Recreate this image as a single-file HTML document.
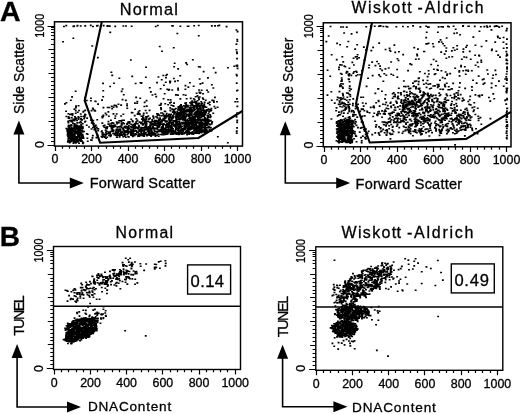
<!DOCTYPE html><html><head><meta charset="utf-8"><style>html,body{margin:0;padding:0;background:#fff;}svg{display:block;filter:grayscale(1);}text{font-family:"Liberation Sans", sans-serif;fill:#000;stroke:#000;stroke-width:0.3px;}</style></head><body>
<svg width="520" height="414" viewBox="0 0 520 414">
<rect width="520" height="414" fill="#fff"/>
<text x="-0.1" y="20.8" font-size="28.5" font-weight="bold">A</text>
<text x="-0.3" y="246.3" font-size="28" font-weight="bold">B</text>
<text x="119.8" y="15" font-size="16.3" textLength="58" lengthAdjust="spacing">Normal</text>
<g stroke="#000" fill="none">
<rect x="54.5" y="21.8" width="188" height="124.3" stroke-width="1.5"/>
<path d="M51 27.5h3M51 29.5h3M51 32.5h3M51 35.5h3M51 39.5h3M51 44.5h3M48.5 49.5h5.5M51 53.5h3M51 57.5h3M51 61.5h3M51 65.5h3M51 69.5h3M48.5 73.5h5.5M51 77.5h3M51 81.5h3M51 85.5h3M51 89.5h3M51 93.5h3M48.5 97.5h5.5M51 101.5h3M51 105.5h3M51 109.5h3M51 113.5h3M51 117.5h3M48.5 121.5h5.5M51 125.5h3M51 129.5h3M51 133.5h3M51 137.5h3M51 141.5h3M47.5 26.5h6.5M47.5 145.5h6.5" stroke-width="1.2"/>
<path d="M55.5 146v5M62.5 146v2.8M69.5 146v2.8M76.5 146v2.8M84.5 146v2.8M91.5 146v5M98.5 146v2.8M106.5 146v2.8M113.5 146v2.8M120.5 146v2.8M128.5 146v5M135.5 146v2.8M142.5 146v2.8M149.5 146v2.8M157.5 146v2.8M164.5 146v5M171.5 146v2.8M179.5 146v2.8M186.5 146v2.8M193.5 146v2.8M201.5 146v5M208.5 146v2.8M215.5 146v2.8M222.5 146v2.8M230.5 146v2.8M237.5 146v5" stroke-width="1.2"/>
</g>
<text x="55" y="163.3" font-size="12.4" text-anchor="middle">0</text>
<text x="91.5" y="163.3" font-size="12.4" text-anchor="middle">200</text>
<text x="128" y="163.3" font-size="12.4" text-anchor="middle">400</text>
<text x="164.5" y="163.3" font-size="12.4" text-anchor="middle">600</text>
<text x="201" y="163.3" font-size="12.4" text-anchor="middle">800</text>
<text x="237.5" y="163.3" font-size="12.4" text-anchor="middle">1000</text>
<text x="44" y="25.8" font-size="12.4" text-anchor="middle" textLength="24" lengthAdjust="spacingAndGlyphs" transform="rotate(-90 44 25.8)">1000</text>
<text x="44" y="144.6" font-size="12.4" text-anchor="middle" transform="rotate(-90 44 144.6)">0</text>
<text x="23.6" y="75.8" font-size="13.8" text-anchor="middle" textLength="76.5" lengthAdjust="spacing" transform="rotate(-90 23.6 75.8)">Side Scatter</text>
<text x="89.8" y="188" font-size="14.5" textLength="105.5" lengthAdjust="spacing">Forward Scatter</text>
<g stroke="#000" fill="#000">
<path d="M18.9 133.4V183H70.8" stroke-width="1.6" fill="none" stroke-linejoin="miter"/>
<polygon points="18.9,120.4 13.4,134.4 24.4,134.4" fill="#000" stroke="none"/>
<polygon points="83.8,183 69.8,177.5 69.8,188.5" fill="#000" stroke="none"/>
</g>
<polyline points="101.8,21.8 84.7,100.7 100.1,142.7 198.5,138 242.5,111" fill="none" stroke="#000" stroke-width="2.1" stroke-linejoin="miter"/>
<text x="351.6" y="13.2" font-size="15.7" textLength="54.5" lengthAdjust="spacing">Wiskot</text>
<text x="407.3" y="13.2" font-size="15.7">t</text>
<text x="417.6" y="13.2" font-size="15.7" textLength="66" lengthAdjust="spacing">-Aldrich</text>
<g stroke="#000" fill="none">
<rect x="323.3" y="22.8" width="187.7" height="124" stroke-width="1.5"/>
<path d="M320 28.5h3M320 30.5h3M320 32.5h3M320 36.5h3M320 40.5h3M320 45.5h3M317.5 50.5h5.5M320 54.5h3M320 58.5h3M320 62.5h3M320 66.5h3M320 70.5h3M317.5 74.5h5.5M320 78.5h3M320 82.5h3M320 86.5h3M320 90.5h3M320 94.5h3M317.5 98.5h5.5M320 102.5h3M320 106.5h3M320 110.5h3M320 114.5h3M320 118.5h3M317.5 122.5h5.5M320 126.5h3M320 130.5h3M320 134.5h3M320 138.5h3M320 142.5h3M316.5 26.5h6.5M316.5 146.5h6.5" stroke-width="1.2"/>
<path d="M324.5 147v5M331.5 147v2.8M338.5 147v2.8M345.5 147v2.8M353.5 147v2.8M360.5 147v5M367.5 147v2.8M375.5 147v2.8M382.5 147v2.8M389.5 147v2.8M397.5 147v5M404.5 147v2.8M411.5 147v2.8M418.5 147v2.8M426.5 147v2.8M433.5 147v5M440.5 147v2.8M448.5 147v2.8M455.5 147v2.8M462.5 147v2.8M470.5 147v5M477.5 147v2.8M484.5 147v2.8M491.5 147v2.8M499.5 147v2.8M506.5 147v5" stroke-width="1.2"/>
</g>
<text x="324" y="163.5" font-size="12.4" text-anchor="middle">0</text>
<text x="360.5" y="163.5" font-size="12.4" text-anchor="middle">200</text>
<text x="397" y="163.5" font-size="12.4" text-anchor="middle">400</text>
<text x="433.5" y="163.5" font-size="12.4" text-anchor="middle">600</text>
<text x="470" y="163.5" font-size="12.4" text-anchor="middle">800</text>
<text x="506.5" y="163.5" font-size="12.4" text-anchor="middle">1000</text>
<text x="313" y="26.3" font-size="12.4" text-anchor="middle" textLength="24" lengthAdjust="spacingAndGlyphs" transform="rotate(-90 313 26.3)">1000</text>
<text x="313" y="145" font-size="12.4" text-anchor="middle" transform="rotate(-90 313 145)">0</text>
<text x="293.3" y="75.8" font-size="13.8" text-anchor="middle" textLength="76.5" lengthAdjust="spacing" transform="rotate(-90 293.3 75.8)">Side Scatter</text>
<text x="355.6" y="188.6" font-size="14.5" textLength="106.5" lengthAdjust="spacing">Forward Scatter</text>
<g stroke="#000" fill="#000">
<path d="M285.3 134.3V183H337.2" stroke-width="1.6" fill="none" stroke-linejoin="miter"/>
<polygon points="285.3,121.3 279.8,135.3 290.8,135.3" fill="#000" stroke="none"/>
<polygon points="350.2,183 336.2,177.5 336.2,188.5" fill="#000" stroke="none"/>
</g>
<polyline points="372,22.8 356,103.8 369.7,142.5 466.2,138.9 511,111.8" fill="none" stroke="#000" stroke-width="2.1" stroke-linejoin="miter"/>
<text x="115.5" y="238.2" font-size="15.8" textLength="57.5" lengthAdjust="spacing">Normal</text>
<g stroke="#000" fill="none">
<rect x="53.5" y="246.5" width="187" height="123" stroke-width="1.4"/>
<path d="M50.3 252.5h3M50.3 254.5h3M50.3 256.5h3M50.3 260.5h3M50.3 263.5h3M50.3 268.5h3M47.8 274.5h5.5M50.3 278.5h3M50.3 281.5h3M50.3 285.5h3M50.3 289.5h3M50.3 293.5h3M47.8 297.5h5.5M50.3 301.5h3M50.3 305.5h3M50.3 309.5h3M50.3 313.5h3M50.3 317.5h3M47.8 321.5h5.5M50.3 325.5h3M50.3 329.5h3M50.3 333.5h3M50.3 337.5h3M50.3 340.5h3M47.8 344.5h5.5M50.3 348.5h3M50.3 352.5h3M50.3 356.5h3M50.3 360.5h3M50.3 364.5h3M46.8 250.5h6.5M46.8 368.5h6.5" stroke-width="1.2"/>
<path d="M54.5 369.5v5M61.5 369.5v2.8M68.5 369.5v2.8M76.5 369.5v2.8M83.5 369.5v2.8M90.5 369.5v5M97.5 369.5v2.8M104.5 369.5v2.8M112.5 369.5v2.8M119.5 369.5v2.8M126.5 369.5v5M133.5 369.5v2.8M141.5 369.5v2.8M148.5 369.5v2.8M155.5 369.5v2.8M162.5 369.5v5M170.5 369.5v2.8M177.5 369.5v2.8M184.5 369.5v2.8M191.5 369.5v2.8M199.5 369.5v5M206.5 369.5v2.8M213.5 369.5v2.8M220.5 369.5v2.8M227.5 369.5v2.8M235.5 369.5v5" stroke-width="1.2"/>
<path d="M53.5 306.2H240.5" stroke-width="1.4"/>
<rect x="187.6" y="264.9" width="43" height="29.2" stroke-width="1.4"/>
</g>
<text x="190.6" y="286.7" font-size="16.6" textLength="33.5" lengthAdjust="spacing">0.14</text>
<text x="54.3" y="387" font-size="12.4" text-anchor="middle">0</text>
<text x="90.48" y="387" font-size="12.4" text-anchor="middle">200</text>
<text x="126.66" y="387" font-size="12.4" text-anchor="middle">400</text>
<text x="162.84" y="387" font-size="12.4" text-anchor="middle">600</text>
<text x="199.02" y="387" font-size="12.4" text-anchor="middle">800</text>
<text x="235.2" y="387" font-size="12.4" text-anchor="middle">1000</text>
<text x="43" y="250.6" font-size="12.4" text-anchor="middle" textLength="24" lengthAdjust="spacingAndGlyphs" transform="rotate(-90 43 250.6)">1000</text>
<text x="43" y="368.5" font-size="12.4" text-anchor="middle" transform="rotate(-90 43 368.5)">0</text>
<text x="23.6" y="315.6" font-size="14.3" text-anchor="middle" textLength="40.5" lengthAdjust="spacing" transform="rotate(-90 23.6 315.6)">TUNEL</text>
<text x="87.9" y="411.2" font-size="13.6" textLength="83.3" lengthAdjust="spacing">DNAContent</text>
<g stroke="#000" fill="#000">
<path d="M17.1 357V407H68" stroke-width="1.6" fill="none" stroke-linejoin="miter"/>
<polygon points="17.1,344 11.6,358 22.6,358" fill="#000" stroke="none"/>
<polygon points="81,407 67,401.5 67,412.5" fill="#000" stroke="none"/>
</g>
<text x="341.6" y="238.2" font-size="16" textLength="54.5" lengthAdjust="spacing">Wiskot</text>
<text x="396.5" y="238.2" font-size="16">t</text>
<text x="407" y="238.2" font-size="16" textLength="66.5" lengthAdjust="spacing">-Aldrich</text>
<g stroke="#000" fill="none">
<rect x="315.8" y="246.8" width="187" height="123.5" stroke-width="1.4"/>
<path d="M312.6 252.5h3M312.6 254.5h3M312.6 256.5h3M312.6 260.5h3M312.6 263.5h3M312.6 268.5h3M310.1 274.5h5.5M312.6 278.5h3M312.6 282.5h3M312.6 286.5h3M312.6 290.5h3M312.6 293.5h3M310.1 297.5h5.5M312.6 301.5h3M312.6 305.5h3M312.6 309.5h3M312.6 313.5h3M312.6 317.5h3M310.1 321.5h5.5M312.6 325.5h3M312.6 329.5h3M312.6 333.5h3M312.6 337.5h3M312.6 341.5h3M310.1 345.5h5.5M312.6 349.5h3M312.6 353.5h3M312.6 357.5h3M312.6 361.5h3M312.6 365.5h3M309.1 250.5h6.5M309.1 369.5h6.5" stroke-width="1.2"/>
<path d="M316.5 370.3v5M323.5 370.3v2.8M330.5 370.3v2.8M338.5 370.3v2.8M345.5 370.3v2.8M352.5 370.3v5M359.5 370.3v2.8M367.5 370.3v2.8M374.5 370.3v2.8M381.5 370.3v2.8M388.5 370.3v5M395.5 370.3v2.8M403.5 370.3v2.8M410.5 370.3v2.8M417.5 370.3v2.8M424.5 370.3v5M432.5 370.3v2.8M439.5 370.3v2.8M446.5 370.3v2.8M453.5 370.3v2.8M461.5 370.3v5M468.5 370.3v2.8M475.5 370.3v2.8M482.5 370.3v2.8M490.5 370.3v2.8M497.5 370.3v5" stroke-width="1.2"/>
<path d="M315.8 307H502.8" stroke-width="1.4"/>
<rect x="451.3" y="263.9" width="43" height="29" stroke-width="1.4"/>
</g>
<text x="454.4" y="285.9" font-size="16.6" textLength="34.5" lengthAdjust="spacing">0.49</text>
<text x="316.3" y="387.5" font-size="12.4" text-anchor="middle">0</text>
<text x="352.52" y="387.5" font-size="12.4" text-anchor="middle">200</text>
<text x="388.74" y="387.5" font-size="12.4" text-anchor="middle">400</text>
<text x="424.96" y="387.5" font-size="12.4" text-anchor="middle">600</text>
<text x="461.18" y="387.5" font-size="12.4" text-anchor="middle">800</text>
<text x="497.4" y="387.5" font-size="12.4" text-anchor="middle">1000</text>
<text x="305.3" y="251" font-size="12.4" text-anchor="middle" textLength="24" lengthAdjust="spacingAndGlyphs" transform="rotate(-90 305.3 251)">1000</text>
<text x="305.3" y="368.4" font-size="12.4" text-anchor="middle" transform="rotate(-90 305.3 368.4)">0</text>
<text x="287.9" y="316.5" font-size="14.3" text-anchor="middle" textLength="41.5" lengthAdjust="spacing" transform="rotate(-90 287.9 316.5)">TUNEL</text>
<text x="352" y="411.7" font-size="13.6" textLength="83.8" lengthAdjust="spacing">DNAContent</text>
<g stroke="#000" fill="#000">
<path d="M282.6 357.8V406.8H334.4" stroke-width="1.6" fill="none" stroke-linejoin="miter"/>
<polygon points="282.6,344.8 277.1,358.8 288.1,358.8" fill="#000" stroke="none"/>
<polygon points="347.4,406.8 333.4,401.3 333.4,412.3" fill="#000" stroke="none"/>
</g>
<path fill="#000" d="M77.1 128.5h1.9v1.6h-1.9zM73.9 136.8h1.9v1.6h-1.9zM71.5 138.6h1.9v1.6h-1.9zM68.7 129.4h1.9v1.6h-1.9zM71.8 134.1h1.9v1.6h-1.9zM72.3 129.3h1.9v1.6h-1.9zM67.8 137.9h1.9v1.6h-1.9zM79.7 132.5h1.9v1.6h-1.9zM73.6 136.4h1.9v1.6h-1.9zM75.9 131.4h1.9v1.6h-1.9zM66.8 134.9h1.9v1.6h-1.9zM70.0 127.6h1.9v1.6h-1.9zM77.4 130.9h1.9v1.6h-1.9zM73.7 141.0h1.9v1.6h-1.9zM77.6 136.6h1.9v1.6h-1.9zM68.4 130.8h1.9v1.6h-1.9zM79.2 126.4h1.9v1.6h-1.9zM79.4 138.7h1.9v1.6h-1.9zM79.4 137.0h1.9v1.6h-1.9zM81.7 127.5h1.9v1.6h-1.9zM70.8 126.5h1.9v1.6h-1.9zM71.7 127.9h1.9v1.6h-1.9zM68.0 141.2h1.9v1.6h-1.9zM68.8 141.0h1.9v1.6h-1.9zM68.1 136.1h1.9v1.6h-1.9zM75.5 139.6h1.9v1.6h-1.9zM78.9 130.5h1.9v1.6h-1.9zM74.3 135.7h1.9v1.6h-1.9zM71.6 136.1h1.9v1.6h-1.9zM67.8 129.4h1.9v1.6h-1.9zM67.9 131.7h1.9v1.6h-1.9zM76.6 135.9h1.9v1.6h-1.9zM77.4 135.1h1.9v1.6h-1.9zM71.4 136.0h1.9v1.6h-1.9zM73.2 133.2h1.9v1.6h-1.9zM67.3 140.8h1.9v1.6h-1.9zM76.5 128.3h1.9v1.6h-1.9zM80.1 133.0h1.9v1.6h-1.9zM66.9 132.5h1.9v1.6h-1.9zM76.1 126.6h1.9v1.6h-1.9zM67.4 137.8h1.9v1.6h-1.9zM77.5 140.7h1.9v1.6h-1.9zM77.7 127.3h1.9v1.6h-1.9zM70.9 130.7h1.9v1.6h-1.9zM68.2 129.8h1.9v1.6h-1.9zM77.1 133.8h1.9v1.6h-1.9zM73.8 127.1h1.9v1.6h-1.9zM77.1 140.4h1.9v1.6h-1.9zM74.9 142.1h1.9v1.6h-1.9zM80.2 135.0h1.9v1.6h-1.9zM67.4 125.6h1.9v1.6h-1.9zM68.4 127.5h1.9v1.6h-1.9zM69.5 137.8h1.9v1.6h-1.9zM69.9 138.8h1.9v1.6h-1.9zM81.6 131.1h1.9v1.6h-1.9zM80.6 133.6h1.9v1.6h-1.9zM70.4 132.1h1.9v1.6h-1.9zM78.7 138.9h1.9v1.6h-1.9zM71.5 134.4h1.9v1.6h-1.9zM68.0 134.3h1.9v1.6h-1.9zM77.6 130.0h1.9v1.6h-1.9zM76.3 141.2h1.9v1.6h-1.9zM76.6 126.6h1.9v1.6h-1.9zM80.0 126.3h1.9v1.6h-1.9zM69.3 140.1h1.9v1.6h-1.9zM69.8 135.6h1.9v1.6h-1.9zM70.6 140.2h1.9v1.6h-1.9zM71.0 131.2h1.9v1.6h-1.9zM72.9 141.1h1.9v1.6h-1.9zM67.3 134.1h1.9v1.6h-1.9zM76.7 129.6h1.9v1.6h-1.9zM68.7 141.2h1.9v1.6h-1.9zM74.4 127.4h1.9v1.6h-1.9zM68.6 133.9h1.9v1.6h-1.9zM79.3 139.2h1.9v1.6h-1.9zM79.4 138.7h1.9v1.6h-1.9zM74.4 139.8h1.9v1.6h-1.9zM80.6 125.6h1.9v1.6h-1.9zM66.6 128.9h1.9v1.6h-1.9zM74.0 129.7h1.9v1.6h-1.9zM81.7 134.2h1.9v1.6h-1.9zM68.9 134.3h1.9v1.6h-1.9zM68.7 134.1h1.9v1.6h-1.9zM69.1 132.1h1.9v1.6h-1.9zM79.0 127.9h1.9v1.6h-1.9zM66.9 131.3h1.9v1.6h-1.9zM80.0 126.7h1.9v1.6h-1.9zM69.8 140.6h1.9v1.6h-1.9zM76.4 130.6h1.9v1.6h-1.9zM71.3 135.4h1.9v1.6h-1.9zM81.9 142.6h1.9v1.6h-1.9zM78.2 126.3h1.9v1.6h-1.9zM80.3 140.4h1.9v1.6h-1.9zM81.5 129.5h1.9v1.6h-1.9zM77.2 139.6h1.9v1.6h-1.9zM68.7 127.4h1.9v1.6h-1.9zM80.0 134.8h1.9v1.6h-1.9zM70.6 139.0h1.9v1.6h-1.9zM79.3 128.7h1.9v1.6h-1.9zM78.6 127.9h1.9v1.6h-1.9zM78.1 134.5h1.9v1.6h-1.9zM69.3 132.6h1.9v1.6h-1.9zM69.9 140.4h1.9v1.6h-1.9zM74.3 137.2h1.9v1.6h-1.9zM73.5 139.2h1.9v1.6h-1.9zM81.8 125.9h1.9v1.6h-1.9zM71.5 131.4h1.9v1.6h-1.9zM69.1 141.0h1.9v1.6h-1.9zM79.0 134.7h1.9v1.6h-1.9zM77.6 126.8h1.9v1.6h-1.9zM70.4 129.7h1.9v1.6h-1.9zM73.1 133.3h1.9v1.6h-1.9zM72.4 139.5h1.9v1.6h-1.9zM69.4 141.1h1.9v1.6h-1.9zM75.4 128.2h1.9v1.6h-1.9zM77.2 135.1h1.9v1.6h-1.9zM68.9 131.9h1.9v1.6h-1.9zM72.1 137.8h1.9v1.6h-1.9zM74.3 129.5h1.9v1.6h-1.9zM68.5 129.0h1.9v1.6h-1.9zM68.7 134.8h1.9v1.6h-1.9zM71.6 136.1h1.9v1.6h-1.9zM74.1 139.4h1.9v1.6h-1.9zM82.4 142.0h1.9v1.6h-1.9zM77.1 135.0h1.9v1.6h-1.9zM80.2 138.9h1.9v1.6h-1.9zM78.3 126.7h1.9v1.6h-1.9zM78.1 136.7h1.9v1.6h-1.9zM70.3 129.2h1.9v1.6h-1.9zM73.5 130.9h1.9v1.6h-1.9zM79.1 138.7h1.9v1.6h-1.9zM71.9 134.5h1.9v1.6h-1.9zM79.7 137.4h1.9v1.6h-1.9zM74.2 128.1h1.9v1.6h-1.9zM82.6 137.5h1.9v1.6h-1.9zM78.4 135.4h1.9v1.6h-1.9zM72.4 134.1h1.9v1.6h-1.9zM75.1 136.0h1.9v1.6h-1.9zM69.2 137.9h1.9v1.6h-1.9zM78.4 129.8h1.9v1.6h-1.9zM79.6 139.1h1.9v1.6h-1.9zM79.1 139.4h1.9v1.6h-1.9zM79.9 140.3h1.9v1.6h-1.9zM72.6 139.7h1.9v1.6h-1.9zM78.8 125.7h1.9v1.6h-1.9zM68.1 133.9h1.9v1.6h-1.9zM79.0 131.5h1.9v1.6h-1.9zM73.9 135.2h1.9v1.6h-1.9zM67.8 136.2h1.9v1.6h-1.9zM77.0 134.0h1.9v1.6h-1.9zM77.8 128.7h1.9v1.6h-1.9zM74.4 127.6h1.9v1.6h-1.9zM70.4 132.7h1.9v1.6h-1.9zM77.6 140.5h1.9v1.6h-1.9zM69.3 131.6h1.9v1.6h-1.9zM77.5 133.6h1.9v1.6h-1.9zM79.0 129.5h1.9v1.6h-1.9zM81.9 136.6h1.9v1.6h-1.9zM78.0 129.5h1.9v1.6h-1.9zM66.2 129.4h1.9v1.6h-1.9zM79.4 135.0h1.9v1.6h-1.9zM67.5 127.8h1.9v1.6h-1.9zM75.4 138.0h1.9v1.6h-1.9zM70.0 128.2h1.9v1.6h-1.9zM66.6 133.8h1.9v1.6h-1.9zM68.7 141.9h1.9v1.6h-1.9zM73.6 134.0h1.9v1.6h-1.9zM72.6 142.5h1.9v1.6h-1.9zM78.4 129.5h1.9v1.6h-1.9zM74.9 139.0h1.9v1.6h-1.9zM72.5 142.4h1.9v1.6h-1.9zM75.6 136.8h1.9v1.6h-1.9zM81.1 135.5h1.9v1.6h-1.9zM80.2 134.1h1.9v1.6h-1.9zM75.2 130.5h1.9v1.6h-1.9zM71.5 134.2h1.9v1.6h-1.9zM66.5 130.8h1.9v1.6h-1.9zM78.1 142.5h1.9v1.6h-1.9zM69.3 131.1h1.9v1.6h-1.9zM73.1 127.3h1.9v1.6h-1.9zM77.0 128.6h1.9v1.6h-1.9zM74.1 132.8h1.9v1.6h-1.9zM78.2 134.8h1.9v1.6h-1.9zM81.2 127.7h1.9v1.6h-1.9zM74.0 131.0h1.9v1.6h-1.9zM77.5 125.3h1.9v1.6h-1.9zM71.0 134.6h1.9v1.6h-1.9zM79.7 125.7h1.9v1.6h-1.9zM75.5 138.8h1.9v1.6h-1.9zM74.6 136.1h1.9v1.6h-1.9zM67.0 128.8h1.9v1.6h-1.9zM66.9 141.2h1.9v1.6h-1.9zM79.1 138.5h1.9v1.6h-1.9zM66.6 129.3h1.9v1.6h-1.9zM67.9 134.1h1.9v1.6h-1.9zM70.2 137.8h1.9v1.6h-1.9zM70.3 130.1h1.9v1.6h-1.9zM75.4 140.9h1.9v1.6h-1.9zM67.3 135.8h1.9v1.6h-1.9zM71.8 138.0h1.9v1.6h-1.9zM81.9 141.5h1.9v1.6h-1.9zM76.3 132.4h1.9v1.6h-1.9zM81.4 133.4h1.9v1.6h-1.9zM76.7 132.5h1.9v1.6h-1.9zM74.7 132.0h1.9v1.6h-1.9zM77.2 128.7h1.9v1.6h-1.9zM67.0 131.6h1.9v1.6h-1.9zM69.2 135.6h1.9v1.6h-1.9zM79.4 132.4h1.9v1.6h-1.9zM68.8 133.5h1.9v1.6h-1.9zM70.2 131.5h1.9v1.6h-1.9zM76.4 132.2h1.9v1.6h-1.9zM77.4 132.5h1.9v1.6h-1.9zM69.2 136.2h1.9v1.6h-1.9zM67.7 135.9h1.9v1.6h-1.9zM79.2 138.2h1.9v1.6h-1.9zM79.0 126.1h1.9v1.6h-1.9zM79.0 138.4h1.9v1.6h-1.9zM81.9 127.3h1.9v1.6h-1.9zM67.4 139.1h1.9v1.6h-1.9zM68.0 133.4h1.9v1.6h-1.9zM70.1 128.6h1.9v1.6h-1.9zM74.2 124.8h1.9v1.6h-1.9zM75.7 140.3h1.9v1.6h-1.9zM73.0 130.0h1.9v1.6h-1.9zM67.8 134.8h1.9v1.6h-1.9zM72.9 131.2h1.9v1.6h-1.9zM68.6 137.7h1.9v1.6h-1.9zM75.2 137.6h1.9v1.6h-1.9zM75.1 139.1h1.9v1.6h-1.9zM72.6 141.0h1.9v1.6h-1.9zM71.1 135.5h1.9v1.6h-1.9zM78.6 126.7h1.9v1.6h-1.9zM70.2 131.7h1.9v1.6h-1.9zM71.1 139.7h1.9v1.6h-1.9zM70.9 133.8h1.9v1.6h-1.9zM77.8 135.4h1.9v1.6h-1.9zM70.9 130.1h1.9v1.6h-1.9zM74.8 141.3h1.9v1.6h-1.9zM67.7 132.5h1.9v1.6h-1.9zM71.4 132.9h1.9v1.6h-1.9zM68.6 134.3h1.9v1.6h-1.9zM70.8 138.8h1.9v1.6h-1.9zM79.7 136.8h1.9v1.6h-1.9zM81.0 137.5h1.9v1.6h-1.9zM70.9 138.5h1.9v1.6h-1.9zM71.9 135.8h1.9v1.6h-1.9zM78.1 126.9h1.9v1.6h-1.9zM79.7 131.3h1.9v1.6h-1.9zM68.8 131.5h1.9v1.6h-1.9zM76.5 133.5h1.9v1.6h-1.9zM74.3 127.2h1.9v1.6h-1.9zM65.4 127.7h1.9v1.6h-1.9zM73.2 138.0h1.9v1.6h-1.9zM74.3 137.8h1.9v1.6h-1.9zM79.2 137.3h1.9v1.6h-1.9zM78.3 134.0h1.9v1.6h-1.9zM73.7 125.2h1.9v1.6h-1.9zM72.8 133.7h1.9v1.6h-1.9zM69.1 132.8h1.9v1.6h-1.9zM76.4 137.5h1.9v1.6h-1.9zM80.5 127.5h1.9v1.6h-1.9zM73.2 126.1h1.9v1.6h-1.9zM77.9 139.0h1.9v1.6h-1.9zM73.3 133.4h1.9v1.6h-1.9zM80.0 134.3h1.9v1.6h-1.9zM81.0 137.2h1.9v1.6h-1.9zM76.2 138.2h1.9v1.6h-1.9zM71.2 135.0h1.9v1.6h-1.9zM70.9 127.5h1.9v1.6h-1.9zM70.3 132.7h1.9v1.6h-1.9zM71.7 133.0h1.9v1.6h-1.9zM67.8 133.8h1.9v1.6h-1.9zM74.6 141.1h1.9v1.6h-1.9zM78.0 136.8h1.9v1.6h-1.9zM80.2 137.8h1.9v1.6h-1.9zM70.5 137.2h1.9v1.6h-1.9zM67.0 140.5h1.9v1.6h-1.9zM73.4 130.1h1.9v1.6h-1.9zM68.1 140.0h1.9v1.6h-1.9zM77.7 133.8h1.9v1.6h-1.9zM73.1 140.2h1.9v1.6h-1.9zM75.3 130.6h1.9v1.6h-1.9zM79.8 129.5h1.9v1.6h-1.9zM70.5 137.8h1.9v1.6h-1.9zM77.8 125.8h1.9v1.6h-1.9zM68.6 137.5h1.9v1.6h-1.9zM71.4 131.9h1.9v1.6h-1.9zM75.7 132.1h1.9v1.6h-1.9zM71.5 133.6h1.9v1.6h-1.9zM79.1 127.8h1.9v1.6h-1.9zM71.0 132.3h1.9v1.6h-1.9zM72.6 140.1h1.9v1.6h-1.9zM81.9 134.8h1.9v1.6h-1.9zM83.1 130.7h1.9v1.6h-1.9zM80.9 140.1h1.9v1.6h-1.9zM70.1 130.2h1.9v1.6h-1.9zM67.4 131.5h1.9v1.6h-1.9zM72.6 140.9h1.9v1.6h-1.9zM78.3 135.1h1.9v1.6h-1.9zM70.2 128.8h1.9v1.6h-1.9zM69.8 139.2h1.9v1.6h-1.9zM72.5 136.5h1.9v1.6h-1.9zM69.6 134.4h1.9v1.6h-1.9zM78.6 139.0h1.9v1.6h-1.9zM74.8 127.9h1.9v1.6h-1.9zM79.4 133.8h1.9v1.6h-1.9zM68.5 133.5h1.9v1.6h-1.9zM70.8 131.9h1.9v1.6h-1.9zM78.5 127.5h1.9v1.6h-1.9zM82.3 136.4h1.9v1.6h-1.9zM80.0 138.1h1.9v1.6h-1.9zM81.1 119.1h1.9v1.6h-1.9zM76.1 119.7h1.9v1.6h-1.9zM74.0 124.2h1.9v1.6h-1.9zM70.4 120.9h1.9v1.6h-1.9zM74.4 117.3h1.9v1.6h-1.9zM73.3 125.6h1.9v1.6h-1.9zM80.2 118.3h1.9v1.6h-1.9zM83.2 117.9h1.9v1.6h-1.9zM67.7 116.0h1.9v1.6h-1.9zM71.0 120.8h1.9v1.6h-1.9zM79.7 121.3h1.9v1.6h-1.9zM85.8 124.4h1.9v1.6h-1.9zM76.3 122.1h1.9v1.6h-1.9zM69.0 113.7h1.9v1.6h-1.9zM80.1 115.7h1.9v1.6h-1.9zM68.6 119.8h1.9v1.6h-1.9zM67.5 117.4h1.9v1.6h-1.9zM73.8 122.9h1.9v1.6h-1.9zM74.6 125.6h1.9v1.6h-1.9zM72.1 119.7h1.9v1.6h-1.9zM74.9 118.4h1.9v1.6h-1.9zM83.6 116.5h1.9v1.6h-1.9zM80.0 118.0h1.9v1.6h-1.9zM77.9 116.7h1.9v1.6h-1.9zM72.1 122.4h1.9v1.6h-1.9zM78.7 126.4h1.9v1.6h-1.9zM74.0 116.0h1.9v1.6h-1.9zM84.6 113.9h1.9v1.6h-1.9zM70.7 124.3h1.9v1.6h-1.9zM70.8 116.9h1.9v1.6h-1.9zM80.3 124.3h1.9v1.6h-1.9zM70.5 119.4h1.9v1.6h-1.9zM75.5 117.5h1.9v1.6h-1.9zM72.5 118.5h1.9v1.6h-1.9zM67.4 113.0h1.9v1.6h-1.9zM67.5 121.8h1.9v1.6h-1.9zM68.7 125.6h1.9v1.6h-1.9zM82.6 115.7h1.9v1.6h-1.9zM75.4 124.7h1.9v1.6h-1.9zM71.7 112.9h1.9v1.6h-1.9zM75.6 124.2h1.9v1.6h-1.9zM80.3 122.0h1.9v1.6h-1.9zM79.6 120.6h1.9v1.6h-1.9zM84.1 114.8h1.9v1.6h-1.9zM78.1 125.3h1.9v1.6h-1.9zM70.4 113.3h1.9v1.6h-1.9zM76.1 125.0h1.9v1.6h-1.9zM74.8 112.4h1.9v1.6h-1.9zM67.8 124.4h1.9v1.6h-1.9zM83.9 121.2h1.9v1.6h-1.9zM73.7 119.9h1.9v1.6h-1.9zM83.6 115.0h1.9v1.6h-1.9zM77.6 118.3h1.9v1.6h-1.9zM73.5 118.9h1.9v1.6h-1.9zM68.1 126.3h1.9v1.6h-1.9zM69.5 125.0h1.9v1.6h-1.9zM80.2 123.9h1.9v1.6h-1.9zM78.5 122.0h1.9v1.6h-1.9zM73.4 123.9h1.9v1.6h-1.9zM79.8 113.2h1.9v1.6h-1.9zM67.2 120.6h1.9v1.6h-1.9zM70.2 124.0h1.9v1.6h-1.9zM86.2 117.3h1.9v1.6h-1.9zM77.4 115.9h1.9v1.6h-1.9zM82.4 115.7h1.9v1.6h-1.9zM71.5 114.6h1.9v1.6h-1.9zM68.4 117.3h1.9v1.6h-1.9zM84.4 114.0h1.9v1.6h-1.9zM69.0 119.8h1.9v1.6h-1.9zM65.4 115.7h1.9v1.6h-1.9zM84.0 113.6h1.9v1.6h-1.9zM84.5 120.4h1.9v1.6h-1.9zM73.4 119.9h1.9v1.6h-1.9zM71.8 119.4h1.9v1.6h-1.9zM85.8 99.7h1.9v1.6h-1.9zM75.0 107.0h1.9v1.6h-1.9zM90.0 97.4h1.9v1.6h-1.9zM76.8 111.4h1.9v1.6h-1.9zM77.6 105.0h1.9v1.6h-1.9zM92.3 108.5h1.9v1.6h-1.9zM65.5 101.9h1.9v1.6h-1.9zM69.9 99.4h1.9v1.6h-1.9zM90.6 109.8h1.9v1.6h-1.9zM94.3 110.2h1.9v1.6h-1.9zM74.8 109.8h1.9v1.6h-1.9zM84.2 96.8h1.9v1.6h-1.9zM82.6 110.4h1.9v1.6h-1.9zM84.3 109.6h1.9v1.6h-1.9zM97.1 103.3h1.9v1.6h-1.9zM93.6 109.5h1.9v1.6h-1.9zM91.9 107.4h1.9v1.6h-1.9zM93.5 109.8h1.9v1.6h-1.9zM89.9 100.0h1.9v1.6h-1.9zM73.5 108.3h1.9v1.6h-1.9zM94.8 100.7h1.9v1.6h-1.9zM64.0 103.1h1.9v1.6h-1.9zM94.3 100.5h1.9v1.6h-1.9zM71.1 96.1h1.9v1.6h-1.9zM65.1 110.4h1.9v1.6h-1.9zM78.2 109.7h1.9v1.6h-1.9zM82.3 111.1h1.9v1.6h-1.9zM82.2 136.3h1.9v1.6h-1.9zM93.4 128.9h1.9v1.6h-1.9zM81.8 122.9h1.9v1.6h-1.9zM91.5 137.1h1.9v1.6h-1.9zM91.9 134.8h1.9v1.6h-1.9zM94.2 125.3h1.9v1.6h-1.9zM90.8 139.3h1.9v1.6h-1.9zM88.1 126.2h1.9v1.6h-1.9zM96.3 128.0h1.9v1.6h-1.9zM81.6 137.1h1.9v1.6h-1.9zM97.2 130.0h1.9v1.6h-1.9zM90.5 118.9h1.9v1.6h-1.9zM85.8 132.9h1.9v1.6h-1.9zM90.0 139.2h1.9v1.6h-1.9zM92.3 119.7h1.9v1.6h-1.9zM90.6 128.2h1.9v1.6h-1.9zM92.0 126.7h1.9v1.6h-1.9zM96.3 119.0h1.9v1.6h-1.9zM95.8 126.4h1.9v1.6h-1.9zM86.8 140.4h1.9v1.6h-1.9zM95.5 136.8h1.9v1.6h-1.9zM86.7 133.4h1.9v1.6h-1.9zM96.7 134.6h1.9v1.6h-1.9zM97.4 128.1h1.9v1.6h-1.9zM90.0 119.4h1.9v1.6h-1.9zM92.9 122.7h1.9v1.6h-1.9zM94.9 124.5h1.9v1.6h-1.9zM90.8 122.1h1.9v1.6h-1.9zM86.4 137.4h1.9v1.6h-1.9zM201.7 124.1h1.9v1.6h-1.9zM174.9 116.5h1.9v1.6h-1.9zM123.2 129.4h1.9v1.6h-1.9zM193.3 129.7h1.9v1.6h-1.9zM197.6 130.8h1.9v1.6h-1.9zM139.7 133.5h1.9v1.6h-1.9zM141.0 130.3h1.9v1.6h-1.9zM184.1 118.3h1.9v1.6h-1.9zM133.0 125.3h1.9v1.6h-1.9zM180.9 114.4h1.9v1.6h-1.9zM172.5 109.8h1.9v1.6h-1.9zM106.7 106.7h1.9v1.6h-1.9zM202.1 123.1h1.9v1.6h-1.9zM169.4 109.4h1.9v1.6h-1.9zM147.7 129.1h1.9v1.6h-1.9zM173.3 125.0h1.9v1.6h-1.9zM115.8 121.3h1.9v1.6h-1.9zM177.2 127.8h1.9v1.6h-1.9zM177.9 116.1h1.9v1.6h-1.9zM159.5 130.5h1.9v1.6h-1.9zM161.0 121.1h1.9v1.6h-1.9zM192.6 117.3h1.9v1.6h-1.9zM189.9 107.1h1.9v1.6h-1.9zM135.3 117.9h1.9v1.6h-1.9zM199.8 123.6h1.9v1.6h-1.9zM104.7 129.5h1.9v1.6h-1.9zM178.1 113.9h1.9v1.6h-1.9zM104.6 112.4h1.9v1.6h-1.9zM201.8 118.6h1.9v1.6h-1.9zM140.7 132.9h1.9v1.6h-1.9zM183.0 116.6h1.9v1.6h-1.9zM130.9 130.2h1.9v1.6h-1.9zM109.3 125.4h1.9v1.6h-1.9zM126.1 123.1h1.9v1.6h-1.9zM126.2 123.7h1.9v1.6h-1.9zM175.1 126.9h1.9v1.6h-1.9zM194.4 123.9h1.9v1.6h-1.9zM192.4 115.8h1.9v1.6h-1.9zM198.2 130.6h1.9v1.6h-1.9zM112.6 106.5h1.9v1.6h-1.9zM172.6 108.8h1.9v1.6h-1.9zM136.4 100.7h1.9v1.6h-1.9zM173.8 132.3h1.9v1.6h-1.9zM196.7 125.2h1.9v1.6h-1.9zM122.2 127.9h1.9v1.6h-1.9zM179.4 124.3h1.9v1.6h-1.9zM198.1 98.6h1.9v1.6h-1.9zM205.4 129.2h1.9v1.6h-1.9zM204.1 105.9h1.9v1.6h-1.9zM197.7 121.6h1.9v1.6h-1.9zM162.7 118.3h1.9v1.6h-1.9zM203.9 113.9h1.9v1.6h-1.9zM170.9 118.0h1.9v1.6h-1.9zM175.9 127.7h1.9v1.6h-1.9zM130.3 134.5h1.9v1.6h-1.9zM153.7 130.8h1.9v1.6h-1.9zM115.8 106.1h1.9v1.6h-1.9zM132.7 134.7h1.9v1.6h-1.9zM174.1 125.1h1.9v1.6h-1.9zM142.6 127.2h1.9v1.6h-1.9zM187.7 124.4h1.9v1.6h-1.9zM214.0 96.6h1.9v1.6h-1.9zM145.4 118.9h1.9v1.6h-1.9zM139.5 82.0h1.9v1.6h-1.9zM179.5 132.1h1.9v1.6h-1.9zM148.3 134.0h1.9v1.6h-1.9zM199.5 130.2h1.9v1.6h-1.9zM202.3 118.4h1.9v1.6h-1.9zM140.5 115.4h1.9v1.6h-1.9zM163.7 116.5h1.9v1.6h-1.9zM178.4 122.0h1.9v1.6h-1.9zM138.2 134.2h1.9v1.6h-1.9zM188.1 131.8h1.9v1.6h-1.9zM151.4 120.0h1.9v1.6h-1.9zM172.7 120.0h1.9v1.6h-1.9zM205.5 106.5h1.9v1.6h-1.9zM160.7 126.9h1.9v1.6h-1.9zM160.7 123.3h1.9v1.6h-1.9zM189.5 116.5h1.9v1.6h-1.9zM139.8 129.1h1.9v1.6h-1.9zM127.9 131.8h1.9v1.6h-1.9zM201.6 113.7h1.9v1.6h-1.9zM146.9 130.9h1.9v1.6h-1.9zM147.6 134.2h1.9v1.6h-1.9zM200.6 121.5h1.9v1.6h-1.9zM180.8 133.3h1.9v1.6h-1.9zM173.2 66.0h1.9v1.6h-1.9zM159.1 117.2h1.9v1.6h-1.9zM182.0 122.0h1.9v1.6h-1.9zM187.9 131.9h1.9v1.6h-1.9zM150.7 124.0h1.9v1.6h-1.9zM181.0 112.0h1.9v1.6h-1.9zM142.6 124.0h1.9v1.6h-1.9zM165.6 132.6h1.9v1.6h-1.9zM207.1 122.2h1.9v1.6h-1.9zM188.3 124.3h1.9v1.6h-1.9zM143.2 135.3h1.9v1.6h-1.9zM105.2 127.7h1.9v1.6h-1.9zM123.5 130.4h1.9v1.6h-1.9zM185.1 132.2h1.9v1.6h-1.9zM164.7 121.2h1.9v1.6h-1.9zM197.4 111.6h1.9v1.6h-1.9zM193.4 124.7h1.9v1.6h-1.9zM159.7 88.0h1.9v1.6h-1.9zM109.6 130.7h1.9v1.6h-1.9zM167.3 124.8h1.9v1.6h-1.9zM199.4 130.6h1.9v1.6h-1.9zM107.9 115.4h1.9v1.6h-1.9zM195.4 104.2h1.9v1.6h-1.9zM140.6 121.5h1.9v1.6h-1.9zM131.5 120.1h1.9v1.6h-1.9zM205.1 131.6h1.9v1.6h-1.9zM202.5 106.9h1.9v1.6h-1.9zM157.8 135.4h1.9v1.6h-1.9zM168.2 130.0h1.9v1.6h-1.9zM205.2 129.0h1.9v1.6h-1.9zM199.7 112.9h1.9v1.6h-1.9zM187.6 127.1h1.9v1.6h-1.9zM161.8 132.0h1.9v1.6h-1.9zM110.4 126.8h1.9v1.6h-1.9zM189.0 107.1h1.9v1.6h-1.9zM193.7 108.2h1.9v1.6h-1.9zM162.7 119.7h1.9v1.6h-1.9zM177.5 123.4h1.9v1.6h-1.9zM203.2 120.2h1.9v1.6h-1.9zM149.8 134.3h1.9v1.6h-1.9zM147.5 120.6h1.9v1.6h-1.9zM202.0 113.5h1.9v1.6h-1.9zM177.5 120.6h1.9v1.6h-1.9zM156.3 131.7h1.9v1.6h-1.9zM124.4 131.1h1.9v1.6h-1.9zM172.3 123.0h1.9v1.6h-1.9zM185.2 62.1h1.9v1.6h-1.9zM144.9 76.5h1.9v1.6h-1.9zM119.5 125.6h1.9v1.6h-1.9zM216.0 100.9h1.9v1.6h-1.9zM203.2 115.6h1.9v1.6h-1.9zM135.0 133.3h1.9v1.6h-1.9zM108.1 134.7h1.9v1.6h-1.9zM107.5 131.3h1.9v1.6h-1.9zM160.2 108.6h1.9v1.6h-1.9zM199.6 109.0h1.9v1.6h-1.9zM150.2 130.9h1.9v1.6h-1.9zM199.1 114.2h1.9v1.6h-1.9zM187.0 104.8h1.9v1.6h-1.9zM202.4 109.2h1.9v1.6h-1.9zM197.4 103.0h1.9v1.6h-1.9zM183.4 119.2h1.9v1.6h-1.9zM120.6 134.4h1.9v1.6h-1.9zM191.7 115.6h1.9v1.6h-1.9zM189.8 114.3h1.9v1.6h-1.9zM101.5 117.0h1.9v1.6h-1.9zM183.8 108.6h1.9v1.6h-1.9zM206.3 123.1h1.9v1.6h-1.9zM185.6 120.9h1.9v1.6h-1.9zM116.5 126.3h1.9v1.6h-1.9zM173.3 131.1h1.9v1.6h-1.9zM184.7 120.9h1.9v1.6h-1.9zM187.0 123.6h1.9v1.6h-1.9zM137.5 127.2h1.9v1.6h-1.9zM157.6 119.7h1.9v1.6h-1.9zM165.0 76.9h1.9v1.6h-1.9zM200.2 124.9h1.9v1.6h-1.9zM117.6 130.3h1.9v1.6h-1.9zM153.6 127.9h1.9v1.6h-1.9zM191.7 117.4h1.9v1.6h-1.9zM199.2 66.2h1.9v1.6h-1.9zM145.8 112.2h1.9v1.6h-1.9zM166.5 124.1h1.9v1.6h-1.9zM158.9 114.8h1.9v1.6h-1.9zM197.2 118.3h1.9v1.6h-1.9zM201.5 114.4h1.9v1.6h-1.9zM137.0 127.9h1.9v1.6h-1.9zM165.4 128.9h1.9v1.6h-1.9zM138.1 130.6h1.9v1.6h-1.9zM151.0 133.6h1.9v1.6h-1.9zM128.7 130.7h1.9v1.6h-1.9zM115.0 132.1h1.9v1.6h-1.9zM163.8 119.9h1.9v1.6h-1.9zM192.4 127.9h1.9v1.6h-1.9zM190.6 121.8h1.9v1.6h-1.9zM198.8 127.7h1.9v1.6h-1.9zM185.4 131.6h1.9v1.6h-1.9zM154.5 135.4h1.9v1.6h-1.9zM166.5 126.4h1.9v1.6h-1.9zM184.5 127.2h1.9v1.6h-1.9zM175.2 132.7h1.9v1.6h-1.9zM187.0 120.1h1.9v1.6h-1.9zM151.4 134.2h1.9v1.6h-1.9zM192.2 127.0h1.9v1.6h-1.9zM123.0 130.0h1.9v1.6h-1.9zM185.0 131.8h1.9v1.6h-1.9zM198.8 118.8h1.9v1.6h-1.9zM163.6 132.3h1.9v1.6h-1.9zM191.7 131.1h1.9v1.6h-1.9zM184.5 84.8h1.9v1.6h-1.9zM137.4 135.0h1.9v1.6h-1.9zM145.0 129.0h1.9v1.6h-1.9zM199.3 112.2h1.9v1.6h-1.9zM202.2 107.3h1.9v1.6h-1.9zM150.2 135.4h1.9v1.6h-1.9zM162.9 122.9h1.9v1.6h-1.9zM181.0 125.4h1.9v1.6h-1.9zM196.5 95.1h1.9v1.6h-1.9zM200.5 132.0h1.9v1.6h-1.9zM127.2 121.3h1.9v1.6h-1.9zM189.6 116.6h1.9v1.6h-1.9zM159.3 122.2h1.9v1.6h-1.9zM164.6 117.3h1.9v1.6h-1.9zM192.8 97.9h1.9v1.6h-1.9zM201.4 125.3h1.9v1.6h-1.9zM195.8 129.6h1.9v1.6h-1.9zM178.0 118.3h1.9v1.6h-1.9zM190.9 133.2h1.9v1.6h-1.9zM205.0 130.9h1.9v1.6h-1.9zM150.3 128.4h1.9v1.6h-1.9zM156.6 117.1h1.9v1.6h-1.9zM184.7 102.6h1.9v1.6h-1.9zM183.8 110.2h1.9v1.6h-1.9zM120.5 133.8h1.9v1.6h-1.9zM168.8 124.6h1.9v1.6h-1.9zM169.5 121.8h1.9v1.6h-1.9zM143.0 133.7h1.9v1.6h-1.9zM188.2 125.8h1.9v1.6h-1.9zM175.0 122.1h1.9v1.6h-1.9zM165.8 112.8h1.9v1.6h-1.9zM111.4 127.8h1.9v1.6h-1.9zM132.4 129.3h1.9v1.6h-1.9zM207.0 126.9h1.9v1.6h-1.9zM207.6 102.7h1.9v1.6h-1.9zM195.8 110.7h1.9v1.6h-1.9zM161.8 133.3h1.9v1.6h-1.9zM134.2 108.5h1.9v1.6h-1.9zM140.7 122.9h1.9v1.6h-1.9zM210.9 84.0h1.9v1.6h-1.9zM200.5 129.3h1.9v1.6h-1.9zM189.8 132.0h1.9v1.6h-1.9zM162.0 123.8h1.9v1.6h-1.9zM172.2 122.9h1.9v1.6h-1.9zM166.1 131.0h1.9v1.6h-1.9zM198.4 112.3h1.9v1.6h-1.9zM132.7 127.8h1.9v1.6h-1.9zM176.7 129.3h1.9v1.6h-1.9zM203.8 119.0h1.9v1.6h-1.9zM198.4 125.1h1.9v1.6h-1.9zM171.9 111.5h1.9v1.6h-1.9zM184.5 115.2h1.9v1.6h-1.9zM110.8 105.6h1.9v1.6h-1.9zM180.1 112.8h1.9v1.6h-1.9zM172.7 131.4h1.9v1.6h-1.9zM175.5 127.1h1.9v1.6h-1.9zM128.5 122.6h1.9v1.6h-1.9zM180.3 117.1h1.9v1.6h-1.9zM188.0 109.8h1.9v1.6h-1.9zM114.0 124.3h1.9v1.6h-1.9zM207.0 116.9h1.9v1.6h-1.9zM102.3 89.9h1.9v1.6h-1.9zM172.2 114.6h1.9v1.6h-1.9zM134.7 127.6h1.9v1.6h-1.9zM150.4 127.6h1.9v1.6h-1.9zM208.5 109.1h1.9v1.6h-1.9zM126.7 126.8h1.9v1.6h-1.9zM194.8 127.9h1.9v1.6h-1.9zM191.4 109.6h1.9v1.6h-1.9zM191.7 120.6h1.9v1.6h-1.9zM195.9 125.5h1.9v1.6h-1.9zM166.1 128.9h1.9v1.6h-1.9zM187.4 129.0h1.9v1.6h-1.9zM147.3 127.3h1.9v1.6h-1.9zM203.8 123.9h1.9v1.6h-1.9zM170.4 104.5h1.9v1.6h-1.9zM116.9 134.4h1.9v1.6h-1.9zM161.5 131.0h1.9v1.6h-1.9zM169.0 126.0h1.9v1.6h-1.9zM198.2 112.3h1.9v1.6h-1.9zM163.1 115.2h1.9v1.6h-1.9zM204.4 120.4h1.9v1.6h-1.9zM153.3 129.2h1.9v1.6h-1.9zM169.3 129.5h1.9v1.6h-1.9zM198.2 122.7h1.9v1.6h-1.9zM199.6 120.2h1.9v1.6h-1.9zM199.0 130.5h1.9v1.6h-1.9zM157.6 129.4h1.9v1.6h-1.9zM106.1 127.6h1.9v1.6h-1.9zM178.9 112.3h1.9v1.6h-1.9zM105.8 130.4h1.9v1.6h-1.9zM176.5 116.7h1.9v1.6h-1.9zM196.2 126.5h1.9v1.6h-1.9zM185.5 105.1h1.9v1.6h-1.9zM143.1 130.9h1.9v1.6h-1.9zM102.0 134.5h1.9v1.6h-1.9zM202.6 122.5h1.9v1.6h-1.9zM183.3 116.0h1.9v1.6h-1.9zM131.0 126.6h1.9v1.6h-1.9zM135.2 96.6h1.9v1.6h-1.9zM111.1 130.2h1.9v1.6h-1.9zM198.7 131.0h1.9v1.6h-1.9zM157.5 76.2h1.9v1.6h-1.9zM143.6 132.3h1.9v1.6h-1.9zM182.3 117.8h1.9v1.6h-1.9zM140.1 133.9h1.9v1.6h-1.9zM168.0 123.6h1.9v1.6h-1.9zM140.3 131.6h1.9v1.6h-1.9zM199.8 116.9h1.9v1.6h-1.9zM172.8 125.2h1.9v1.6h-1.9zM203.8 126.1h1.9v1.6h-1.9zM175.0 122.1h1.9v1.6h-1.9zM166.0 132.7h1.9v1.6h-1.9zM189.4 119.9h1.9v1.6h-1.9zM153.5 120.9h1.9v1.6h-1.9zM195.1 118.9h1.9v1.6h-1.9zM148.9 134.3h1.9v1.6h-1.9zM119.8 125.2h1.9v1.6h-1.9zM193.2 109.6h1.9v1.6h-1.9zM109.3 133.8h1.9v1.6h-1.9zM184.4 107.1h1.9v1.6h-1.9zM198.3 111.3h1.9v1.6h-1.9zM168.1 129.1h1.9v1.6h-1.9zM118.7 134.0h1.9v1.6h-1.9zM164.6 131.3h1.9v1.6h-1.9zM195.8 130.8h1.9v1.6h-1.9zM179.6 124.1h1.9v1.6h-1.9zM114.8 131.2h1.9v1.6h-1.9zM197.6 105.4h1.9v1.6h-1.9zM170.2 119.4h1.9v1.6h-1.9zM120.5 121.1h1.9v1.6h-1.9zM145.0 131.7h1.9v1.6h-1.9zM173.3 124.7h1.9v1.6h-1.9zM195.0 130.9h1.9v1.6h-1.9zM170.8 126.8h1.9v1.6h-1.9zM178.4 120.6h1.9v1.6h-1.9zM115.4 128.8h1.9v1.6h-1.9zM116.3 128.2h1.9v1.6h-1.9zM167.3 125.2h1.9v1.6h-1.9zM162.1 126.0h1.9v1.6h-1.9zM136.0 131.3h1.9v1.6h-1.9zM142.6 117.0h1.9v1.6h-1.9zM201.5 131.2h1.9v1.6h-1.9zM173.8 108.5h1.9v1.6h-1.9zM118.0 128.6h1.9v1.6h-1.9zM180.7 110.8h1.9v1.6h-1.9zM180.3 129.0h1.9v1.6h-1.9zM134.0 127.8h1.9v1.6h-1.9zM133.4 134.2h1.9v1.6h-1.9zM191.9 58.9h1.9v1.6h-1.9zM171.7 121.5h1.9v1.6h-1.9zM166.7 130.5h1.9v1.6h-1.9zM131.7 124.7h1.9v1.6h-1.9zM167.6 126.9h1.9v1.6h-1.9zM176.6 123.1h1.9v1.6h-1.9zM191.6 104.3h1.9v1.6h-1.9zM194.1 101.0h1.9v1.6h-1.9zM175.5 121.6h1.9v1.6h-1.9zM168.9 80.4h1.9v1.6h-1.9zM182.5 114.2h1.9v1.6h-1.9zM154.1 121.3h1.9v1.6h-1.9zM164.7 123.9h1.9v1.6h-1.9zM127.6 128.0h1.9v1.6h-1.9zM202.1 129.3h1.9v1.6h-1.9zM164.2 131.0h1.9v1.6h-1.9zM157.5 124.3h1.9v1.6h-1.9zM198.5 127.8h1.9v1.6h-1.9zM188.6 112.6h1.9v1.6h-1.9zM137.4 111.6h1.9v1.6h-1.9zM180.7 131.6h1.9v1.6h-1.9zM192.8 107.3h1.9v1.6h-1.9zM184.0 110.9h1.9v1.6h-1.9zM168.0 113.6h1.9v1.6h-1.9zM108.9 124.9h1.9v1.6h-1.9zM186.0 109.2h1.9v1.6h-1.9zM171.3 132.9h1.9v1.6h-1.9zM187.4 86.3h1.9v1.6h-1.9zM123.1 119.4h1.9v1.6h-1.9zM210.6 130.0h1.9v1.6h-1.9zM163.1 132.6h1.9v1.6h-1.9zM103.1 133.6h1.9v1.6h-1.9zM110.9 122.2h1.9v1.6h-1.9zM178.1 109.1h1.9v1.6h-1.9zM155.8 122.8h1.9v1.6h-1.9zM142.8 112.6h1.9v1.6h-1.9zM208.5 120.3h1.9v1.6h-1.9zM204.3 121.1h1.9v1.6h-1.9zM187.1 125.2h1.9v1.6h-1.9zM193.8 112.8h1.9v1.6h-1.9zM129.9 125.9h1.9v1.6h-1.9zM110.4 123.1h1.9v1.6h-1.9zM177.6 128.3h1.9v1.6h-1.9zM160.0 130.7h1.9v1.6h-1.9zM174.9 94.1h1.9v1.6h-1.9zM178.3 127.5h1.9v1.6h-1.9zM175.3 114.7h1.9v1.6h-1.9zM189.4 105.1h1.9v1.6h-1.9zM153.9 130.6h1.9v1.6h-1.9zM137.9 124.9h1.9v1.6h-1.9zM155.6 119.7h1.9v1.6h-1.9zM153.2 133.8h1.9v1.6h-1.9zM179.9 110.3h1.9v1.6h-1.9zM164.3 128.8h1.9v1.6h-1.9zM201.3 119.3h1.9v1.6h-1.9zM190.6 108.3h1.9v1.6h-1.9zM182.6 121.6h1.9v1.6h-1.9zM170.5 124.6h1.9v1.6h-1.9zM163.4 128.3h1.9v1.6h-1.9zM159.5 120.3h1.9v1.6h-1.9zM172.7 105.5h1.9v1.6h-1.9zM188.7 116.7h1.9v1.6h-1.9zM143.9 126.3h1.9v1.6h-1.9zM185.5 119.8h1.9v1.6h-1.9zM186.7 129.4h1.9v1.6h-1.9zM200.7 89.5h1.9v1.6h-1.9zM199.7 113.4h1.9v1.6h-1.9zM184.9 110.1h1.9v1.6h-1.9zM105.0 134.0h1.9v1.6h-1.9zM213.4 105.7h1.9v1.6h-1.9zM123.2 132.8h1.9v1.6h-1.9zM110.0 119.4h1.9v1.6h-1.9zM196.1 127.2h1.9v1.6h-1.9zM101.4 122.3h1.9v1.6h-1.9zM201.7 109.6h1.9v1.6h-1.9zM183.2 109.1h1.9v1.6h-1.9zM161.4 130.8h1.9v1.6h-1.9zM134.8 126.1h1.9v1.6h-1.9zM200.0 131.7h1.9v1.6h-1.9zM154.2 123.6h1.9v1.6h-1.9zM203.4 105.0h1.9v1.6h-1.9zM160.8 79.0h1.9v1.6h-1.9zM198.8 113.9h1.9v1.6h-1.9zM161.1 131.8h1.9v1.6h-1.9zM145.7 123.1h1.9v1.6h-1.9zM163.0 84.4h1.9v1.6h-1.9zM189.5 111.6h1.9v1.6h-1.9zM175.8 124.0h1.9v1.6h-1.9zM175.0 128.3h1.9v1.6h-1.9zM142.4 116.9h1.9v1.6h-1.9zM125.1 131.6h1.9v1.6h-1.9zM151.3 132.4h1.9v1.6h-1.9zM179.4 98.1h1.9v1.6h-1.9zM184.1 119.3h1.9v1.6h-1.9zM185.2 102.1h1.9v1.6h-1.9zM185.1 124.1h1.9v1.6h-1.9zM166.7 126.4h1.9v1.6h-1.9zM188.7 116.8h1.9v1.6h-1.9zM180.7 105.8h1.9v1.6h-1.9zM193.1 124.4h1.9v1.6h-1.9zM140.6 128.5h1.9v1.6h-1.9zM195.3 115.9h1.9v1.6h-1.9zM197.6 130.6h1.9v1.6h-1.9zM140.7 133.3h1.9v1.6h-1.9zM199.5 112.1h1.9v1.6h-1.9zM170.5 116.6h1.9v1.6h-1.9zM178.5 122.8h1.9v1.6h-1.9zM178.5 133.5h1.9v1.6h-1.9zM182.2 116.9h1.9v1.6h-1.9zM194.2 120.1h1.9v1.6h-1.9zM203.4 106.1h1.9v1.6h-1.9zM158.6 104.5h1.9v1.6h-1.9zM163.6 114.8h1.9v1.6h-1.9zM171.3 127.8h1.9v1.6h-1.9zM206.4 114.8h1.9v1.6h-1.9zM166.6 125.3h1.9v1.6h-1.9zM154.2 122.6h1.9v1.6h-1.9zM195.3 101.1h1.9v1.6h-1.9zM207.6 108.2h1.9v1.6h-1.9zM180.1 104.1h1.9v1.6h-1.9zM119.4 129.1h1.9v1.6h-1.9zM186.1 134.0h1.9v1.6h-1.9zM157.1 113.4h1.9v1.6h-1.9zM156.8 125.9h1.9v1.6h-1.9zM102.8 135.9h1.9v1.6h-1.9zM181.0 117.7h1.9v1.6h-1.9zM194.3 113.0h1.9v1.6h-1.9zM118.5 132.7h1.9v1.6h-1.9zM109.2 133.0h1.9v1.6h-1.9zM200.7 115.6h1.9v1.6h-1.9zM189.3 108.5h1.9v1.6h-1.9zM112.6 122.4h1.9v1.6h-1.9zM208.7 130.5h1.9v1.6h-1.9zM181.4 133.3h1.9v1.6h-1.9zM182.6 93.9h1.9v1.6h-1.9zM203.8 127.3h1.9v1.6h-1.9zM159.8 120.7h1.9v1.6h-1.9zM136.1 127.0h1.9v1.6h-1.9zM166.3 123.2h1.9v1.6h-1.9zM185.3 131.8h1.9v1.6h-1.9zM197.3 126.6h1.9v1.6h-1.9zM124.9 99.6h1.9v1.6h-1.9zM109.6 135.4h1.9v1.6h-1.9zM203.9 113.5h1.9v1.6h-1.9zM194.7 129.6h1.9v1.6h-1.9zM108.4 106.7h1.9v1.6h-1.9zM134.1 124.6h1.9v1.6h-1.9zM175.2 114.2h1.9v1.6h-1.9zM161.2 126.4h1.9v1.6h-1.9zM163.7 131.9h1.9v1.6h-1.9zM123.6 133.1h1.9v1.6h-1.9zM165.0 130.1h1.9v1.6h-1.9zM157.9 114.2h1.9v1.6h-1.9zM173.7 62.5h1.9v1.6h-1.9zM188.0 125.2h1.9v1.6h-1.9zM190.2 121.0h1.9v1.6h-1.9zM203.0 110.4h1.9v1.6h-1.9zM163.5 128.4h1.9v1.6h-1.9zM170.8 122.7h1.9v1.6h-1.9zM183.0 122.5h1.9v1.6h-1.9zM206.0 122.8h1.9v1.6h-1.9zM173.1 123.7h1.9v1.6h-1.9zM142.8 133.7h1.9v1.6h-1.9zM173.9 132.5h1.9v1.6h-1.9zM112.5 126.5h1.9v1.6h-1.9zM152.0 125.9h1.9v1.6h-1.9zM151.9 123.4h1.9v1.6h-1.9zM116.1 122.8h1.9v1.6h-1.9zM175.4 122.6h1.9v1.6h-1.9zM190.9 127.2h1.9v1.6h-1.9zM196.5 121.8h1.9v1.6h-1.9zM158.4 126.2h1.9v1.6h-1.9zM172.2 131.1h1.9v1.6h-1.9zM148.9 133.4h1.9v1.6h-1.9zM174.4 119.9h1.9v1.6h-1.9zM170.1 101.5h1.9v1.6h-1.9zM205.6 109.0h1.9v1.6h-1.9zM190.7 125.4h1.9v1.6h-1.9zM175.1 120.5h1.9v1.6h-1.9zM145.6 99.8h1.9v1.6h-1.9zM160.9 126.5h1.9v1.6h-1.9zM180.4 107.9h1.9v1.6h-1.9zM150.7 127.4h1.9v1.6h-1.9zM168.3 116.6h1.9v1.6h-1.9zM122.5 129.6h1.9v1.6h-1.9zM166.9 124.2h1.9v1.6h-1.9zM204.1 113.3h1.9v1.6h-1.9zM145.4 124.9h1.9v1.6h-1.9zM158.6 121.6h1.9v1.6h-1.9zM198.7 105.8h1.9v1.6h-1.9zM187.3 108.8h1.9v1.6h-1.9zM198.4 128.1h1.9v1.6h-1.9zM186.3 119.7h1.9v1.6h-1.9zM184.7 125.4h1.9v1.6h-1.9zM167.8 122.1h1.9v1.6h-1.9zM163.0 130.3h1.9v1.6h-1.9zM192.9 121.1h1.9v1.6h-1.9zM162.4 117.7h1.9v1.6h-1.9zM101.0 130.2h1.9v1.6h-1.9zM204.1 124.5h1.9v1.6h-1.9zM177.9 112.0h1.9v1.6h-1.9zM128.0 136.2h1.9v1.6h-1.9zM202.3 108.5h1.9v1.6h-1.9zM180.1 118.2h1.9v1.6h-1.9zM170.7 129.6h1.9v1.6h-1.9zM188.3 122.5h1.9v1.6h-1.9zM159.1 118.3h1.9v1.6h-1.9zM197.4 116.5h1.9v1.6h-1.9zM140.1 127.7h1.9v1.6h-1.9zM111.6 128.9h1.9v1.6h-1.9zM177.5 131.9h1.9v1.6h-1.9zM201.2 102.5h1.9v1.6h-1.9zM177.4 106.3h1.9v1.6h-1.9zM185.3 131.2h1.9v1.6h-1.9zM160.8 126.2h1.9v1.6h-1.9zM170.8 129.5h1.9v1.6h-1.9zM198.9 129.9h1.9v1.6h-1.9zM207.4 125.5h1.9v1.6h-1.9zM126.5 133.9h1.9v1.6h-1.9zM146.9 128.3h1.9v1.6h-1.9zM116.9 121.8h1.9v1.6h-1.9zM112.2 132.7h1.9v1.6h-1.9zM200.8 125.9h1.9v1.6h-1.9zM151.2 119.0h1.9v1.6h-1.9zM183.4 114.6h1.9v1.6h-1.9zM101.4 133.3h1.9v1.6h-1.9zM199.2 92.3h1.9v1.6h-1.9zM111.8 130.5h1.9v1.6h-1.9zM191.5 123.5h1.9v1.6h-1.9zM102.2 95.9h1.9v1.6h-1.9zM183.4 128.7h1.9v1.6h-1.9zM191.2 124.2h1.9v1.6h-1.9zM150.4 132.0h1.9v1.6h-1.9zM125.5 130.6h1.9v1.6h-1.9zM183.1 112.1h1.9v1.6h-1.9zM130.8 129.8h1.9v1.6h-1.9zM194.5 115.1h1.9v1.6h-1.9zM124.7 125.4h1.9v1.6h-1.9zM154.6 133.0h1.9v1.6h-1.9zM195.0 124.6h1.9v1.6h-1.9zM202.2 114.4h1.9v1.6h-1.9zM202.4 123.8h1.9v1.6h-1.9zM168.7 119.4h1.9v1.6h-1.9zM162.4 129.5h1.9v1.6h-1.9zM183.4 126.0h1.9v1.6h-1.9zM143.0 127.0h1.9v1.6h-1.9zM205.7 127.1h1.9v1.6h-1.9zM190.9 113.5h1.9v1.6h-1.9zM153.9 123.5h1.9v1.6h-1.9zM167.8 127.2h1.9v1.6h-1.9zM172.3 115.5h1.9v1.6h-1.9zM146.4 129.1h1.9v1.6h-1.9zM205.9 129.2h1.9v1.6h-1.9zM170.0 130.8h1.9v1.6h-1.9zM201.3 125.2h1.9v1.6h-1.9zM141.6 127.1h1.9v1.6h-1.9zM185.7 98.0h1.9v1.6h-1.9zM206.8 118.7h1.9v1.6h-1.9zM200.3 104.9h1.9v1.6h-1.9zM154.6 124.4h1.9v1.6h-1.9zM173.1 102.3h1.9v1.6h-1.9zM173.4 124.3h1.9v1.6h-1.9zM135.3 123.0h1.9v1.6h-1.9zM208.9 104.0h1.9v1.6h-1.9zM164.3 102.9h1.9v1.6h-1.9zM195.0 102.6h1.9v1.6h-1.9zM171.1 127.2h1.9v1.6h-1.9zM119.6 130.4h1.9v1.6h-1.9zM148.2 131.0h1.9v1.6h-1.9zM161.1 133.9h1.9v1.6h-1.9zM111.9 125.0h1.9v1.6h-1.9zM179.9 126.7h1.9v1.6h-1.9zM187.9 115.0h1.9v1.6h-1.9zM172.3 104.9h1.9v1.6h-1.9zM125.4 129.9h1.9v1.6h-1.9zM136.8 122.9h1.9v1.6h-1.9zM144.7 129.0h1.9v1.6h-1.9zM147.3 115.2h1.9v1.6h-1.9zM205.1 120.4h1.9v1.6h-1.9zM194.5 105.2h1.9v1.6h-1.9zM117.1 128.7h1.9v1.6h-1.9zM161.3 126.1h1.9v1.6h-1.9zM194.6 116.1h1.9v1.6h-1.9zM192.7 125.9h1.9v1.6h-1.9zM130.7 126.7h1.9v1.6h-1.9zM162.6 97.9h1.9v1.6h-1.9zM118.1 128.6h1.9v1.6h-1.9zM127.2 136.0h1.9v1.6h-1.9zM164.4 110.7h1.9v1.6h-1.9zM191.3 117.6h1.9v1.6h-1.9zM169.5 122.2h1.9v1.6h-1.9zM138.0 124.8h1.9v1.6h-1.9zM193.6 101.6h1.9v1.6h-1.9zM177.7 127.1h1.9v1.6h-1.9zM190.5 116.6h1.9v1.6h-1.9zM167.6 122.5h1.9v1.6h-1.9zM167.7 124.0h1.9v1.6h-1.9zM209.9 126.8h1.9v1.6h-1.9zM138.3 126.1h1.9v1.6h-1.9zM167.4 115.1h1.9v1.6h-1.9zM175.3 132.8h1.9v1.6h-1.9zM163.8 131.7h1.9v1.6h-1.9zM174.1 111.7h1.9v1.6h-1.9zM169.2 131.0h1.9v1.6h-1.9zM174.6 125.3h1.9v1.6h-1.9zM164.5 116.0h1.9v1.6h-1.9zM117.0 131.3h1.9v1.6h-1.9zM170.6 126.8h1.9v1.6h-1.9zM148.0 132.5h1.9v1.6h-1.9zM183.5 108.8h1.9v1.6h-1.9zM184.0 126.4h1.9v1.6h-1.9zM158.1 130.6h1.9v1.6h-1.9zM132.5 126.8h1.9v1.6h-1.9zM177.0 112.6h1.9v1.6h-1.9zM154.5 130.8h1.9v1.6h-1.9zM189.1 101.9h1.9v1.6h-1.9zM155.3 95.8h1.9v1.6h-1.9zM193.3 125.3h1.9v1.6h-1.9zM205.5 118.2h1.9v1.6h-1.9zM169.3 107.0h1.9v1.6h-1.9zM140.5 123.0h1.9v1.6h-1.9zM191.5 132.8h1.9v1.6h-1.9zM168.7 119.3h1.9v1.6h-1.9zM156.0 130.9h1.9v1.6h-1.9zM102.5 114.6h1.9v1.6h-1.9zM148.1 134.0h1.9v1.6h-1.9zM206.5 118.8h1.9v1.6h-1.9zM144.1 118.7h1.9v1.6h-1.9zM202.4 104.7h1.9v1.6h-1.9zM178.9 106.3h1.9v1.6h-1.9zM174.3 133.0h1.9v1.6h-1.9zM165.4 114.4h1.9v1.6h-1.9zM185.4 115.2h1.9v1.6h-1.9zM126.6 127.8h1.9v1.6h-1.9zM175.4 128.4h1.9v1.6h-1.9zM137.1 131.8h1.9v1.6h-1.9zM170.0 127.8h1.9v1.6h-1.9zM181.4 121.9h1.9v1.6h-1.9zM204.5 125.9h1.9v1.6h-1.9zM125.7 131.3h1.9v1.6h-1.9zM197.8 109.7h1.9v1.6h-1.9zM103.7 124.4h1.9v1.6h-1.9zM150.8 132.3h1.9v1.6h-1.9zM101.8 131.9h1.9v1.6h-1.9zM196.2 115.0h1.9v1.6h-1.9zM204.0 111.5h1.9v1.6h-1.9zM101.2 136.4h1.9v1.6h-1.9zM178.0 117.9h1.9v1.6h-1.9zM207.4 122.3h1.9v1.6h-1.9zM182.5 128.0h1.9v1.6h-1.9zM185.7 124.0h1.9v1.6h-1.9zM188.2 127.4h1.9v1.6h-1.9zM150.4 123.5h1.9v1.6h-1.9zM196.5 115.5h1.9v1.6h-1.9zM163.8 115.8h1.9v1.6h-1.9zM179.4 132.1h1.9v1.6h-1.9zM124.3 134.1h1.9v1.6h-1.9zM127.4 131.3h1.9v1.6h-1.9zM165.2 127.1h1.9v1.6h-1.9zM191.6 127.7h1.9v1.6h-1.9zM177.6 106.0h1.9v1.6h-1.9zM162.7 118.2h1.9v1.6h-1.9zM182.2 112.5h1.9v1.6h-1.9zM107.4 111.1h1.9v1.6h-1.9zM183.4 111.4h1.9v1.6h-1.9zM168.6 121.3h1.9v1.6h-1.9zM141.0 118.3h1.9v1.6h-1.9zM169.9 126.3h1.9v1.6h-1.9zM189.1 126.8h1.9v1.6h-1.9zM188.5 121.8h1.9v1.6h-1.9zM186.0 114.0h1.9v1.6h-1.9zM194.3 112.1h1.9v1.6h-1.9zM183.8 115.5h1.9v1.6h-1.9zM209.8 130.1h1.9v1.6h-1.9zM133.8 130.5h1.9v1.6h-1.9zM179.0 132.0h1.9v1.6h-1.9zM190.8 114.5h1.9v1.6h-1.9zM166.1 124.7h1.9v1.6h-1.9zM175.4 112.8h1.9v1.6h-1.9zM116.7 128.4h1.9v1.6h-1.9zM167.2 98.9h1.9v1.6h-1.9zM177.4 125.8h1.9v1.6h-1.9zM149.1 125.1h1.9v1.6h-1.9zM204.5 112.9h1.9v1.6h-1.9zM184.9 130.7h1.9v1.6h-1.9zM155.2 115.9h1.9v1.6h-1.9zM152.7 132.1h1.9v1.6h-1.9zM140.2 121.7h1.9v1.6h-1.9zM186.8 108.5h1.9v1.6h-1.9zM141.7 115.4h1.9v1.6h-1.9zM139.3 97.4h1.9v1.6h-1.9zM176.6 113.1h1.9v1.6h-1.9zM203.7 130.6h1.9v1.6h-1.9zM163.5 127.9h1.9v1.6h-1.9zM133.7 123.0h1.9v1.6h-1.9zM165.9 123.7h1.9v1.6h-1.9zM202.3 127.0h1.9v1.6h-1.9zM192.8 125.9h1.9v1.6h-1.9zM196.4 114.6h1.9v1.6h-1.9zM202.2 106.9h1.9v1.6h-1.9zM142.8 131.9h1.9v1.6h-1.9zM208.3 126.3h1.9v1.6h-1.9zM121.1 131.2h1.9v1.6h-1.9zM118.3 119.9h1.9v1.6h-1.9zM161.8 127.8h1.9v1.6h-1.9zM132.3 132.4h1.9v1.6h-1.9zM202.2 131.1h1.9v1.6h-1.9zM202.1 115.4h1.9v1.6h-1.9zM184.9 126.4h1.9v1.6h-1.9zM153.7 122.1h1.9v1.6h-1.9zM202.9 111.3h1.9v1.6h-1.9zM179.0 127.1h1.9v1.6h-1.9zM198.4 91.6h1.9v1.6h-1.9zM172.1 129.7h1.9v1.6h-1.9zM174.4 130.7h1.9v1.6h-1.9zM170.7 126.3h1.9v1.6h-1.9zM167.8 118.2h1.9v1.6h-1.9zM198.0 105.4h1.9v1.6h-1.9zM202.9 109.2h1.9v1.6h-1.9zM172.9 77.7h1.9v1.6h-1.9zM126.0 131.0h1.9v1.6h-1.9zM211.3 121.0h1.9v1.6h-1.9zM198.6 115.2h1.9v1.6h-1.9zM172.0 123.0h1.9v1.6h-1.9zM144.0 121.2h1.9v1.6h-1.9zM128.2 127.3h1.9v1.6h-1.9zM138.4 129.8h1.9v1.6h-1.9zM157.7 123.3h1.9v1.6h-1.9zM132.6 125.3h1.9v1.6h-1.9zM183.3 125.1h1.9v1.6h-1.9zM172.5 131.8h1.9v1.6h-1.9zM195.1 111.9h1.9v1.6h-1.9zM170.4 131.0h1.9v1.6h-1.9zM197.4 112.9h1.9v1.6h-1.9zM158.2 119.4h1.9v1.6h-1.9zM206.9 120.0h1.9v1.6h-1.9zM168.7 115.8h1.9v1.6h-1.9zM192.4 133.3h1.9v1.6h-1.9zM195.7 92.5h1.9v1.6h-1.9zM140.4 126.7h1.9v1.6h-1.9zM200.6 111.5h1.9v1.6h-1.9zM126.7 129.6h1.9v1.6h-1.9zM193.2 115.7h1.9v1.6h-1.9zM119.5 126.0h1.9v1.6h-1.9zM189.6 117.4h1.9v1.6h-1.9zM102.5 106.8h1.9v1.6h-1.9zM112.3 130.7h1.9v1.6h-1.9zM204.8 99.5h1.9v1.6h-1.9zM207.1 131.0h1.9v1.6h-1.9zM182.4 113.1h1.9v1.6h-1.9zM121.3 119.4h1.9v1.6h-1.9zM200.6 116.1h1.9v1.6h-1.9zM194.9 122.8h1.9v1.6h-1.9zM185.8 131.8h1.9v1.6h-1.9zM197.5 112.9h1.9v1.6h-1.9zM132.5 126.1h1.9v1.6h-1.9zM117.7 128.5h1.9v1.6h-1.9zM126.1 105.0h1.9v1.6h-1.9zM192.8 125.3h1.9v1.6h-1.9zM186.0 109.8h1.9v1.6h-1.9zM194.2 105.9h1.9v1.6h-1.9zM187.2 129.8h1.9v1.6h-1.9zM148.0 125.9h1.9v1.6h-1.9zM196.9 109.2h1.9v1.6h-1.9zM127.3 126.1h1.9v1.6h-1.9zM133.0 124.5h1.9v1.6h-1.9zM133.7 134.5h1.9v1.6h-1.9zM193.0 129.9h1.9v1.6h-1.9zM145.9 133.6h1.9v1.6h-1.9zM106.0 127.3h1.9v1.6h-1.9zM120.7 90.6h1.9v1.6h-1.9zM165.1 126.5h1.9v1.6h-1.9zM128.2 121.1h1.9v1.6h-1.9zM204.1 117.7h1.9v1.6h-1.9zM194.7 96.0h1.9v1.6h-1.9zM172.2 116.8h1.9v1.6h-1.9zM175.9 132.7h1.9v1.6h-1.9zM147.4 129.5h1.9v1.6h-1.9zM112.7 124.4h1.9v1.6h-1.9zM200.8 127.8h1.9v1.6h-1.9zM159.1 118.5h1.9v1.6h-1.9zM141.6 135.0h1.9v1.6h-1.9zM161.0 114.9h1.9v1.6h-1.9zM198.7 106.8h1.9v1.6h-1.9zM200.3 101.0h1.9v1.6h-1.9zM192.9 121.9h1.9v1.6h-1.9zM155.6 120.8h1.9v1.6h-1.9zM131.6 111.9h1.9v1.6h-1.9zM186.1 121.2h1.9v1.6h-1.9zM119.7 132.0h1.9v1.6h-1.9zM196.7 112.2h1.9v1.6h-1.9zM185.0 120.3h1.9v1.6h-1.9zM157.0 125.4h1.9v1.6h-1.9zM110.3 125.0h1.9v1.6h-1.9zM138.4 113.1h1.9v1.6h-1.9zM195.7 113.7h1.9v1.6h-1.9zM138.2 133.0h1.9v1.6h-1.9zM155.4 120.1h1.9v1.6h-1.9zM197.6 96.8h1.9v1.6h-1.9zM145.3 127.4h1.9v1.6h-1.9zM204.5 117.0h1.9v1.6h-1.9zM145.3 122.4h1.9v1.6h-1.9zM193.4 123.7h1.9v1.6h-1.9zM169.7 114.2h1.9v1.6h-1.9zM206.7 122.7h1.9v1.6h-1.9zM197.8 122.1h1.9v1.6h-1.9zM144.4 122.2h1.9v1.6h-1.9zM193.1 113.6h1.9v1.6h-1.9zM123.2 126.7h1.9v1.6h-1.9zM199.4 129.0h1.9v1.6h-1.9zM113.0 125.7h1.9v1.6h-1.9zM102.6 125.1h1.9v1.6h-1.9zM143.4 105.7h1.9v1.6h-1.9zM180.7 106.8h1.9v1.6h-1.9zM166.3 88.5h1.9v1.6h-1.9zM145.4 127.8h1.9v1.6h-1.9zM182.8 104.9h1.9v1.6h-1.9zM204.5 130.2h1.9v1.6h-1.9zM154.7 127.8h1.9v1.6h-1.9zM186.0 122.7h1.9v1.6h-1.9zM181.5 106.4h1.9v1.6h-1.9zM118.7 136.1h1.9v1.6h-1.9zM148.7 127.4h1.9v1.6h-1.9zM191.6 111.0h1.9v1.6h-1.9zM181.1 129.2h1.9v1.6h-1.9zM197.7 131.2h1.9v1.6h-1.9zM204.9 129.5h1.9v1.6h-1.9zM153.9 119.8h1.9v1.6h-1.9zM146.6 116.0h1.9v1.6h-1.9zM118.5 132.9h1.9v1.6h-1.9zM199.1 112.6h1.9v1.6h-1.9zM166.7 133.1h1.9v1.6h-1.9zM113.4 104.6h1.9v1.6h-1.9zM205.1 111.7h1.9v1.6h-1.9zM135.5 130.0h1.9v1.6h-1.9zM167.6 132.0h1.9v1.6h-1.9zM126.2 125.9h1.9v1.6h-1.9zM155.0 121.0h1.9v1.6h-1.9zM187.3 132.6h1.9v1.6h-1.9zM203.9 129.4h1.9v1.6h-1.9zM186.8 113.6h1.9v1.6h-1.9zM186.2 63.7h1.9v1.6h-1.9zM185.7 129.8h1.9v1.6h-1.9zM118.7 134.8h1.9v1.6h-1.9zM190.1 111.4h1.9v1.6h-1.9zM165.7 131.3h1.9v1.6h-1.9zM149.6 126.3h1.9v1.6h-1.9zM126.3 107.4h1.9v1.6h-1.9zM173.8 111.1h1.9v1.6h-1.9zM148.7 133.1h1.9v1.6h-1.9zM200.4 120.4h1.9v1.6h-1.9zM190.0 101.6h1.9v1.6h-1.9zM201.5 129.2h1.9v1.6h-1.9zM137.6 111.2h1.9v1.6h-1.9zM205.2 106.5h1.9v1.6h-1.9zM151.5 124.2h1.9v1.6h-1.9zM173.3 112.5h1.9v1.6h-1.9zM204.2 112.4h1.9v1.6h-1.9zM104.7 126.9h1.9v1.6h-1.9zM193.9 128.7h1.9v1.6h-1.9zM189.7 128.3h1.9v1.6h-1.9zM120.2 115.2h1.9v1.6h-1.9zM174.0 132.1h1.9v1.6h-1.9zM207.1 116.3h1.9v1.6h-1.9zM159.9 130.0h1.9v1.6h-1.9zM186.3 106.2h1.9v1.6h-1.9zM177.4 108.2h1.9v1.6h-1.9zM170.7 119.1h1.9v1.6h-1.9zM182.4 107.9h1.9v1.6h-1.9zM143.4 128.6h1.9v1.6h-1.9zM134.7 122.8h1.9v1.6h-1.9zM130.3 118.5h1.9v1.6h-1.9zM209.5 108.9h1.9v1.6h-1.9zM177.9 125.7h1.9v1.6h-1.9zM192.7 85.5h1.9v1.6h-1.9zM133.8 114.8h1.9v1.6h-1.9zM198.4 107.4h1.9v1.6h-1.9zM177.2 129.4h1.9v1.6h-1.9zM180.3 115.2h1.9v1.6h-1.9zM197.7 118.0h1.9v1.6h-1.9zM156.6 114.4h1.9v1.6h-1.9zM190.1 122.9h1.9v1.6h-1.9zM194.5 126.8h1.9v1.6h-1.9zM190.5 113.2h1.9v1.6h-1.9zM168.3 88.7h1.9v1.6h-1.9zM200.0 114.4h1.9v1.6h-1.9zM152.6 116.3h1.9v1.6h-1.9zM189.9 117.8h1.9v1.6h-1.9zM169.6 115.1h1.9v1.6h-1.9zM201.9 119.1h1.9v1.6h-1.9zM116.3 128.9h1.9v1.6h-1.9zM170.3 128.1h1.9v1.6h-1.9zM190.5 127.9h1.9v1.6h-1.9zM195.7 102.7h1.9v1.6h-1.9zM138.2 130.2h1.9v1.6h-1.9zM115.6 132.4h1.9v1.6h-1.9zM129.3 130.8h1.9v1.6h-1.9zM111.7 122.1h1.9v1.6h-1.9zM175.5 122.7h1.9v1.6h-1.9zM175.2 115.5h1.9v1.6h-1.9zM177.9 116.2h1.9v1.6h-1.9zM123.2 123.0h1.9v1.6h-1.9zM155.7 116.2h1.9v1.6h-1.9zM194.3 126.5h1.9v1.6h-1.9zM163.7 93.0h1.9v1.6h-1.9zM165.8 133.3h1.9v1.6h-1.9zM144.9 115.9h1.9v1.6h-1.9zM101.7 135.3h1.9v1.6h-1.9zM162.5 113.3h1.9v1.6h-1.9zM173.7 111.4h1.9v1.6h-1.9zM109.0 132.1h1.9v1.6h-1.9zM157.2 121.1h1.9v1.6h-1.9zM192.4 104.7h1.9v1.6h-1.9zM122.7 129.8h1.9v1.6h-1.9zM171.5 117.8h1.9v1.6h-1.9zM132.5 124.0h1.9v1.6h-1.9zM162.3 123.3h1.9v1.6h-1.9zM114.0 132.8h1.9v1.6h-1.9zM183.2 132.8h1.9v1.6h-1.9zM207.0 77.1h1.9v1.6h-1.9zM103.4 126.5h1.9v1.6h-1.9zM201.6 129.5h1.9v1.6h-1.9zM206.8 121.1h1.9v1.6h-1.9zM197.2 110.8h1.9v1.6h-1.9zM149.9 121.3h1.9v1.6h-1.9zM165.2 124.6h1.9v1.6h-1.9zM198.8 125.1h1.9v1.6h-1.9zM150.4 130.2h1.9v1.6h-1.9zM151.9 126.0h1.9v1.6h-1.9zM168.5 120.2h1.9v1.6h-1.9zM195.7 122.8h1.9v1.6h-1.9zM197.0 109.9h1.9v1.6h-1.9zM119.4 119.9h1.9v1.6h-1.9zM190.9 122.2h1.9v1.6h-1.9zM132.9 130.4h1.9v1.6h-1.9zM201.2 121.4h1.9v1.6h-1.9zM198.7 78.2h1.9v1.6h-1.9zM207.2 115.1h1.9v1.6h-1.9zM156.6 128.5h1.9v1.6h-1.9zM196.6 132.3h1.9v1.6h-1.9zM212.4 87.2h1.9v1.6h-1.9zM198.3 126.4h1.9v1.6h-1.9zM194.3 115.8h1.9v1.6h-1.9zM184.4 124.3h1.9v1.6h-1.9zM194.8 122.9h1.9v1.6h-1.9zM214.5 107.5h1.9v1.6h-1.9zM187.3 127.0h1.9v1.6h-1.9zM151.9 123.0h1.9v1.6h-1.9zM106.2 136.5h1.9v1.6h-1.9zM148.7 121.5h1.9v1.6h-1.9zM152.7 127.5h1.9v1.6h-1.9zM190.2 125.8h1.9v1.6h-1.9zM199.6 91.8h1.9v1.6h-1.9zM118.6 126.2h1.9v1.6h-1.9zM170.1 113.5h1.9v1.6h-1.9zM153.7 127.3h1.9v1.6h-1.9zM162.1 127.6h1.9v1.6h-1.9zM180.7 132.1h1.9v1.6h-1.9zM145.3 124.9h1.9v1.6h-1.9zM130.9 129.3h1.9v1.6h-1.9zM188.5 128.3h1.9v1.6h-1.9zM189.6 123.0h1.9v1.6h-1.9zM186.3 125.1h1.9v1.6h-1.9zM136.2 102.5h1.9v1.6h-1.9zM183.3 131.8h1.9v1.6h-1.9zM143.1 135.4h1.9v1.6h-1.9zM175.2 117.4h1.9v1.6h-1.9zM190.7 112.1h1.9v1.6h-1.9zM144.9 126.2h1.9v1.6h-1.9zM175.6 131.8h1.9v1.6h-1.9zM174.1 80.6h1.9v1.6h-1.9zM113.5 134.0h1.9v1.6h-1.9zM176.5 112.6h1.9v1.6h-1.9zM165.7 131.6h1.9v1.6h-1.9zM190.7 112.8h1.9v1.6h-1.9zM201.8 109.5h1.9v1.6h-1.9zM120.9 124.1h1.9v1.6h-1.9zM150.3 131.8h1.9v1.6h-1.9zM206.9 102.4h1.9v1.6h-1.9zM196.7 130.4h1.9v1.6h-1.9zM101.1 99.3h1.9v1.6h-1.9zM160.1 112.2h1.9v1.6h-1.9zM172.5 115.5h1.9v1.6h-1.9zM109.5 135.7h1.9v1.6h-1.9zM179.3 115.5h1.9v1.6h-1.9zM127.2 125.9h1.9v1.6h-1.9zM185.8 111.1h1.9v1.6h-1.9zM109.8 135.0h1.9v1.6h-1.9zM148.6 109.6h1.9v1.6h-1.9zM206.0 123.2h1.9v1.6h-1.9zM180.6 121.7h1.9v1.6h-1.9zM203.0 122.5h1.9v1.6h-1.9zM172.1 127.9h1.9v1.6h-1.9zM175.0 119.8h1.9v1.6h-1.9zM178.3 107.6h1.9v1.6h-1.9zM198.4 131.3h1.9v1.6h-1.9zM156.1 127.2h1.9v1.6h-1.9zM115.0 134.4h1.9v1.6h-1.9zM190.1 119.2h1.9v1.6h-1.9zM197.7 128.2h1.9v1.6h-1.9zM112.5 113.1h1.9v1.6h-1.9zM178.7 105.8h1.9v1.6h-1.9zM115.8 129.1h1.9v1.6h-1.9zM133.5 134.9h1.9v1.6h-1.9zM171.3 108.3h1.9v1.6h-1.9zM132.4 131.1h1.9v1.6h-1.9zM194.4 128.6h1.9v1.6h-1.9zM176.2 131.6h1.9v1.6h-1.9zM191.9 118.7h1.9v1.6h-1.9zM214.7 71.8h1.9v1.6h-1.9zM126.7 130.9h1.9v1.6h-1.9zM169.6 99.1h1.9v1.6h-1.9zM188.2 123.6h1.9v1.6h-1.9zM161.4 112.2h1.9v1.6h-1.9zM206.2 124.5h1.9v1.6h-1.9zM202.5 98.5h1.9v1.6h-1.9zM153.8 120.4h1.9v1.6h-1.9zM201.8 97.3h1.9v1.6h-1.9zM165.3 132.4h1.9v1.6h-1.9zM110.4 71.5h1.9v1.6h-1.9zM205.9 110.1h1.9v1.6h-1.9zM177.1 133.2h1.9v1.6h-1.9zM193.7 99.1h1.9v1.6h-1.9zM182.1 130.5h1.9v1.6h-1.9zM171.9 122.5h1.9v1.6h-1.9zM198.9 115.2h1.9v1.6h-1.9zM187.7 131.1h1.9v1.6h-1.9zM198.3 124.7h1.9v1.6h-1.9zM194.6 111.4h1.9v1.6h-1.9zM166.3 114.9h1.9v1.6h-1.9zM105.1 137.5h1.9v1.6h-1.9zM185.3 104.1h1.9v1.6h-1.9zM195.9 105.8h1.9v1.6h-1.9zM167.2 104.0h1.9v1.6h-1.9zM159.4 122.5h1.9v1.6h-1.9zM142.4 118.6h1.9v1.6h-1.9zM201.1 130.2h1.9v1.6h-1.9zM196.6 119.7h1.9v1.6h-1.9zM193.1 105.6h1.9v1.6h-1.9zM175.0 107.7h1.9v1.6h-1.9zM170.0 121.7h1.9v1.6h-1.9zM130.4 132.7h1.9v1.6h-1.9zM162.0 123.5h1.9v1.6h-1.9zM134.0 102.3h1.9v1.6h-1.9zM169.9 130.7h1.9v1.6h-1.9zM100.6 131.0h1.9v1.6h-1.9zM183.1 118.0h1.9v1.6h-1.9zM100.5 135.7h1.9v1.6h-1.9zM187.5 131.0h1.9v1.6h-1.9zM189.6 109.9h1.9v1.6h-1.9zM169.6 126.4h1.9v1.6h-1.9zM179.4 113.8h1.9v1.6h-1.9zM138.1 134.6h1.9v1.6h-1.9zM171.3 89.2h1.9v1.6h-1.9zM191.4 120.1h1.9v1.6h-1.9zM190.5 132.0h1.9v1.6h-1.9zM160.5 129.0h1.9v1.6h-1.9zM168.2 119.1h1.9v1.6h-1.9zM163.7 132.7h1.9v1.6h-1.9zM143.2 130.2h1.9v1.6h-1.9zM145.6 120.8h1.9v1.6h-1.9zM189.3 128.9h1.9v1.6h-1.9zM180.1 106.9h1.9v1.6h-1.9zM167.4 123.9h1.9v1.6h-1.9zM191.0 102.8h1.9v1.6h-1.9zM203.7 101.6h1.9v1.6h-1.9zM123.8 135.5h1.9v1.6h-1.9zM198.9 122.0h1.9v1.6h-1.9zM185.1 122.0h1.9v1.6h-1.9zM179.8 108.1h1.9v1.6h-1.9zM161.0 120.8h1.9v1.6h-1.9zM152.3 122.9h1.9v1.6h-1.9zM203.6 110.5h1.9v1.6h-1.9zM199.9 123.1h1.9v1.6h-1.9zM198.1 132.6h1.9v1.6h-1.9zM155.7 116.0h1.9v1.6h-1.9zM207.8 119.1h1.9v1.6h-1.9zM178.7 129.4h1.9v1.6h-1.9zM193.5 105.1h1.9v1.6h-1.9zM137.7 126.4h1.9v1.6h-1.9zM146.8 128.5h1.9v1.6h-1.9zM172.1 115.0h1.9v1.6h-1.9zM204.6 123.3h1.9v1.6h-1.9zM126.1 103.2h1.9v1.6h-1.9zM200.6 128.4h1.9v1.6h-1.9zM187.6 118.0h1.9v1.6h-1.9zM203.1 126.7h1.9v1.6h-1.9zM174.1 126.0h1.9v1.6h-1.9zM199.7 118.9h1.9v1.6h-1.9zM198.8 96.2h1.9v1.6h-1.9zM161.1 129.0h1.9v1.6h-1.9zM135.2 121.2h1.9v1.6h-1.9zM163.3 115.0h1.9v1.6h-1.9zM212.8 99.8h1.9v1.6h-1.9zM192.5 125.8h1.9v1.6h-1.9zM207.5 113.0h1.9v1.6h-1.9zM192.2 123.4h1.9v1.6h-1.9zM173.3 110.2h1.9v1.6h-1.9zM185.8 131.9h1.9v1.6h-1.9zM154.6 134.5h1.9v1.6h-1.9zM180.8 128.7h1.9v1.6h-1.9zM188.2 108.5h1.9v1.6h-1.9zM202.4 130.6h1.9v1.6h-1.9zM200.5 113.1h1.9v1.6h-1.9zM151.5 94.2h1.9v1.6h-1.9zM205.4 132.0h1.9v1.6h-1.9zM201.4 114.9h1.9v1.6h-1.9zM196.2 120.8h1.9v1.6h-1.9zM198.4 119.5h1.9v1.6h-1.9zM122.4 113.4h1.9v1.6h-1.9zM168.8 131.0h1.9v1.6h-1.9zM126.5 134.0h1.9v1.6h-1.9zM132.8 126.3h1.9v1.6h-1.9zM196.2 103.9h1.9v1.6h-1.9zM180.6 106.1h1.9v1.6h-1.9zM163.7 117.0h1.9v1.6h-1.9zM154.9 122.7h1.9v1.6h-1.9zM158.4 122.6h1.9v1.6h-1.9zM183.5 125.9h1.9v1.6h-1.9zM128.0 124.9h1.9v1.6h-1.9zM183.0 122.6h1.9v1.6h-1.9zM189.0 82.0h1.9v1.6h-1.9zM201.0 114.0h1.9v1.6h-1.9zM187.0 106.2h1.9v1.6h-1.9zM189.8 97.6h1.9v1.6h-1.9zM186.5 113.6h1.9v1.6h-1.9zM169.6 121.7h1.9v1.6h-1.9zM196.3 118.7h1.9v1.6h-1.9zM183.0 112.9h1.9v1.6h-1.9zM183.5 125.7h1.9v1.6h-1.9zM144.7 125.3h1.9v1.6h-1.9zM195.6 128.2h1.9v1.6h-1.9zM189.1 119.1h1.9v1.6h-1.9zM189.3 126.3h1.9v1.6h-1.9zM121.6 127.8h1.9v1.6h-1.9zM177.9 131.5h1.9v1.6h-1.9zM138.4 135.4h1.9v1.6h-1.9zM203.9 126.6h1.9v1.6h-1.9zM198.1 102.6h1.9v1.6h-1.9zM176.3 111.4h1.9v1.6h-1.9zM196.2 114.0h1.9v1.6h-1.9zM127.3 128.8h1.9v1.6h-1.9zM186.3 118.9h1.9v1.6h-1.9zM209.3 116.7h1.9v1.6h-1.9zM159.7 104.4h1.9v1.6h-1.9zM160.0 106.9h1.9v1.6h-1.9zM188.6 127.5h1.9v1.6h-1.9zM187.5 127.6h1.9v1.6h-1.9zM153.2 124.5h1.9v1.6h-1.9zM193.4 116.2h1.9v1.6h-1.9zM177.7 133.1h1.9v1.6h-1.9zM176.4 114.7h1.9v1.6h-1.9zM198.1 125.2h1.9v1.6h-1.9zM196.5 119.6h1.9v1.6h-1.9zM184.5 88.5h1.9v1.6h-1.9zM188.0 125.2h1.9v1.6h-1.9zM177.1 108.8h1.9v1.6h-1.9zM129.8 128.6h1.9v1.6h-1.9zM169.1 130.3h1.9v1.6h-1.9zM188.1 115.6h1.9v1.6h-1.9zM189.3 117.3h1.9v1.6h-1.9zM121.1 134.5h1.9v1.6h-1.9zM185.3 111.1h1.9v1.6h-1.9zM162.5 131.2h1.9v1.6h-1.9zM145.0 123.8h1.9v1.6h-1.9zM127.1 128.3h1.9v1.6h-1.9zM152.2 115.3h1.9v1.6h-1.9zM145.1 66.5h1.9v1.6h-1.9zM195.3 106.1h1.9v1.6h-1.9zM191.0 117.8h1.9v1.6h-1.9zM199.6 105.1h1.9v1.6h-1.9zM181.8 111.6h1.9v1.6h-1.9zM188.5 115.7h1.9v1.6h-1.9zM159.3 128.8h1.9v1.6h-1.9zM181.2 107.6h1.9v1.6h-1.9zM192.7 132.3h1.9v1.6h-1.9zM149.9 91.1h1.9v1.6h-1.9zM153.4 124.1h1.9v1.6h-1.9zM171.5 121.4h1.9v1.6h-1.9zM122.2 136.0h1.9v1.6h-1.9zM150.5 121.6h1.9v1.6h-1.9zM211.3 99.6h1.9v1.6h-1.9zM158.0 118.7h1.9v1.6h-1.9zM159.0 130.7h1.9v1.6h-1.9zM203.3 103.4h1.9v1.6h-1.9zM157.3 133.4h1.9v1.6h-1.9zM175.7 120.7h1.9v1.6h-1.9zM188.1 119.9h1.9v1.6h-1.9zM192.1 116.4h1.9v1.6h-1.9zM169.0 128.9h1.9v1.6h-1.9zM120.3 132.8h1.9v1.6h-1.9zM208.0 126.4h1.9v1.6h-1.9zM190.6 124.3h1.9v1.6h-1.9zM117.5 103.4h1.9v1.6h-1.9zM178.4 124.1h1.9v1.6h-1.9zM196.3 111.0h1.9v1.6h-1.9zM123.4 130.9h1.9v1.6h-1.9zM142.6 122.8h1.9v1.6h-1.9zM192.9 116.7h1.9v1.6h-1.9zM181.8 119.2h1.9v1.6h-1.9zM181.6 108.1h1.9v1.6h-1.9zM149.1 117.6h1.9v1.6h-1.9zM201.9 112.5h1.9v1.6h-1.9zM180.1 130.5h1.9v1.6h-1.9zM197.0 108.2h1.9v1.6h-1.9zM203.4 114.4h1.9v1.6h-1.9zM171.9 133.3h1.9v1.6h-1.9zM198.9 126.2h1.9v1.6h-1.9zM144.7 109.7h1.9v1.6h-1.9zM211.0 121.9h1.9v1.6h-1.9zM176.6 116.5h1.9v1.6h-1.9zM205.0 121.9h1.9v1.6h-1.9zM120.2 104.3h1.9v1.6h-1.9zM178.0 117.8h1.9v1.6h-1.9zM196.5 113.3h1.9v1.6h-1.9zM200.6 109.5h1.9v1.6h-1.9zM130.4 131.3h1.9v1.6h-1.9zM200.1 123.6h1.9v1.6h-1.9zM200.0 108.8h1.9v1.6h-1.9zM102.2 115.6h1.9v1.6h-1.9zM178.8 117.4h1.9v1.6h-1.9zM200.9 124.2h1.9v1.6h-1.9zM184.7 106.2h1.9v1.6h-1.9zM188.3 130.7h1.9v1.6h-1.9zM179.0 108.4h1.9v1.6h-1.9zM201.6 82.3h1.9v1.6h-1.9zM184.7 113.1h1.9v1.6h-1.9zM185.3 122.6h1.9v1.6h-1.9zM181.4 110.6h1.9v1.6h-1.9zM149.4 123.5h1.9v1.6h-1.9zM188.9 117.6h1.9v1.6h-1.9zM184.3 126.2h1.9v1.6h-1.9zM196.6 100.0h1.9v1.6h-1.9zM197.0 129.8h1.9v1.6h-1.9zM205.3 124.2h1.9v1.6h-1.9zM190.5 121.8h1.9v1.6h-1.9zM132.4 127.2h1.9v1.6h-1.9zM175.2 94.0h1.9v1.6h-1.9zM167.3 125.4h1.9v1.6h-1.9zM200.3 102.9h1.9v1.6h-1.9zM199.2 131.1h1.9v1.6h-1.9zM193.9 105.1h1.9v1.6h-1.9zM123.7 125.8h1.9v1.6h-1.9zM168.8 117.5h1.9v1.6h-1.9zM110.7 128.1h1.9v1.6h-1.9zM182.7 115.1h1.9v1.6h-1.9zM144.1 133.1h1.9v1.6h-1.9zM193.0 107.7h1.9v1.6h-1.9zM204.3 127.7h1.9v1.6h-1.9zM162.6 134.0h1.9v1.6h-1.9zM155.8 124.8h1.9v1.6h-1.9zM162.9 129.5h1.9v1.6h-1.9zM152.2 134.2h1.9v1.6h-1.9zM179.2 118.7h1.9v1.6h-1.9zM173.7 133.0h1.9v1.6h-1.9zM169.9 133.3h1.9v1.6h-1.9zM199.7 107.4h1.9v1.6h-1.9zM182.8 128.8h1.9v1.6h-1.9zM186.3 108.7h1.9v1.6h-1.9zM192.7 127.4h1.9v1.6h-1.9zM203.9 128.3h1.9v1.6h-1.9zM193.8 117.6h1.9v1.6h-1.9zM162.4 133.4h1.9v1.6h-1.9zM135.5 133.7h1.9v1.6h-1.9zM182.3 129.3h1.9v1.6h-1.9zM190.0 122.7h1.9v1.6h-1.9zM122.7 132.5h1.9v1.6h-1.9zM199.4 83.1h1.9v1.6h-1.9zM174.4 133.0h1.9v1.6h-1.9zM177.0 94.3h1.9v1.6h-1.9zM207.1 109.2h1.9v1.6h-1.9zM104.9 131.5h1.9v1.6h-1.9zM112.7 129.5h1.9v1.6h-1.9zM143.6 118.4h1.9v1.6h-1.9zM184.1 102.5h1.9v1.6h-1.9zM192.4 121.7h1.9v1.6h-1.9zM165.5 125.3h1.9v1.6h-1.9zM145.3 128.1h1.9v1.6h-1.9zM174.4 120.7h1.9v1.6h-1.9zM143.3 132.0h1.9v1.6h-1.9zM106.0 126.2h1.9v1.6h-1.9zM105.3 133.1h1.9v1.6h-1.9zM171.0 129.9h1.9v1.6h-1.9zM183.3 119.1h1.9v1.6h-1.9zM145.4 117.2h1.9v1.6h-1.9zM130.1 133.1h1.9v1.6h-1.9zM191.2 100.3h1.9v1.6h-1.9zM203.1 106.2h1.9v1.6h-1.9zM160.9 119.2h1.9v1.6h-1.9zM191.1 106.5h1.9v1.6h-1.9zM148.5 134.1h1.9v1.6h-1.9zM195.4 122.3h1.9v1.6h-1.9zM145.5 117.3h1.9v1.6h-1.9zM179.5 122.8h1.9v1.6h-1.9zM178.6 125.1h1.9v1.6h-1.9zM188.3 123.8h1.9v1.6h-1.9zM175.6 116.2h1.9v1.6h-1.9zM122.4 133.9h1.9v1.6h-1.9zM117.1 129.0h1.9v1.6h-1.9zM169.7 133.2h1.9v1.6h-1.9zM139.5 134.7h1.9v1.6h-1.9zM178.9 110.0h1.9v1.6h-1.9zM167.1 123.9h1.9v1.6h-1.9zM157.3 122.1h1.9v1.6h-1.9zM169.5 110.0h1.9v1.6h-1.9zM189.6 114.1h1.9v1.6h-1.9zM127.1 131.7h1.9v1.6h-1.9zM172.3 121.9h1.9v1.6h-1.9zM197.8 66.0h1.9v1.6h-1.9zM106.6 126.0h1.9v1.6h-1.9zM196.0 107.5h1.9v1.6h-1.9zM194.4 108.5h1.9v1.6h-1.9zM198.7 115.2h1.9v1.6h-1.9zM171.0 126.7h1.9v1.6h-1.9zM203.9 116.9h1.9v1.6h-1.9zM127.2 132.5h1.9v1.6h-1.9zM111.2 125.9h1.9v1.6h-1.9zM178.7 117.8h1.9v1.6h-1.9zM151.0 130.7h1.9v1.6h-1.9zM142.0 120.1h1.9v1.6h-1.9zM184.3 110.6h1.9v1.6h-1.9zM190.2 103.0h1.9v1.6h-1.9zM212.3 112.4h1.9v1.6h-1.9zM178.0 113.6h1.9v1.6h-1.9zM196.9 102.6h1.9v1.6h-1.9zM197.5 110.1h1.9v1.6h-1.9zM178.1 130.0h1.9v1.6h-1.9zM165.6 116.2h1.9v1.6h-1.9zM148.4 129.3h1.9v1.6h-1.9zM109.7 134.3h1.9v1.6h-1.9zM174.4 129.4h1.9v1.6h-1.9zM171.1 123.9h1.9v1.6h-1.9zM142.0 129.2h1.9v1.6h-1.9zM213.0 101.5h1.9v1.6h-1.9zM201.8 105.5h1.9v1.6h-1.9zM114.5 125.6h1.9v1.6h-1.9zM197.5 125.6h1.9v1.6h-1.9zM169.4 114.7h1.9v1.6h-1.9zM188.2 133.3h1.9v1.6h-1.9zM117.4 129.0h1.9v1.6h-1.9zM173.4 130.5h1.9v1.6h-1.9zM204.0 131.5h1.9v1.6h-1.9zM167.7 89.4h1.9v1.6h-1.9zM129.8 130.6h1.9v1.6h-1.9zM126.4 122.8h1.9v1.6h-1.9zM205.1 124.2h1.9v1.6h-1.9zM199.9 110.7h1.9v1.6h-1.9zM133.7 130.0h1.9v1.6h-1.9zM198.2 125.3h1.9v1.6h-1.9zM190.2 121.6h1.9v1.6h-1.9zM178.8 125.4h1.9v1.6h-1.9zM194.0 118.0h1.9v1.6h-1.9zM101.3 115.7h1.9v1.6h-1.9zM194.3 121.6h1.9v1.6h-1.9zM156.1 112.9h1.9v1.6h-1.9zM198.1 126.0h1.9v1.6h-1.9zM160.8 127.7h1.9v1.6h-1.9zM196.2 106.6h1.9v1.6h-1.9zM201.9 106.6h1.9v1.6h-1.9zM166.2 120.5h1.9v1.6h-1.9zM201.7 125.4h1.9v1.6h-1.9zM197.6 125.7h1.9v1.6h-1.9zM157.0 126.6h1.9v1.6h-1.9zM199.3 130.2h1.9v1.6h-1.9zM200.2 128.5h1.9v1.6h-1.9zM175.4 126.1h1.9v1.6h-1.9zM186.4 122.6h1.9v1.6h-1.9zM209.2 114.1h1.9v1.6h-1.9zM184.1 128.4h1.9v1.6h-1.9zM169.6 121.0h1.9v1.6h-1.9zM150.8 132.1h1.9v1.6h-1.9zM210.4 109.5h1.9v1.6h-1.9zM159.2 124.1h1.9v1.6h-1.9zM155.3 130.7h1.9v1.6h-1.9zM159.6 129.0h1.9v1.6h-1.9zM190.5 102.6h1.9v1.6h-1.9zM123.3 132.3h1.9v1.6h-1.9zM199.1 129.7h1.9v1.6h-1.9zM184.1 105.9h1.9v1.6h-1.9zM209.3 124.0h1.9v1.6h-1.9zM191.3 131.5h1.9v1.6h-1.9zM142.8 133.2h1.9v1.6h-1.9zM146.0 126.2h1.9v1.6h-1.9zM210.4 107.7h1.9v1.6h-1.9zM206.2 118.2h1.9v1.6h-1.9zM125.6 131.0h1.9v1.6h-1.9zM166.1 122.6h1.9v1.6h-1.9zM149.6 125.1h1.9v1.6h-1.9zM129.9 133.9h1.9v1.6h-1.9zM195.8 114.9h1.9v1.6h-1.9zM159.4 133.7h1.9v1.6h-1.9zM137.1 135.4h1.9v1.6h-1.9zM140.6 81.9h1.9v1.6h-1.9zM115.3 129.9h1.9v1.6h-1.9zM176.3 110.8h1.9v1.6h-1.9zM114.2 117.4h1.9v1.6h-1.9zM137.3 134.6h1.9v1.6h-1.9zM200.7 104.1h1.9v1.6h-1.9zM181.7 123.1h1.9v1.6h-1.9zM130.3 123.6h1.9v1.6h-1.9zM187.7 123.9h1.9v1.6h-1.9zM186.5 128.1h1.9v1.6h-1.9zM138.6 110.0h1.9v1.6h-1.9zM143.7 122.6h1.9v1.6h-1.9zM131.7 134.1h1.9v1.6h-1.9zM184.2 123.3h1.9v1.6h-1.9zM138.9 113.6h1.9v1.6h-1.9zM181.2 128.0h1.9v1.6h-1.9zM167.8 128.1h1.9v1.6h-1.9zM162.4 128.0h1.9v1.6h-1.9zM185.8 123.0h1.9v1.6h-1.9zM200.0 104.7h1.9v1.6h-1.9zM193.8 128.4h1.9v1.6h-1.9zM168.0 122.5h1.9v1.6h-1.9zM178.0 133.7h1.9v1.6h-1.9zM110.1 134.5h1.9v1.6h-1.9zM199.8 129.5h1.9v1.6h-1.9zM207.3 91.2h1.9v1.6h-1.9zM190.1 110.4h1.9v1.6h-1.9zM116.2 133.9h1.9v1.6h-1.9zM192.2 119.8h1.9v1.6h-1.9zM187.6 114.7h1.9v1.6h-1.9zM193.8 132.5h1.9v1.6h-1.9zM196.8 131.5h1.9v1.6h-1.9zM199.8 107.1h1.9v1.6h-1.9zM184.5 117.3h1.9v1.6h-1.9zM180.5 107.0h1.9v1.6h-1.9zM191.4 122.2h1.9v1.6h-1.9zM135.7 120.7h1.9v1.6h-1.9zM192.1 133.2h1.9v1.6h-1.9zM152.6 117.7h1.9v1.6h-1.9zM174.7 124.0h1.9v1.6h-1.9zM164.4 133.7h1.9v1.6h-1.9zM136.5 127.0h1.9v1.6h-1.9zM115.8 136.3h1.9v1.6h-1.9zM179.0 106.5h1.9v1.6h-1.9zM204.5 119.8h1.9v1.6h-1.9zM119.2 128.2h1.9v1.6h-1.9zM179.3 104.9h1.9v1.6h-1.9zM197.8 109.2h1.9v1.6h-1.9zM157.3 113.2h1.9v1.6h-1.9zM131.9 120.8h1.9v1.6h-1.9zM112.1 130.4h1.9v1.6h-1.9zM156.3 134.7h1.9v1.6h-1.9zM156.8 130.4h1.9v1.6h-1.9zM103.9 136.4h1.9v1.6h-1.9zM209.9 115.7h1.9v1.6h-1.9zM173.2 113.1h1.9v1.6h-1.9zM205.8 121.6h1.9v1.6h-1.9zM130.0 131.9h1.9v1.6h-1.9zM204.7 119.3h1.9v1.6h-1.9zM183.4 118.9h1.9v1.6h-1.9zM194.5 131.1h1.9v1.6h-1.9zM195.5 124.7h1.9v1.6h-1.9zM191.3 124.0h1.9v1.6h-1.9zM172.7 111.3h1.9v1.6h-1.9zM111.2 108.0h1.9v1.6h-1.9zM190.6 114.0h1.9v1.6h-1.9zM140.0 122.3h1.9v1.6h-1.9zM136.5 119.6h1.9v1.6h-1.9zM138.5 121.3h1.9v1.6h-1.9zM188.0 123.0h1.9v1.6h-1.9zM192.0 117.2h1.9v1.6h-1.9zM175.1 125.7h1.9v1.6h-1.9zM124.9 136.5h1.9v1.6h-1.9zM120.5 123.0h1.9v1.6h-1.9zM185.8 125.7h1.9v1.6h-1.9zM169.1 81.8h1.9v1.6h-1.9zM136.6 113.3h1.9v1.6h-1.9zM166.2 130.4h1.9v1.6h-1.9zM168.3 130.4h1.9v1.6h-1.9zM183.8 119.1h1.9v1.6h-1.9zM178.8 107.0h1.9v1.6h-1.9zM194.8 113.6h1.9v1.6h-1.9zM180.8 114.3h1.9v1.6h-1.9zM198.1 119.7h1.9v1.6h-1.9zM177.2 68.1h1.9v1.6h-1.9zM167.5 115.7h1.9v1.6h-1.9zM193.3 117.8h1.9v1.6h-1.9zM158.2 123.6h1.9v1.6h-1.9zM164.8 81.5h1.9v1.6h-1.9zM194.4 126.6h1.9v1.6h-1.9zM190.8 128.1h1.9v1.6h-1.9zM207.6 123.0h1.9v1.6h-1.9zM179.4 114.6h1.9v1.6h-1.9zM152.4 124.1h1.9v1.6h-1.9zM150.6 129.1h1.9v1.6h-1.9zM164.5 123.9h1.9v1.6h-1.9zM187.7 110.5h1.9v1.6h-1.9zM145.0 120.9h1.9v1.6h-1.9zM150.2 129.0h1.9v1.6h-1.9zM157.4 114.2h1.9v1.6h-1.9zM149.8 121.9h1.9v1.6h-1.9zM180.1 118.1h1.9v1.6h-1.9zM201.9 112.1h1.9v1.6h-1.9zM191.7 104.4h1.9v1.6h-1.9zM104.4 134.9h1.9v1.6h-1.9zM168.5 129.1h1.9v1.6h-1.9zM195.5 121.2h1.9v1.6h-1.9zM154.4 93.5h1.9v1.6h-1.9zM173.4 124.9h1.9v1.6h-1.9zM163.2 127.6h1.9v1.6h-1.9zM195.4 110.6h1.9v1.6h-1.9zM158.3 125.4h1.9v1.6h-1.9zM148.9 132.8h1.9v1.6h-1.9zM116.3 136.4h1.9v1.6h-1.9zM203.8 113.3h1.9v1.6h-1.9zM186.5 126.1h1.9v1.6h-1.9zM161.0 130.1h1.9v1.6h-1.9zM177.9 114.6h1.9v1.6h-1.9zM188.3 123.6h1.9v1.6h-1.9zM149.3 123.8h1.9v1.6h-1.9zM130.7 111.8h1.9v1.6h-1.9zM197.8 111.7h1.9v1.6h-1.9zM166.8 129.0h1.9v1.6h-1.9zM156.3 131.5h1.9v1.6h-1.9zM131.8 135.7h1.9v1.6h-1.9zM203.3 129.8h1.9v1.6h-1.9zM142.5 114.4h1.9v1.6h-1.9zM120.9 131.4h1.9v1.6h-1.9zM176.1 118.6h1.9v1.6h-1.9zM148.1 130.8h1.9v1.6h-1.9zM195.7 128.1h1.9v1.6h-1.9zM193.5 105.9h1.9v1.6h-1.9zM160.6 127.5h1.9v1.6h-1.9zM184.7 115.7h1.9v1.6h-1.9zM177.2 89.1h1.9v1.6h-1.9zM125.0 130.5h1.9v1.6h-1.9zM179.8 105.5h1.9v1.6h-1.9zM116.5 132.3h1.9v1.6h-1.9zM163.7 110.5h1.9v1.6h-1.9zM117.7 126.0h1.9v1.6h-1.9zM185.0 115.8h1.9v1.6h-1.9zM142.4 117.8h1.9v1.6h-1.9zM134.5 130.0h1.9v1.6h-1.9zM195.9 129.9h1.9v1.6h-1.9zM153.4 123.7h1.9v1.6h-1.9zM193.6 119.6h1.9v1.6h-1.9zM134.3 133.0h1.9v1.6h-1.9zM186.8 131.6h1.9v1.6h-1.9zM209.7 110.1h1.9v1.6h-1.9zM172.7 116.0h1.9v1.6h-1.9zM184.6 120.8h1.9v1.6h-1.9zM115.2 104.8h1.9v1.6h-1.9zM188.5 113.3h1.9v1.6h-1.9zM195.7 132.5h1.9v1.6h-1.9zM147.6 133.5h1.9v1.6h-1.9zM151.5 127.6h1.9v1.6h-1.9zM172.5 120.7h1.9v1.6h-1.9zM187.5 115.6h1.9v1.6h-1.9zM163.7 116.5h1.9v1.6h-1.9zM200.6 122.5h1.9v1.6h-1.9zM176.2 121.4h1.9v1.6h-1.9zM189.4 122.3h1.9v1.6h-1.9zM186.9 121.8h1.9v1.6h-1.9zM175.6 133.3h1.9v1.6h-1.9zM108.4 123.2h1.9v1.6h-1.9zM209.9 119.8h1.9v1.6h-1.9zM109.2 85.7h1.9v1.6h-1.9zM143.7 101.6h1.9v1.6h-1.9zM165.8 126.8h1.9v1.6h-1.9zM196.6 109.2h1.9v1.6h-1.9zM198.0 116.4h1.9v1.6h-1.9zM140.2 133.5h1.9v1.6h-1.9zM163.0 123.7h1.9v1.6h-1.9zM190.3 123.3h1.9v1.6h-1.9zM141.8 124.1h1.9v1.6h-1.9zM116.0 136.2h1.9v1.6h-1.9zM150.1 134.6h1.9v1.6h-1.9zM169.3 107.2h1.9v1.6h-1.9zM192.6 119.9h1.9v1.6h-1.9zM165.2 124.9h1.9v1.6h-1.9zM179.9 104.6h1.9v1.6h-1.9zM216.7 106.5h1.9v1.6h-1.9zM163.0 118.7h1.9v1.6h-1.9zM137.0 131.9h1.9v1.6h-1.9zM199.0 131.0h1.9v1.6h-1.9zM188.5 111.5h1.9v1.6h-1.9zM200.0 115.1h1.9v1.6h-1.9zM117.9 121.8h1.9v1.6h-1.9zM185.8 109.9h1.9v1.6h-1.9zM191.9 110.6h1.9v1.6h-1.9zM112.2 126.4h1.9v1.6h-1.9zM122.2 122.1h1.9v1.6h-1.9zM201.7 125.7h1.9v1.6h-1.9zM110.4 126.3h1.9v1.6h-1.9zM107.4 123.3h1.9v1.6h-1.9zM197.8 103.9h1.9v1.6h-1.9zM190.5 103.9h1.9v1.6h-1.9zM192.6 121.8h1.9v1.6h-1.9zM114.5 125.6h1.9v1.6h-1.9zM198.6 117.1h1.9v1.6h-1.9zM166.2 133.0h1.9v1.6h-1.9zM144.1 119.6h1.9v1.6h-1.9zM143.5 129.5h1.9v1.6h-1.9zM154.3 127.7h1.9v1.6h-1.9zM175.4 119.1h1.9v1.6h-1.9zM171.4 122.1h1.9v1.6h-1.9zM155.8 124.8h1.9v1.6h-1.9zM181.8 115.6h1.9v1.6h-1.9zM107.5 120.8h1.9v1.6h-1.9zM184.6 125.7h1.9v1.6h-1.9zM189.4 132.7h1.9v1.6h-1.9zM189.1 127.3h1.9v1.6h-1.9zM186.2 126.0h1.9v1.6h-1.9zM146.0 134.8h1.9v1.6h-1.9zM132.2 127.2h1.9v1.6h-1.9zM184.9 121.4h1.9v1.6h-1.9zM179.9 125.7h1.9v1.6h-1.9zM197.1 114.3h1.9v1.6h-1.9zM120.4 133.6h1.9v1.6h-1.9zM139.2 130.7h1.9v1.6h-1.9zM184.8 104.8h1.9v1.6h-1.9zM144.8 120.9h1.9v1.6h-1.9zM104.1 126.4h1.9v1.6h-1.9zM192.1 101.6h1.9v1.6h-1.9zM182.6 127.9h1.9v1.6h-1.9zM120.8 126.5h1.9v1.6h-1.9zM142.2 133.0h1.9v1.6h-1.9zM178.0 107.7h1.9v1.6h-1.9zM191.2 109.1h1.9v1.6h-1.9zM182.5 109.9h1.9v1.6h-1.9zM187.2 122.5h1.9v1.6h-1.9zM180.3 108.6h1.9v1.6h-1.9zM162.2 131.1h1.9v1.6h-1.9zM171.8 111.2h1.9v1.6h-1.9zM206.7 130.4h1.9v1.6h-1.9zM177.1 87.4h1.9v1.6h-1.9zM195.6 105.0h1.9v1.6h-1.9zM147.9 118.3h1.9v1.6h-1.9zM196.3 120.8h1.9v1.6h-1.9zM166.4 125.6h1.9v1.6h-1.9zM184.8 94.5h1.9v1.6h-1.9zM196.9 116.9h1.9v1.6h-1.9zM191.9 118.3h1.9v1.6h-1.9zM164.3 117.9h1.9v1.6h-1.9zM128.8 121.1h1.9v1.6h-1.9zM115.7 113.2h1.9v1.6h-1.9zM190.0 125.8h1.9v1.6h-1.9zM116.4 122.1h1.9v1.6h-1.9zM198.5 123.4h1.9v1.6h-1.9zM145.8 105.3h1.9v1.6h-1.9zM136.1 126.8h1.9v1.6h-1.9zM171.0 117.8h1.9v1.6h-1.9zM169.0 102.1h1.9v1.6h-1.9zM208.2 116.2h1.9v1.6h-1.9zM192.9 106.8h1.9v1.6h-1.9zM138.5 128.6h1.9v1.6h-1.9zM110.0 130.7h1.9v1.6h-1.9zM203.9 110.0h1.9v1.6h-1.9zM183.0 110.3h1.9v1.6h-1.9zM194.5 115.0h1.9v1.6h-1.9zM208.7 101.3h1.9v1.6h-1.9zM176.4 111.0h1.9v1.6h-1.9zM105.5 114.0h1.9v1.6h-1.9zM201.0 126.8h1.9v1.6h-1.9zM210.7 123.1h1.9v1.6h-1.9zM200.9 115.6h1.9v1.6h-1.9zM208.6 128.4h1.9v1.6h-1.9zM152.0 120.9h1.9v1.6h-1.9zM182.9 115.7h1.9v1.6h-1.9zM204.5 125.9h1.9v1.6h-1.9zM205.4 129.7h1.9v1.6h-1.9zM183.1 127.5h1.9v1.6h-1.9zM189.2 126.9h1.9v1.6h-1.9zM204.6 123.9h1.9v1.6h-1.9zM186.6 132.6h1.9v1.6h-1.9zM178.8 126.8h1.9v1.6h-1.9zM208.7 123.4h1.9v1.6h-1.9zM176.4 116.3h1.9v1.6h-1.9zM170.5 132.6h1.9v1.6h-1.9zM144.8 125.4h1.9v1.6h-1.9zM177.0 124.5h1.9v1.6h-1.9zM188.0 124.0h1.9v1.6h-1.9zM180.5 126.2h1.9v1.6h-1.9zM143.7 132.6h1.9v1.6h-1.9zM165.6 120.2h1.9v1.6h-1.9zM162.1 124.3h1.9v1.6h-1.9zM160.2 102.8h1.9v1.6h-1.9zM144.3 133.7h1.9v1.6h-1.9zM199.2 129.4h1.9v1.6h-1.9zM166.8 125.7h1.9v1.6h-1.9zM106.8 133.0h1.9v1.6h-1.9zM182.1 108.3h1.9v1.6h-1.9zM181.2 131.6h1.9v1.6h-1.9zM175.0 116.3h1.9v1.6h-1.9zM180.1 129.3h1.9v1.6h-1.9zM134.2 127.0h1.9v1.6h-1.9zM205.5 131.7h1.9v1.6h-1.9zM194.0 130.1h1.9v1.6h-1.9zM180.8 112.2h1.9v1.6h-1.9zM74.7 90.4h1.9v1.6h-1.9zM156.1 81.8h1.9v1.6h-1.9zM179.3 74.9h1.9v1.6h-1.9zM197.8 35.0h1.9v1.6h-1.9zM75.1 105.3h1.9v1.6h-1.9zM172.8 47.0h1.9v1.6h-1.9zM152.7 132.7h1.9v1.6h-1.9zM148.8 87.0h1.9v1.6h-1.9zM212.7 67.2h1.9v1.6h-1.9zM124.6 127.1h1.9v1.6h-1.9zM140.3 82.5h1.9v1.6h-1.9zM108.0 132.5h1.9v1.6h-1.9zM96.9 56.8h1.9v1.6h-1.9zM129.9 59.2h1.9v1.6h-1.9zM102.1 82.6h1.9v1.6h-1.9zM142.0 116.8h1.9v1.6h-1.9zM176.9 79.9h1.9v1.6h-1.9zM62.1 41.0h1.9v1.6h-1.9zM202.1 92.9h1.9v1.6h-1.9zM198.1 89.2h1.9v1.6h-1.9zM134.7 82.7h1.9v1.6h-1.9zM165.2 74.7h1.9v1.6h-1.9zM208.1 111.1h1.9v1.6h-1.9zM131.3 75.6h1.9v1.6h-1.9zM180.0 111.2h1.9v1.6h-1.9zM234.3 101.0h1.9v1.6h-1.9zM176.4 32.7h1.9v1.6h-1.9zM158.8 45.7h1.9v1.6h-1.9zM118.4 77.4h1.9v1.6h-1.9zM91.3 45.2h1.9v1.6h-1.9zM169.4 80.6h1.9v1.6h-1.9zM113.0 82.5h1.9v1.6h-1.9zM206.1 89.4h1.9v1.6h-1.9zM111.3 74.6h1.9v1.6h-1.9zM233.3 65.5h1.9v1.6h-1.9zM182.9 122.8h1.9v1.6h-1.9zM109.3 31.6h1.9v1.6h-1.9zM166.1 73.7h1.9v1.6h-1.9zM72.4 37.5h1.9v1.6h-1.9zM121.6 98.8h1.9v1.6h-1.9zM226.9 141.9h1.9v1.6h-1.9zM227.0 66.9h1.9v1.6h-1.9zM157.8 126.0h1.9v1.6h-1.9zM161.0 50.4h1.9v1.6h-1.9zM122.8 93.9h1.9v1.6h-1.9zM114.5 115.2h1.9v1.6h-1.9zM162.4 74.7h1.9v1.6h-1.9zM121.6 88.2h1.9v1.6h-1.9zM202.7 70.8h1.9v1.6h-1.9zM216.9 136.0h1.9v1.6h-1.9zM197.8 24.7h1.9v1.6h-1.9zM84.3 25.1h1.9v1.6h-1.9zM106.4 25.1h1.9v1.6h-1.9zM154.8 25.7h1.9v1.6h-1.9zM76.4 25.1h1.9v1.6h-1.9zM186.7 25.4h1.9v1.6h-1.9zM214.1 25.1h1.9v1.6h-1.9zM102.7 24.8h1.9v1.6h-1.9zM99.7 25.5h1.9v1.6h-1.9zM106.5 25.3h1.9v1.6h-1.9zM193.2 24.9h1.9v1.6h-1.9zM218.4 24.6h1.9v1.6h-1.9zM122.4 25.2h1.9v1.6h-1.9zM114.3 25.6h1.9v1.6h-1.9zM63.0 25.7h1.9v1.6h-1.9zM171.9 25.1h1.9v1.6h-1.9zM72.4 25.6h1.9v1.6h-1.9zM89.8 24.6h1.9v1.6h-1.9zM76.6 24.7h1.9v1.6h-1.9zM171.1 24.9h1.9v1.6h-1.9zM225.6 25.8h1.9v1.6h-1.9zM79.8 25.2h1.9v1.6h-1.9zM65.3 24.8h1.9v1.6h-1.9zM96.0 25.1h1.9v1.6h-1.9zM179.4 25.5h1.9v1.6h-1.9zM96.7 24.8h1.9v1.6h-1.9zM210.9 25.1h1.9v1.6h-1.9zM108.8 25.3h1.9v1.6h-1.9zM217.0 24.9h1.9v1.6h-1.9zM107.9 25.2h1.9v1.6h-1.9zM130.7 25.5h1.9v1.6h-1.9zM92.0 25.7h1.9v1.6h-1.9zM156.9 24.7h1.9v1.6h-1.9zM125.0 25.2h1.9v1.6h-1.9zM187.6 25.4h1.9v1.6h-1.9zM73.2 25.3h1.9v1.6h-1.9zM236.3 38.7h1.9v1.6h-1.9zM236.2 112.2h1.9v1.6h-1.9zM235.5 64.8h1.9v1.6h-1.9zM235.9 51.2h1.9v1.6h-1.9zM236.2 121.6h1.9v1.6h-1.9zM236.0 75.0h1.9v1.6h-1.9zM236.4 40.4h1.9v1.6h-1.9zM235.5 29.2h1.9v1.6h-1.9zM235.5 49.0h1.9v1.6h-1.9zM236.6 101.0h1.9v1.6h-1.9zM236.1 127.1h1.9v1.6h-1.9zM236.4 65.4h1.9v1.6h-1.9zM235.8 82.3h1.9v1.6h-1.9zM236.4 105.6h1.9v1.6h-1.9zM236.1 57.8h1.9v1.6h-1.9zM236.6 89.5h1.9v1.6h-1.9zM236.0 98.1h1.9v1.6h-1.9zM235.8 132.3h1.9v1.6h-1.9zM236.6 67.6h1.9v1.6h-1.9zM235.6 116.1h1.9v1.6h-1.9zM236.4 64.4h1.9v1.6h-1.9zM236.3 119.6h1.9v1.6h-1.9zM236.0 90.0h1.9v1.6h-1.9zM235.6 73.8h1.9v1.6h-1.9zM236.6 30.8h1.9v1.6h-1.9zM235.8 130.3h1.9v1.6h-1.9zM236.1 52.7h1.9v1.6h-1.9zM235.5 43.3h1.9v1.6h-1.9zM347.5 134.0h1.9v1.6h-1.9zM345.3 141.6h1.9v1.6h-1.9zM336.9 131.9h1.9v1.6h-1.9zM344.1 138.3h1.9v1.6h-1.9zM340.0 122.3h1.9v1.6h-1.9zM347.0 120.6h1.9v1.6h-1.9zM343.3 138.8h1.9v1.6h-1.9zM350.0 138.6h1.9v1.6h-1.9zM340.4 123.0h1.9v1.6h-1.9zM338.1 123.7h1.9v1.6h-1.9zM345.8 124.9h1.9v1.6h-1.9zM341.7 121.1h1.9v1.6h-1.9zM343.9 132.4h1.9v1.6h-1.9zM343.6 128.6h1.9v1.6h-1.9zM349.4 142.3h1.9v1.6h-1.9zM338.4 141.1h1.9v1.6h-1.9zM346.2 141.7h1.9v1.6h-1.9zM351.0 122.9h1.9v1.6h-1.9zM338.8 120.5h1.9v1.6h-1.9zM346.0 129.6h1.9v1.6h-1.9zM337.7 132.0h1.9v1.6h-1.9zM337.8 133.7h1.9v1.6h-1.9zM335.6 122.5h1.9v1.6h-1.9zM340.1 129.9h1.9v1.6h-1.9zM347.9 129.9h1.9v1.6h-1.9zM346.2 129.6h1.9v1.6h-1.9zM343.2 134.0h1.9v1.6h-1.9zM337.3 128.2h1.9v1.6h-1.9zM343.6 138.0h1.9v1.6h-1.9zM341.1 138.5h1.9v1.6h-1.9zM342.2 123.5h1.9v1.6h-1.9zM343.7 136.8h1.9v1.6h-1.9zM345.6 124.6h1.9v1.6h-1.9zM341.6 128.8h1.9v1.6h-1.9zM347.1 138.3h1.9v1.6h-1.9zM343.4 130.0h1.9v1.6h-1.9zM343.6 138.5h1.9v1.6h-1.9zM347.7 133.8h1.9v1.6h-1.9zM346.8 133.9h1.9v1.6h-1.9zM338.1 140.2h1.9v1.6h-1.9zM346.7 137.9h1.9v1.6h-1.9zM351.7 122.4h1.9v1.6h-1.9zM336.5 125.3h1.9v1.6h-1.9zM339.1 121.2h1.9v1.6h-1.9zM342.1 134.9h1.9v1.6h-1.9zM344.4 126.0h1.9v1.6h-1.9zM346.8 134.7h1.9v1.6h-1.9zM341.4 139.3h1.9v1.6h-1.9zM350.0 132.5h1.9v1.6h-1.9zM349.6 132.4h1.9v1.6h-1.9zM350.2 130.1h1.9v1.6h-1.9zM340.9 123.4h1.9v1.6h-1.9zM342.4 137.2h1.9v1.6h-1.9zM350.6 132.4h1.9v1.6h-1.9zM347.3 125.8h1.9v1.6h-1.9zM349.9 123.7h1.9v1.6h-1.9zM338.8 121.1h1.9v1.6h-1.9zM351.2 120.0h1.9v1.6h-1.9zM348.2 136.8h1.9v1.6h-1.9zM344.1 123.9h1.9v1.6h-1.9zM341.7 139.2h1.9v1.6h-1.9zM340.5 128.9h1.9v1.6h-1.9zM348.4 122.8h1.9v1.6h-1.9zM337.0 123.3h1.9v1.6h-1.9zM349.8 138.3h1.9v1.6h-1.9zM345.4 134.9h1.9v1.6h-1.9zM337.0 128.0h1.9v1.6h-1.9zM339.5 130.3h1.9v1.6h-1.9zM342.0 132.2h1.9v1.6h-1.9zM343.7 133.0h1.9v1.6h-1.9zM348.8 121.4h1.9v1.6h-1.9zM348.4 138.6h1.9v1.6h-1.9zM342.9 120.4h1.9v1.6h-1.9zM340.7 136.4h1.9v1.6h-1.9zM341.6 131.0h1.9v1.6h-1.9zM339.8 127.2h1.9v1.6h-1.9zM342.0 123.5h1.9v1.6h-1.9zM344.7 141.0h1.9v1.6h-1.9zM347.3 122.5h1.9v1.6h-1.9zM339.0 125.7h1.9v1.6h-1.9zM340.3 132.5h1.9v1.6h-1.9zM347.3 122.6h1.9v1.6h-1.9zM344.8 133.0h1.9v1.6h-1.9zM345.3 123.9h1.9v1.6h-1.9zM349.7 127.2h1.9v1.6h-1.9zM350.7 135.6h1.9v1.6h-1.9zM346.0 119.4h1.9v1.6h-1.9zM338.0 130.6h1.9v1.6h-1.9zM344.9 121.9h1.9v1.6h-1.9zM350.1 141.0h1.9v1.6h-1.9zM344.5 125.9h1.9v1.6h-1.9zM339.6 136.7h1.9v1.6h-1.9zM346.8 123.0h1.9v1.6h-1.9zM344.4 121.0h1.9v1.6h-1.9zM337.0 137.3h1.9v1.6h-1.9zM341.0 128.1h1.9v1.6h-1.9zM347.0 122.1h1.9v1.6h-1.9zM343.7 131.7h1.9v1.6h-1.9zM341.9 138.6h1.9v1.6h-1.9zM340.6 136.3h1.9v1.6h-1.9zM346.9 141.0h1.9v1.6h-1.9zM346.2 129.5h1.9v1.6h-1.9zM342.5 135.4h1.9v1.6h-1.9zM349.1 132.6h1.9v1.6h-1.9zM337.6 130.2h1.9v1.6h-1.9zM348.4 135.1h1.9v1.6h-1.9zM342.9 140.4h1.9v1.6h-1.9zM345.2 133.4h1.9v1.6h-1.9zM337.8 125.1h1.9v1.6h-1.9zM343.0 133.9h1.9v1.6h-1.9zM341.4 141.4h1.9v1.6h-1.9zM348.7 141.6h1.9v1.6h-1.9zM350.1 127.8h1.9v1.6h-1.9zM339.7 133.0h1.9v1.6h-1.9zM346.3 125.2h1.9v1.6h-1.9zM341.6 135.6h1.9v1.6h-1.9zM344.9 134.8h1.9v1.6h-1.9zM343.8 126.7h1.9v1.6h-1.9zM349.1 139.6h1.9v1.6h-1.9zM344.8 133.7h1.9v1.6h-1.9zM341.2 119.3h1.9v1.6h-1.9zM351.1 133.3h1.9v1.6h-1.9zM339.7 127.2h1.9v1.6h-1.9zM348.8 131.8h1.9v1.6h-1.9zM346.0 132.7h1.9v1.6h-1.9zM339.2 135.8h1.9v1.6h-1.9zM347.5 120.9h1.9v1.6h-1.9zM349.1 135.3h1.9v1.6h-1.9zM351.3 138.7h1.9v1.6h-1.9zM338.2 123.0h1.9v1.6h-1.9zM348.2 124.5h1.9v1.6h-1.9zM350.6 138.4h1.9v1.6h-1.9zM348.3 128.2h1.9v1.6h-1.9zM345.4 131.2h1.9v1.6h-1.9zM338.0 127.2h1.9v1.6h-1.9zM341.6 132.6h1.9v1.6h-1.9zM336.4 136.4h1.9v1.6h-1.9zM348.8 140.4h1.9v1.6h-1.9zM336.0 124.7h1.9v1.6h-1.9zM343.1 124.8h1.9v1.6h-1.9zM341.9 120.5h1.9v1.6h-1.9zM349.4 125.9h1.9v1.6h-1.9zM343.2 139.5h1.9v1.6h-1.9zM349.8 127.6h1.9v1.6h-1.9zM340.7 122.4h1.9v1.6h-1.9zM346.3 122.3h1.9v1.6h-1.9zM340.5 129.2h1.9v1.6h-1.9zM339.3 123.0h1.9v1.6h-1.9zM345.2 131.8h1.9v1.6h-1.9zM337.1 123.0h1.9v1.6h-1.9zM339.6 125.2h1.9v1.6h-1.9zM351.0 127.5h1.9v1.6h-1.9zM351.1 120.7h1.9v1.6h-1.9zM349.7 126.3h1.9v1.6h-1.9zM345.2 139.8h1.9v1.6h-1.9zM338.2 123.5h1.9v1.6h-1.9zM341.4 121.7h1.9v1.6h-1.9zM339.9 141.1h1.9v1.6h-1.9zM346.2 126.7h1.9v1.6h-1.9zM341.5 134.8h1.9v1.6h-1.9zM347.2 126.4h1.9v1.6h-1.9zM340.9 132.0h1.9v1.6h-1.9zM341.0 128.4h1.9v1.6h-1.9zM338.6 135.4h1.9v1.6h-1.9zM350.0 128.4h1.9v1.6h-1.9zM338.8 133.4h1.9v1.6h-1.9zM343.8 129.0h1.9v1.6h-1.9zM339.8 135.4h1.9v1.6h-1.9zM344.9 125.7h1.9v1.6h-1.9zM336.3 130.2h1.9v1.6h-1.9zM350.5 120.7h1.9v1.6h-1.9zM347.8 130.6h1.9v1.6h-1.9zM349.3 140.0h1.9v1.6h-1.9zM343.5 130.6h1.9v1.6h-1.9zM339.7 128.6h1.9v1.6h-1.9zM346.3 119.0h1.9v1.6h-1.9zM347.3 139.6h1.9v1.6h-1.9zM349.2 141.4h1.9v1.6h-1.9zM342.3 138.8h1.9v1.6h-1.9zM351.9 132.3h1.9v1.6h-1.9zM347.3 135.7h1.9v1.6h-1.9zM338.8 128.1h1.9v1.6h-1.9zM339.7 134.3h1.9v1.6h-1.9zM344.1 119.9h1.9v1.6h-1.9zM347.9 139.1h1.9v1.6h-1.9zM347.9 139.6h1.9v1.6h-1.9zM342.1 121.5h1.9v1.6h-1.9zM337.4 127.5h1.9v1.6h-1.9zM343.6 125.9h1.9v1.6h-1.9zM342.2 123.5h1.9v1.6h-1.9zM351.3 140.5h1.9v1.6h-1.9zM347.0 125.5h1.9v1.6h-1.9zM338.0 137.6h1.9v1.6h-1.9zM340.8 128.8h1.9v1.6h-1.9zM339.1 120.4h1.9v1.6h-1.9zM339.9 138.3h1.9v1.6h-1.9zM338.5 125.6h1.9v1.6h-1.9zM345.3 126.0h1.9v1.6h-1.9zM342.5 125.9h1.9v1.6h-1.9zM337.3 125.5h1.9v1.6h-1.9zM340.4 130.5h1.9v1.6h-1.9zM343.5 124.6h1.9v1.6h-1.9zM339.7 120.1h1.9v1.6h-1.9zM350.5 134.2h1.9v1.6h-1.9zM335.8 128.3h1.9v1.6h-1.9zM341.1 137.8h1.9v1.6h-1.9zM348.3 123.9h1.9v1.6h-1.9zM335.9 132.5h1.9v1.6h-1.9zM342.9 120.8h1.9v1.6h-1.9zM339.2 127.2h1.9v1.6h-1.9zM342.5 138.8h1.9v1.6h-1.9zM343.7 133.0h1.9v1.6h-1.9zM342.9 135.9h1.9v1.6h-1.9zM340.7 140.9h1.9v1.6h-1.9zM341.4 123.9h1.9v1.6h-1.9zM344.4 119.5h1.9v1.6h-1.9zM337.7 120.5h1.9v1.6h-1.9zM342.2 125.2h1.9v1.6h-1.9zM352.0 130.0h1.9v1.6h-1.9zM349.8 140.5h1.9v1.6h-1.9zM336.2 136.0h1.9v1.6h-1.9zM336.6 122.7h1.9v1.6h-1.9zM348.9 132.6h1.9v1.6h-1.9zM336.2 130.7h1.9v1.6h-1.9zM347.2 140.6h1.9v1.6h-1.9zM349.3 135.7h1.9v1.6h-1.9zM347.7 125.0h1.9v1.6h-1.9zM341.3 132.0h1.9v1.6h-1.9zM351.9 131.1h1.9v1.6h-1.9zM339.4 123.9h1.9v1.6h-1.9zM351.1 131.4h1.9v1.6h-1.9zM350.1 123.6h1.9v1.6h-1.9zM347.3 121.3h1.9v1.6h-1.9zM343.3 133.4h1.9v1.6h-1.9zM338.4 133.8h1.9v1.6h-1.9zM338.1 137.4h1.9v1.6h-1.9zM348.0 133.1h1.9v1.6h-1.9zM340.2 126.0h1.9v1.6h-1.9zM344.9 121.3h1.9v1.6h-1.9zM342.6 128.4h1.9v1.6h-1.9zM346.2 131.2h1.9v1.6h-1.9zM350.7 141.3h1.9v1.6h-1.9zM347.2 123.3h1.9v1.6h-1.9zM336.5 135.8h1.9v1.6h-1.9zM341.6 133.1h1.9v1.6h-1.9zM346.2 129.6h1.9v1.6h-1.9zM349.5 137.2h1.9v1.6h-1.9zM341.4 136.0h1.9v1.6h-1.9zM344.3 128.1h1.9v1.6h-1.9zM338.3 138.4h1.9v1.6h-1.9zM338.9 130.8h1.9v1.6h-1.9zM342.7 134.0h1.9v1.6h-1.9zM337.3 123.7h1.9v1.6h-1.9zM340.2 125.4h1.9v1.6h-1.9zM343.8 133.6h1.9v1.6h-1.9zM339.6 136.1h1.9v1.6h-1.9zM337.1 135.7h1.9v1.6h-1.9zM337.9 128.7h1.9v1.6h-1.9zM340.5 138.3h1.9v1.6h-1.9zM346.2 119.7h1.9v1.6h-1.9zM340.0 130.9h1.9v1.6h-1.9zM347.2 140.7h1.9v1.6h-1.9zM345.5 123.6h1.9v1.6h-1.9zM348.2 138.3h1.9v1.6h-1.9zM348.3 124.8h1.9v1.6h-1.9zM349.9 132.9h1.9v1.6h-1.9zM349.4 119.7h1.9v1.6h-1.9zM345.7 122.7h1.9v1.6h-1.9zM343.2 140.6h1.9v1.6h-1.9zM341.9 126.3h1.9v1.6h-1.9zM338.4 141.0h1.9v1.6h-1.9zM340.6 122.6h1.9v1.6h-1.9zM341.1 140.0h1.9v1.6h-1.9zM339.7 119.0h1.9v1.6h-1.9zM350.6 119.4h1.9v1.6h-1.9zM340.7 130.6h1.9v1.6h-1.9zM351.9 124.9h1.9v1.6h-1.9zM349.1 135.3h1.9v1.6h-1.9zM343.2 127.6h1.9v1.6h-1.9zM347.3 127.8h1.9v1.6h-1.9zM342.5 128.2h1.9v1.6h-1.9zM344.9 125.7h1.9v1.6h-1.9zM339.0 139.0h1.9v1.6h-1.9zM347.7 141.3h1.9v1.6h-1.9zM346.0 132.6h1.9v1.6h-1.9zM344.7 134.7h1.9v1.6h-1.9zM348.7 119.8h1.9v1.6h-1.9zM349.2 131.2h1.9v1.6h-1.9zM338.6 137.8h1.9v1.6h-1.9zM343.5 135.7h1.9v1.6h-1.9zM339.2 126.9h1.9v1.6h-1.9zM346.1 127.4h1.9v1.6h-1.9zM350.9 125.0h1.9v1.6h-1.9zM340.0 132.3h1.9v1.6h-1.9zM340.5 124.1h1.9v1.6h-1.9zM340.6 137.5h1.9v1.6h-1.9zM345.4 130.3h1.9v1.6h-1.9zM343.7 125.7h1.9v1.6h-1.9zM339.8 127.9h1.9v1.6h-1.9zM347.4 134.6h1.9v1.6h-1.9zM349.9 135.7h1.9v1.6h-1.9zM349.4 139.4h1.9v1.6h-1.9zM335.8 121.1h1.9v1.6h-1.9zM336.8 131.0h1.9v1.6h-1.9zM347.3 127.2h1.9v1.6h-1.9zM340.6 124.5h1.9v1.6h-1.9zM339.0 121.8h1.9v1.6h-1.9zM343.3 121.1h1.9v1.6h-1.9zM337.1 131.3h1.9v1.6h-1.9zM348.5 135.4h1.9v1.6h-1.9zM347.9 120.5h1.9v1.6h-1.9zM342.5 139.3h1.9v1.6h-1.9zM347.0 132.6h1.9v1.6h-1.9zM342.4 123.7h1.9v1.6h-1.9zM341.6 138.3h1.9v1.6h-1.9zM341.4 121.8h1.9v1.6h-1.9zM348.5 120.0h1.9v1.6h-1.9zM350.2 126.2h1.9v1.6h-1.9zM346.3 127.7h1.9v1.6h-1.9zM340.5 133.7h1.9v1.6h-1.9zM343.7 120.8h1.9v1.6h-1.9zM339.9 125.5h1.9v1.6h-1.9zM351.3 135.2h1.9v1.6h-1.9zM340.6 128.7h1.9v1.6h-1.9zM339.9 127.3h1.9v1.6h-1.9zM349.2 126.3h1.9v1.6h-1.9zM340.6 130.1h1.9v1.6h-1.9zM344.1 129.7h1.9v1.6h-1.9zM340.4 128.1h1.9v1.6h-1.9zM337.3 134.3h1.9v1.6h-1.9zM346.9 125.2h1.9v1.6h-1.9zM350.6 121.4h1.9v1.6h-1.9zM347.0 122.8h1.9v1.6h-1.9zM340.1 129.5h1.9v1.6h-1.9zM346.5 125.7h1.9v1.6h-1.9zM337.4 140.8h1.9v1.6h-1.9zM347.2 138.0h1.9v1.6h-1.9zM343.5 123.3h1.9v1.6h-1.9zM346.5 137.3h1.9v1.6h-1.9zM349.0 136.5h1.9v1.6h-1.9zM347.1 138.0h1.9v1.6h-1.9zM348.4 138.8h1.9v1.6h-1.9zM338.5 137.6h1.9v1.6h-1.9zM348.9 126.1h1.9v1.6h-1.9zM345.9 130.6h1.9v1.6h-1.9zM350.3 136.7h1.9v1.6h-1.9zM338.5 128.3h1.9v1.6h-1.9zM341.6 135.4h1.9v1.6h-1.9zM350.7 126.6h1.9v1.6h-1.9zM339.1 131.4h1.9v1.6h-1.9zM337.9 122.3h1.9v1.6h-1.9zM338.2 138.3h1.9v1.6h-1.9zM341.6 123.0h1.9v1.6h-1.9zM339.2 123.8h1.9v1.6h-1.9zM339.0 133.0h1.9v1.6h-1.9zM346.7 125.6h1.9v1.6h-1.9zM341.6 138.6h1.9v1.6h-1.9zM350.2 130.0h1.9v1.6h-1.9zM347.6 139.7h1.9v1.6h-1.9zM338.3 135.8h1.9v1.6h-1.9zM335.5 140.0h1.9v1.6h-1.9zM350.1 135.9h1.9v1.6h-1.9zM342.6 126.4h1.9v1.6h-1.9zM348.6 125.2h1.9v1.6h-1.9zM348.8 130.1h1.9v1.6h-1.9zM347.7 132.6h1.9v1.6h-1.9zM338.0 133.9h1.9v1.6h-1.9zM349.2 140.6h1.9v1.6h-1.9zM338.0 140.1h1.9v1.6h-1.9zM340.0 126.0h1.9v1.6h-1.9zM345.0 121.8h1.9v1.6h-1.9zM350.2 123.3h1.9v1.6h-1.9zM336.8 131.2h1.9v1.6h-1.9zM346.1 119.9h1.9v1.6h-1.9zM337.2 133.9h1.9v1.6h-1.9zM346.8 140.6h1.9v1.6h-1.9zM340.1 137.7h1.9v1.6h-1.9zM347.6 134.8h1.9v1.6h-1.9zM351.1 141.7h1.9v1.6h-1.9zM338.7 124.4h1.9v1.6h-1.9zM347.6 125.8h1.9v1.6h-1.9zM351.5 123.4h1.9v1.6h-1.9zM347.5 139.0h1.9v1.6h-1.9zM349.8 138.0h1.9v1.6h-1.9zM350.9 130.5h1.9v1.6h-1.9zM336.8 140.6h1.9v1.6h-1.9zM344.1 124.3h1.9v1.6h-1.9zM344.2 127.1h1.9v1.6h-1.9zM342.4 130.4h1.9v1.6h-1.9zM345.6 121.2h1.9v1.6h-1.9zM348.4 132.7h1.9v1.6h-1.9zM350.8 124.9h1.9v1.6h-1.9zM341.8 140.4h1.9v1.6h-1.9zM338.1 141.0h1.9v1.6h-1.9zM336.1 128.2h1.9v1.6h-1.9zM346.7 126.2h1.9v1.6h-1.9zM347.6 125.5h1.9v1.6h-1.9zM341.7 136.1h1.9v1.6h-1.9zM344.2 127.7h1.9v1.6h-1.9zM348.9 120.7h1.9v1.6h-1.9zM336.4 122.3h1.9v1.6h-1.9zM343.9 123.0h1.9v1.6h-1.9zM340.5 130.0h1.9v1.6h-1.9zM341.7 122.9h1.9v1.6h-1.9zM346.4 138.9h1.9v1.6h-1.9zM341.1 138.7h1.9v1.6h-1.9zM342.5 140.5h1.9v1.6h-1.9zM343.5 139.2h1.9v1.6h-1.9zM341.3 121.9h1.9v1.6h-1.9zM350.0 134.9h1.9v1.6h-1.9zM341.6 130.4h1.9v1.6h-1.9zM346.8 128.8h1.9v1.6h-1.9zM349.2 139.9h1.9v1.6h-1.9zM345.2 134.3h1.9v1.6h-1.9zM341.4 126.4h1.9v1.6h-1.9zM341.3 130.8h1.9v1.6h-1.9zM350.1 129.9h1.9v1.6h-1.9zM341.1 139.6h1.9v1.6h-1.9zM345.7 121.6h1.9v1.6h-1.9zM346.2 123.9h1.9v1.6h-1.9zM351.6 124.6h1.9v1.6h-1.9zM342.1 128.4h1.9v1.6h-1.9zM348.4 138.5h1.9v1.6h-1.9zM343.4 127.7h1.9v1.6h-1.9zM349.9 126.2h1.9v1.6h-1.9zM338.0 141.8h1.9v1.6h-1.9zM347.8 134.8h1.9v1.6h-1.9zM345.4 124.6h1.9v1.6h-1.9zM336.5 136.4h1.9v1.6h-1.9zM351.3 127.9h1.9v1.6h-1.9zM342.3 126.3h1.9v1.6h-1.9zM351.0 139.8h1.9v1.6h-1.9zM344.6 127.5h1.9v1.6h-1.9zM348.3 126.7h1.9v1.6h-1.9zM339.0 133.3h1.9v1.6h-1.9zM337.4 140.5h1.9v1.6h-1.9zM348.8 98.9h1.9v1.6h-1.9zM345.9 120.7h1.9v1.6h-1.9zM345.9 92.2h1.9v1.6h-1.9zM337.6 114.5h1.9v1.6h-1.9zM336.7 115.2h1.9v1.6h-1.9zM344.6 117.5h1.9v1.6h-1.9zM347.4 105.3h1.9v1.6h-1.9zM348.3 110.7h1.9v1.6h-1.9zM347.0 92.3h1.9v1.6h-1.9zM350.7 111.0h1.9v1.6h-1.9zM337.7 103.6h1.9v1.6h-1.9zM348.6 116.1h1.9v1.6h-1.9zM342.0 120.4h1.9v1.6h-1.9zM335.2 110.0h1.9v1.6h-1.9zM347.4 101.3h1.9v1.6h-1.9zM339.5 103.2h1.9v1.6h-1.9zM336.7 96.6h1.9v1.6h-1.9zM336.3 99.0h1.9v1.6h-1.9zM343.3 118.5h1.9v1.6h-1.9zM346.9 112.4h1.9v1.6h-1.9zM343.5 105.7h1.9v1.6h-1.9zM340.6 110.4h1.9v1.6h-1.9zM342.7 104.4h1.9v1.6h-1.9zM338.3 97.2h1.9v1.6h-1.9zM345.1 107.4h1.9v1.6h-1.9zM348.4 93.6h1.9v1.6h-1.9zM345.0 104.0h1.9v1.6h-1.9zM338.6 100.3h1.9v1.6h-1.9zM345.8 99.4h1.9v1.6h-1.9zM339.9 96.9h1.9v1.6h-1.9zM342.6 109.6h1.9v1.6h-1.9zM342.4 102.2h1.9v1.6h-1.9zM347.1 120.0h1.9v1.6h-1.9zM348.3 109.2h1.9v1.6h-1.9zM348.9 103.4h1.9v1.6h-1.9zM346.9 103.7h1.9v1.6h-1.9zM344.0 98.4h1.9v1.6h-1.9zM346.4 96.5h1.9v1.6h-1.9zM341.8 92.7h1.9v1.6h-1.9zM338.5 90.8h1.9v1.6h-1.9zM348.1 105.8h1.9v1.6h-1.9zM337.5 120.0h1.9v1.6h-1.9zM344.0 103.0h1.9v1.6h-1.9zM342.9 102.3h1.9v1.6h-1.9zM341.3 106.2h1.9v1.6h-1.9zM340.4 112.2h1.9v1.6h-1.9zM339.2 105.7h1.9v1.6h-1.9zM348.1 118.8h1.9v1.6h-1.9zM338.4 114.0h1.9v1.6h-1.9zM342.5 96.2h1.9v1.6h-1.9zM339.6 103.3h1.9v1.6h-1.9zM344.2 108.2h1.9v1.6h-1.9zM348.6 99.0h1.9v1.6h-1.9zM342.9 112.3h1.9v1.6h-1.9zM345.2 106.5h1.9v1.6h-1.9zM340.5 98.4h1.9v1.6h-1.9zM349.2 117.6h1.9v1.6h-1.9zM338.0 111.3h1.9v1.6h-1.9zM338.8 101.4h1.9v1.6h-1.9zM341.4 120.0h1.9v1.6h-1.9zM349.3 94.0h1.9v1.6h-1.9zM339.8 98.8h1.9v1.6h-1.9zM341.2 102.7h1.9v1.6h-1.9zM339.3 114.0h1.9v1.6h-1.9zM341.2 101.6h1.9v1.6h-1.9zM342.1 115.4h1.9v1.6h-1.9zM342.0 97.9h1.9v1.6h-1.9zM346.3 119.3h1.9v1.6h-1.9zM345.2 108.1h1.9v1.6h-1.9zM347.5 106.9h1.9v1.6h-1.9zM349.4 95.7h1.9v1.6h-1.9zM342.1 94.3h1.9v1.6h-1.9zM344.9 107.4h1.9v1.6h-1.9zM347.4 116.8h1.9v1.6h-1.9zM339.8 72.7h1.9v1.6h-1.9zM338.1 66.5h1.9v1.6h-1.9zM345.4 72.2h1.9v1.6h-1.9zM348.6 81.0h1.9v1.6h-1.9zM347.5 73.8h1.9v1.6h-1.9zM340.2 84.9h1.9v1.6h-1.9zM346.5 71.1h1.9v1.6h-1.9zM348.1 78.6h1.9v1.6h-1.9zM339.0 85.7h1.9v1.6h-1.9zM340.9 73.5h1.9v1.6h-1.9zM340.9 80.5h1.9v1.6h-1.9zM345.8 70.7h1.9v1.6h-1.9zM342.3 61.1h1.9v1.6h-1.9zM348.5 67.5h1.9v1.6h-1.9zM348.2 74.1h1.9v1.6h-1.9zM342.0 87.3h1.9v1.6h-1.9zM338.0 68.6h1.9v1.6h-1.9zM342.1 83.2h1.9v1.6h-1.9zM350.4 74.6h1.9v1.6h-1.9zM347.6 78.2h1.9v1.6h-1.9zM340.2 80.4h1.9v1.6h-1.9zM340.2 83.0h1.9v1.6h-1.9zM341.5 86.2h1.9v1.6h-1.9zM348.5 73.1h1.9v1.6h-1.9zM343.4 65.3h1.9v1.6h-1.9zM335.6 107.1h1.9v1.6h-1.9zM341.4 55.9h1.9v1.6h-1.9zM348.5 107.6h1.9v1.6h-1.9zM325.4 40.8h1.9v1.6h-1.9zM340.9 64.2h1.9v1.6h-1.9zM348.6 87.6h1.9v1.6h-1.9zM351.9 104.6h1.9v1.6h-1.9zM333.8 102.3h1.9v1.6h-1.9zM343.2 32.2h1.9v1.6h-1.9zM355.9 31.6h1.9v1.6h-1.9zM347.4 40.7h1.9v1.6h-1.9zM326.6 69.4h1.9v1.6h-1.9zM354.2 48.3h1.9v1.6h-1.9zM326.5 94.3h1.9v1.6h-1.9zM351.4 61.6h1.9v1.6h-1.9zM327.7 35.2h1.9v1.6h-1.9zM344.1 109.2h1.9v1.6h-1.9zM340.8 77.2h1.9v1.6h-1.9zM339.1 43.9h1.9v1.6h-1.9zM345.1 108.1h1.9v1.6h-1.9zM346.2 46.0h1.9v1.6h-1.9zM340.9 78.9h1.9v1.6h-1.9zM348.8 85.3h1.9v1.6h-1.9zM355.2 70.4h1.9v1.6h-1.9zM335.8 58.8h1.9v1.6h-1.9zM339.1 64.1h1.9v1.6h-1.9zM330.4 90.9h1.9v1.6h-1.9zM352.9 64.2h1.9v1.6h-1.9zM350.6 33.1h1.9v1.6h-1.9zM355.2 75.0h1.9v1.6h-1.9zM354.7 56.1h1.9v1.6h-1.9zM336.2 42.6h1.9v1.6h-1.9zM352.3 72.4h1.9v1.6h-1.9zM366.2 110.4h1.9v1.6h-1.9zM351.9 115.5h1.9v1.6h-1.9zM351.0 125.4h1.9v1.6h-1.9zM358.8 131.3h1.9v1.6h-1.9zM361.9 135.3h1.9v1.6h-1.9zM354.8 113.9h1.9v1.6h-1.9zM359.7 127.3h1.9v1.6h-1.9zM365.5 135.9h1.9v1.6h-1.9zM355.3 105.5h1.9v1.6h-1.9zM363.4 109.8h1.9v1.6h-1.9zM363.7 130.3h1.9v1.6h-1.9zM352.0 113.7h1.9v1.6h-1.9zM351.6 126.0h1.9v1.6h-1.9zM353.9 132.8h1.9v1.6h-1.9zM351.0 130.7h1.9v1.6h-1.9zM357.1 103.5h1.9v1.6h-1.9zM356.2 106.4h1.9v1.6h-1.9zM352.8 114.9h1.9v1.6h-1.9zM359.2 110.6h1.9v1.6h-1.9zM365.0 138.0h1.9v1.6h-1.9zM352.9 126.0h1.9v1.6h-1.9zM363.0 128.7h1.9v1.6h-1.9zM355.0 121.1h1.9v1.6h-1.9zM362.1 108.3h1.9v1.6h-1.9zM364.0 136.7h1.9v1.6h-1.9zM351.7 130.3h1.9v1.6h-1.9zM355.4 135.4h1.9v1.6h-1.9zM354.8 134.8h1.9v1.6h-1.9zM364.7 133.6h1.9v1.6h-1.9zM353.9 130.8h1.9v1.6h-1.9zM360.1 136.8h1.9v1.6h-1.9zM361.0 108.3h1.9v1.6h-1.9zM361.2 115.5h1.9v1.6h-1.9zM363.8 115.2h1.9v1.6h-1.9zM352.8 121.8h1.9v1.6h-1.9zM354.2 123.0h1.9v1.6h-1.9zM361.6 121.5h1.9v1.6h-1.9zM356.3 116.3h1.9v1.6h-1.9zM353.1 111.3h1.9v1.6h-1.9zM363.2 126.1h1.9v1.6h-1.9zM353.4 132.7h1.9v1.6h-1.9zM354.2 118.8h1.9v1.6h-1.9zM354.8 105.7h1.9v1.6h-1.9zM361.0 116.0h1.9v1.6h-1.9zM362.7 105.3h1.9v1.6h-1.9zM360.8 140.0h1.9v1.6h-1.9zM353.2 137.9h1.9v1.6h-1.9zM360.8 126.8h1.9v1.6h-1.9zM360.6 108.3h1.9v1.6h-1.9zM365.8 135.2h1.9v1.6h-1.9zM360.6 121.2h1.9v1.6h-1.9zM366.6 132.3h1.9v1.6h-1.9zM357.0 126.8h1.9v1.6h-1.9zM362.8 126.4h1.9v1.6h-1.9zM350.9 109.7h1.9v1.6h-1.9zM351.3 139.5h1.9v1.6h-1.9zM350.5 136.4h1.9v1.6h-1.9zM352.9 113.6h1.9v1.6h-1.9zM354.7 107.8h1.9v1.6h-1.9zM354.9 135.5h1.9v1.6h-1.9zM360.7 141.8h1.9v1.6h-1.9zM363.5 115.1h1.9v1.6h-1.9zM356.8 107.1h1.9v1.6h-1.9zM352.4 120.2h1.9v1.6h-1.9zM362.0 121.8h1.9v1.6h-1.9zM365.0 128.2h1.9v1.6h-1.9zM351.2 129.5h1.9v1.6h-1.9zM355.5 124.6h1.9v1.6h-1.9zM360.8 108.6h1.9v1.6h-1.9zM363.6 128.9h1.9v1.6h-1.9zM355.6 140.9h1.9v1.6h-1.9zM352.7 120.2h1.9v1.6h-1.9zM448.8 89.0h1.9v1.6h-1.9zM385.4 133.8h1.9v1.6h-1.9zM419.4 90.1h1.9v1.6h-1.9zM409.1 90.7h1.9v1.6h-1.9zM414.5 117.3h1.9v1.6h-1.9zM436.8 100.6h1.9v1.6h-1.9zM451.7 110.3h1.9v1.6h-1.9zM397.2 95.4h1.9v1.6h-1.9zM445.2 101.5h1.9v1.6h-1.9zM462.5 124.7h1.9v1.6h-1.9zM418.1 77.2h1.9v1.6h-1.9zM439.4 132.5h1.9v1.6h-1.9zM422.1 79.6h1.9v1.6h-1.9zM414.6 128.9h1.9v1.6h-1.9zM412.1 112.0h1.9v1.6h-1.9zM410.3 123.4h1.9v1.6h-1.9zM429.5 124.1h1.9v1.6h-1.9zM391.9 125.7h1.9v1.6h-1.9zM415.2 125.6h1.9v1.6h-1.9zM440.2 130.7h1.9v1.6h-1.9zM428.7 118.9h1.9v1.6h-1.9zM427.3 98.6h1.9v1.6h-1.9zM389.1 112.7h1.9v1.6h-1.9zM408.1 132.0h1.9v1.6h-1.9zM385.3 101.6h1.9v1.6h-1.9zM386.8 104.8h1.9v1.6h-1.9zM456.1 124.2h1.9v1.6h-1.9zM413.0 85.3h1.9v1.6h-1.9zM415.7 120.9h1.9v1.6h-1.9zM394.5 106.8h1.9v1.6h-1.9zM467.0 126.4h1.9v1.6h-1.9zM396.9 96.4h1.9v1.6h-1.9zM396.9 97.8h1.9v1.6h-1.9zM391.7 97.4h1.9v1.6h-1.9zM422.9 83.4h1.9v1.6h-1.9zM460.9 114.8h1.9v1.6h-1.9zM447.1 99.5h1.9v1.6h-1.9zM382.2 128.6h1.9v1.6h-1.9zM455.2 120.7h1.9v1.6h-1.9zM441.9 118.8h1.9v1.6h-1.9zM439.8 130.9h1.9v1.6h-1.9zM407.6 125.9h1.9v1.6h-1.9zM401.1 102.5h1.9v1.6h-1.9zM409.6 130.6h1.9v1.6h-1.9zM437.6 103.5h1.9v1.6h-1.9zM466.5 126.8h1.9v1.6h-1.9zM404.9 122.2h1.9v1.6h-1.9zM387.9 112.8h1.9v1.6h-1.9zM404.8 85.8h1.9v1.6h-1.9zM444.4 86.0h1.9v1.6h-1.9zM436.5 112.3h1.9v1.6h-1.9zM455.7 132.3h1.9v1.6h-1.9zM443.9 98.7h1.9v1.6h-1.9zM447.7 112.3h1.9v1.6h-1.9zM433.9 122.2h1.9v1.6h-1.9zM397.2 117.5h1.9v1.6h-1.9zM382.8 123.7h1.9v1.6h-1.9zM458.9 116.9h1.9v1.6h-1.9zM378.0 111.2h1.9v1.6h-1.9zM438.6 95.0h1.9v1.6h-1.9zM421.5 118.1h1.9v1.6h-1.9zM458.0 119.0h1.9v1.6h-1.9zM417.6 77.6h1.9v1.6h-1.9zM477.6 119.7h1.9v1.6h-1.9zM376.5 114.6h1.9v1.6h-1.9zM441.7 88.6h1.9v1.6h-1.9zM418.3 88.3h1.9v1.6h-1.9zM403.0 85.7h1.9v1.6h-1.9zM457.6 115.2h1.9v1.6h-1.9zM407.9 111.2h1.9v1.6h-1.9zM395.8 125.4h1.9v1.6h-1.9zM408.2 94.6h1.9v1.6h-1.9zM451.1 100.7h1.9v1.6h-1.9zM420.9 127.7h1.9v1.6h-1.9zM397.8 97.9h1.9v1.6h-1.9zM397.0 113.2h1.9v1.6h-1.9zM413.5 97.3h1.9v1.6h-1.9zM415.1 86.1h1.9v1.6h-1.9zM453.4 93.3h1.9v1.6h-1.9zM405.9 103.7h1.9v1.6h-1.9zM402.9 108.6h1.9v1.6h-1.9zM477.3 115.4h1.9v1.6h-1.9zM479.5 116.8h1.9v1.6h-1.9zM457.2 94.3h1.9v1.6h-1.9zM469.4 119.4h1.9v1.6h-1.9zM413.8 80.6h1.9v1.6h-1.9zM414.8 105.8h1.9v1.6h-1.9zM397.2 92.0h1.9v1.6h-1.9zM415.0 87.8h1.9v1.6h-1.9zM390.3 123.7h1.9v1.6h-1.9zM438.9 110.8h1.9v1.6h-1.9zM460.0 129.4h1.9v1.6h-1.9zM454.2 110.5h1.9v1.6h-1.9zM404.8 119.0h1.9v1.6h-1.9zM428.4 129.7h1.9v1.6h-1.9zM374.9 126.1h1.9v1.6h-1.9zM403.4 107.1h1.9v1.6h-1.9zM447.2 131.1h1.9v1.6h-1.9zM447.4 99.4h1.9v1.6h-1.9zM436.8 86.6h1.9v1.6h-1.9zM454.1 112.1h1.9v1.6h-1.9zM414.1 125.8h1.9v1.6h-1.9zM404.4 129.8h1.9v1.6h-1.9zM428.4 135.2h1.9v1.6h-1.9zM427.4 83.4h1.9v1.6h-1.9zM434.2 112.9h1.9v1.6h-1.9zM447.4 115.3h1.9v1.6h-1.9zM468.0 115.1h1.9v1.6h-1.9zM394.2 95.8h1.9v1.6h-1.9zM385.1 125.2h1.9v1.6h-1.9zM442.2 108.1h1.9v1.6h-1.9zM467.1 114.1h1.9v1.6h-1.9zM429.4 108.7h1.9v1.6h-1.9zM405.2 119.2h1.9v1.6h-1.9zM471.5 129.7h1.9v1.6h-1.9zM423.9 99.9h1.9v1.6h-1.9zM386.0 128.9h1.9v1.6h-1.9zM415.9 132.0h1.9v1.6h-1.9zM426.8 103.5h1.9v1.6h-1.9zM418.9 109.2h1.9v1.6h-1.9zM444.5 114.9h1.9v1.6h-1.9zM456.0 105.3h1.9v1.6h-1.9zM444.1 114.9h1.9v1.6h-1.9zM443.9 83.8h1.9v1.6h-1.9zM379.6 128.0h1.9v1.6h-1.9zM397.9 87.5h1.9v1.6h-1.9zM398.3 113.4h1.9v1.6h-1.9zM453.2 103.9h1.9v1.6h-1.9zM419.2 90.4h1.9v1.6h-1.9zM428.5 95.1h1.9v1.6h-1.9zM464.5 118.6h1.9v1.6h-1.9zM389.5 138.1h1.9v1.6h-1.9zM375.5 124.2h1.9v1.6h-1.9zM466.5 124.4h1.9v1.6h-1.9zM443.6 108.9h1.9v1.6h-1.9zM412.0 82.3h1.9v1.6h-1.9zM397.4 121.6h1.9v1.6h-1.9zM426.7 111.0h1.9v1.6h-1.9zM406.3 116.4h1.9v1.6h-1.9zM396.6 119.6h1.9v1.6h-1.9zM371.3 133.8h1.9v1.6h-1.9zM461.8 97.6h1.9v1.6h-1.9zM399.6 92.2h1.9v1.6h-1.9zM377.1 112.9h1.9v1.6h-1.9zM417.5 87.8h1.9v1.6h-1.9zM417.5 83.6h1.9v1.6h-1.9zM392.5 104.4h1.9v1.6h-1.9zM387.8 120.9h1.9v1.6h-1.9zM426.9 92.4h1.9v1.6h-1.9zM377.7 132.0h1.9v1.6h-1.9zM455.2 130.3h1.9v1.6h-1.9zM419.6 122.1h1.9v1.6h-1.9zM415.3 116.0h1.9v1.6h-1.9zM447.3 122.7h1.9v1.6h-1.9zM376.6 114.6h1.9v1.6h-1.9zM429.1 123.9h1.9v1.6h-1.9zM415.5 80.2h1.9v1.6h-1.9zM463.9 111.4h1.9v1.6h-1.9zM378.1 126.1h1.9v1.6h-1.9zM453.9 133.0h1.9v1.6h-1.9zM430.3 87.4h1.9v1.6h-1.9zM450.6 103.0h1.9v1.6h-1.9zM422.4 130.4h1.9v1.6h-1.9zM446.0 132.8h1.9v1.6h-1.9zM386.4 122.8h1.9v1.6h-1.9zM377.5 99.7h1.9v1.6h-1.9zM429.4 83.1h1.9v1.6h-1.9zM450.8 117.4h1.9v1.6h-1.9zM408.1 87.8h1.9v1.6h-1.9zM425.2 118.2h1.9v1.6h-1.9zM401.7 105.7h1.9v1.6h-1.9zM455.1 96.0h1.9v1.6h-1.9zM451.9 110.0h1.9v1.6h-1.9zM389.5 120.6h1.9v1.6h-1.9zM394.1 93.8h1.9v1.6h-1.9zM410.9 124.6h1.9v1.6h-1.9zM375.3 124.1h1.9v1.6h-1.9zM377.8 100.6h1.9v1.6h-1.9zM469.5 126.5h1.9v1.6h-1.9zM436.8 98.1h1.9v1.6h-1.9zM382.7 113.1h1.9v1.6h-1.9zM387.1 121.5h1.9v1.6h-1.9zM389.7 133.6h1.9v1.6h-1.9zM432.2 106.8h1.9v1.6h-1.9zM442.3 106.0h1.9v1.6h-1.9zM406.5 95.3h1.9v1.6h-1.9zM409.5 118.4h1.9v1.6h-1.9zM385.7 134.3h1.9v1.6h-1.9zM418.7 87.6h1.9v1.6h-1.9zM451.5 122.9h1.9v1.6h-1.9zM429.9 93.7h1.9v1.6h-1.9zM389.0 117.3h1.9v1.6h-1.9zM473.5 132.0h1.9v1.6h-1.9zM412.4 112.9h1.9v1.6h-1.9zM381.1 116.5h1.9v1.6h-1.9zM383.4 121.3h1.9v1.6h-1.9zM395.2 100.6h1.9v1.6h-1.9zM465.7 107.6h1.9v1.6h-1.9zM449.3 127.8h1.9v1.6h-1.9zM408.7 112.0h1.9v1.6h-1.9zM409.2 92.8h1.9v1.6h-1.9zM476.8 107.5h1.9v1.6h-1.9zM461.4 100.1h1.9v1.6h-1.9zM414.0 93.4h1.9v1.6h-1.9zM396.3 112.7h1.9v1.6h-1.9zM449.8 107.2h1.9v1.6h-1.9zM389.8 101.6h1.9v1.6h-1.9zM376.0 113.8h1.9v1.6h-1.9zM472.5 110.6h1.9v1.6h-1.9zM444.2 100.9h1.9v1.6h-1.9zM419.0 99.0h1.9v1.6h-1.9zM386.5 131.8h1.9v1.6h-1.9zM426.5 121.5h1.9v1.6h-1.9zM436.4 83.7h1.9v1.6h-1.9zM384.7 94.0h1.9v1.6h-1.9zM464.4 121.8h1.9v1.6h-1.9zM414.1 99.8h1.9v1.6h-1.9zM407.6 125.4h1.9v1.6h-1.9zM383.8 121.3h1.9v1.6h-1.9zM367.7 130.4h1.9v1.6h-1.9zM408.8 123.8h1.9v1.6h-1.9zM464.1 125.1h1.9v1.6h-1.9zM464.2 113.4h1.9v1.6h-1.9zM413.5 118.4h1.9v1.6h-1.9zM379.8 127.1h1.9v1.6h-1.9zM425.2 98.6h1.9v1.6h-1.9zM419.9 133.9h1.9v1.6h-1.9zM383.7 131.9h1.9v1.6h-1.9zM372.2 115.7h1.9v1.6h-1.9zM437.8 83.7h1.9v1.6h-1.9zM405.0 97.1h1.9v1.6h-1.9zM404.4 99.1h1.9v1.6h-1.9zM419.8 104.5h1.9v1.6h-1.9zM451.0 96.9h1.9v1.6h-1.9zM422.2 115.8h1.9v1.6h-1.9zM444.6 96.9h1.9v1.6h-1.9zM480.4 123.5h1.9v1.6h-1.9zM434.6 127.4h1.9v1.6h-1.9zM438.3 104.1h1.9v1.6h-1.9zM380.7 130.2h1.9v1.6h-1.9zM389.0 132.6h1.9v1.6h-1.9zM468.9 123.4h1.9v1.6h-1.9zM399.9 91.9h1.9v1.6h-1.9zM453.3 97.7h1.9v1.6h-1.9zM421.9 102.6h1.9v1.6h-1.9zM409.4 131.0h1.9v1.6h-1.9zM444.1 110.3h1.9v1.6h-1.9zM426.4 93.6h1.9v1.6h-1.9zM437.0 109.4h1.9v1.6h-1.9zM459.7 114.0h1.9v1.6h-1.9zM409.3 96.0h1.9v1.6h-1.9zM422.8 101.2h1.9v1.6h-1.9zM439.9 119.8h1.9v1.6h-1.9zM420.2 103.2h1.9v1.6h-1.9zM378.7 105.3h1.9v1.6h-1.9zM374.3 132.1h1.9v1.6h-1.9zM409.8 124.8h1.9v1.6h-1.9zM374.2 120.5h1.9v1.6h-1.9zM450.7 112.5h1.9v1.6h-1.9zM419.9 121.2h1.9v1.6h-1.9zM475.1 128.0h1.9v1.6h-1.9zM434.8 94.6h1.9v1.6h-1.9zM381.1 110.1h1.9v1.6h-1.9zM461.9 112.5h1.9v1.6h-1.9zM399.9 101.7h1.9v1.6h-1.9zM390.3 106.7h1.9v1.6h-1.9zM464.8 117.8h1.9v1.6h-1.9zM427.9 95.2h1.9v1.6h-1.9zM419.3 98.4h1.9v1.6h-1.9zM438.9 125.9h1.9v1.6h-1.9zM397.8 131.6h1.9v1.6h-1.9zM420.9 133.3h1.9v1.6h-1.9zM461.0 128.7h1.9v1.6h-1.9zM384.1 113.5h1.9v1.6h-1.9zM425.3 82.6h1.9v1.6h-1.9zM395.7 101.2h1.9v1.6h-1.9zM435.5 116.8h1.9v1.6h-1.9zM381.5 121.2h1.9v1.6h-1.9zM442.3 125.9h1.9v1.6h-1.9zM422.6 111.9h1.9v1.6h-1.9zM424.9 117.9h1.9v1.6h-1.9zM431.7 106.4h1.9v1.6h-1.9zM422.5 91.3h1.9v1.6h-1.9zM443.3 105.3h1.9v1.6h-1.9zM438.0 85.5h1.9v1.6h-1.9zM402.4 102.6h1.9v1.6h-1.9zM457.8 123.1h1.9v1.6h-1.9zM432.3 85.2h1.9v1.6h-1.9zM437.3 85.1h1.9v1.6h-1.9zM418.5 130.9h1.9v1.6h-1.9zM407.1 97.9h1.9v1.6h-1.9zM473.5 106.2h1.9v1.6h-1.9zM396.9 117.6h1.9v1.6h-1.9zM384.7 129.7h1.9v1.6h-1.9zM392.8 95.7h1.9v1.6h-1.9zM412.9 130.6h1.9v1.6h-1.9zM445.7 99.4h1.9v1.6h-1.9zM408.1 131.7h1.9v1.6h-1.9zM439.5 94.1h1.9v1.6h-1.9zM446.0 108.5h1.9v1.6h-1.9zM427.4 130.8h1.9v1.6h-1.9zM452.4 124.6h1.9v1.6h-1.9zM391.7 93.0h1.9v1.6h-1.9zM412.5 85.7h1.9v1.6h-1.9zM438.8 131.0h1.9v1.6h-1.9zM389.4 102.4h1.9v1.6h-1.9zM412.7 115.4h1.9v1.6h-1.9zM440.8 101.7h1.9v1.6h-1.9zM464.9 129.2h1.9v1.6h-1.9zM391.5 129.3h1.9v1.6h-1.9zM405.1 100.0h1.9v1.6h-1.9zM439.4 88.4h1.9v1.6h-1.9zM384.2 109.2h1.9v1.6h-1.9zM407.7 131.0h1.9v1.6h-1.9zM440.2 102.7h1.9v1.6h-1.9zM383.3 124.0h1.9v1.6h-1.9zM407.6 114.6h1.9v1.6h-1.9zM411.0 102.8h1.9v1.6h-1.9zM409.4 101.8h1.9v1.6h-1.9zM403.5 90.4h1.9v1.6h-1.9zM438.8 115.7h1.9v1.6h-1.9zM392.5 131.0h1.9v1.6h-1.9zM441.8 104.6h1.9v1.6h-1.9zM427.3 99.5h1.9v1.6h-1.9zM395.3 117.3h1.9v1.6h-1.9zM403.1 105.3h1.9v1.6h-1.9zM437.8 109.6h1.9v1.6h-1.9zM467.8 114.1h1.9v1.6h-1.9zM435.2 129.7h1.9v1.6h-1.9zM473.1 109.2h1.9v1.6h-1.9zM405.5 105.3h1.9v1.6h-1.9zM386.2 130.1h1.9v1.6h-1.9zM390.1 105.4h1.9v1.6h-1.9zM451.9 119.0h1.9v1.6h-1.9zM471.3 128.4h1.9v1.6h-1.9zM441.0 128.5h1.9v1.6h-1.9zM420.9 108.9h1.9v1.6h-1.9zM464.2 129.3h1.9v1.6h-1.9zM445.5 93.3h1.9v1.6h-1.9zM450.2 104.5h1.9v1.6h-1.9zM463.0 122.5h1.9v1.6h-1.9zM443.9 85.2h1.9v1.6h-1.9zM434.1 111.5h1.9v1.6h-1.9zM411.8 92.9h1.9v1.6h-1.9zM383.4 110.8h1.9v1.6h-1.9zM388.2 125.0h1.9v1.6h-1.9zM377.9 133.0h1.9v1.6h-1.9zM418.8 130.0h1.9v1.6h-1.9zM402.9 90.6h1.9v1.6h-1.9zM410.6 92.1h1.9v1.6h-1.9zM385.5 107.4h1.9v1.6h-1.9zM402.0 114.4h1.9v1.6h-1.9zM413.3 93.9h1.9v1.6h-1.9zM399.2 105.1h1.9v1.6h-1.9zM428.9 115.4h1.9v1.6h-1.9zM435.2 128.2h1.9v1.6h-1.9zM441.5 119.0h1.9v1.6h-1.9zM445.5 129.7h1.9v1.6h-1.9zM409.2 108.9h1.9v1.6h-1.9zM462.7 117.0h1.9v1.6h-1.9zM384.3 103.7h1.9v1.6h-1.9zM445.5 93.9h1.9v1.6h-1.9zM412.0 134.9h1.9v1.6h-1.9zM372.7 105.3h1.9v1.6h-1.9zM457.2 97.3h1.9v1.6h-1.9zM426.9 106.4h1.9v1.6h-1.9zM377.1 111.2h1.9v1.6h-1.9zM378.7 134.4h1.9v1.6h-1.9zM457.5 90.0h1.9v1.6h-1.9zM409.7 110.9h1.9v1.6h-1.9zM441.2 118.4h1.9v1.6h-1.9zM394.5 109.4h1.9v1.6h-1.9zM400.1 93.8h1.9v1.6h-1.9zM443.0 101.2h1.9v1.6h-1.9zM379.9 130.8h1.9v1.6h-1.9zM423.5 118.7h1.9v1.6h-1.9zM434.0 85.1h1.9v1.6h-1.9zM424.3 120.0h1.9v1.6h-1.9zM401.5 132.4h1.9v1.6h-1.9zM455.6 99.0h1.9v1.6h-1.9zM436.8 123.8h1.9v1.6h-1.9zM446.3 94.8h1.9v1.6h-1.9zM405.8 91.4h1.9v1.6h-1.9zM469.5 117.1h1.9v1.6h-1.9zM453.2 127.2h1.9v1.6h-1.9zM391.5 133.3h1.9v1.6h-1.9zM442.2 88.5h1.9v1.6h-1.9zM462.8 115.5h1.9v1.6h-1.9zM420.0 124.5h1.9v1.6h-1.9zM414.5 98.4h1.9v1.6h-1.9zM457.2 130.5h1.9v1.6h-1.9zM435.3 97.2h1.9v1.6h-1.9zM414.5 96.3h1.9v1.6h-1.9zM459.9 113.8h1.9v1.6h-1.9zM428.4 114.7h1.9v1.6h-1.9zM428.4 123.7h1.9v1.6h-1.9zM391.7 111.3h1.9v1.6h-1.9zM437.8 124.6h1.9v1.6h-1.9zM452.0 132.0h1.9v1.6h-1.9zM397.0 106.1h1.9v1.6h-1.9zM390.9 112.2h1.9v1.6h-1.9zM417.8 98.6h1.9v1.6h-1.9zM400.6 112.4h1.9v1.6h-1.9zM438.5 114.9h1.9v1.6h-1.9zM453.9 108.7h1.9v1.6h-1.9zM394.1 121.2h1.9v1.6h-1.9zM460.6 117.5h1.9v1.6h-1.9zM460.5 118.0h1.9v1.6h-1.9zM420.0 121.6h1.9v1.6h-1.9zM392.8 119.6h1.9v1.6h-1.9zM416.1 101.1h1.9v1.6h-1.9zM396.8 117.8h1.9v1.6h-1.9zM457.5 121.9h1.9v1.6h-1.9zM417.6 101.4h1.9v1.6h-1.9zM416.3 113.0h1.9v1.6h-1.9zM418.6 128.1h1.9v1.6h-1.9zM415.6 118.4h1.9v1.6h-1.9zM438.3 105.0h1.9v1.6h-1.9zM417.6 112.7h1.9v1.6h-1.9zM454.9 112.5h1.9v1.6h-1.9zM406.6 100.8h1.9v1.6h-1.9zM443.7 108.0h1.9v1.6h-1.9zM434.2 115.5h1.9v1.6h-1.9zM414.8 131.5h1.9v1.6h-1.9zM440.7 130.0h1.9v1.6h-1.9zM460.2 126.5h1.9v1.6h-1.9zM426.7 119.5h1.9v1.6h-1.9zM427.9 130.4h1.9v1.6h-1.9zM405.2 126.7h1.9v1.6h-1.9zM403.3 101.4h1.9v1.6h-1.9zM422.9 94.9h1.9v1.6h-1.9zM399.3 121.7h1.9v1.6h-1.9zM440.7 113.6h1.9v1.6h-1.9zM446.9 128.4h1.9v1.6h-1.9zM412.2 106.1h1.9v1.6h-1.9zM396.6 123.9h1.9v1.6h-1.9zM429.9 104.0h1.9v1.6h-1.9zM443.5 103.6h1.9v1.6h-1.9zM425.1 131.8h1.9v1.6h-1.9zM423.3 118.3h1.9v1.6h-1.9zM422.1 112.2h1.9v1.6h-1.9zM459.6 129.3h1.9v1.6h-1.9zM470.7 116.2h1.9v1.6h-1.9zM414.9 122.1h1.9v1.6h-1.9zM444.3 117.2h1.9v1.6h-1.9zM455.2 117.3h1.9v1.6h-1.9zM402.6 125.4h1.9v1.6h-1.9zM464.8 126.6h1.9v1.6h-1.9zM401.6 120.6h1.9v1.6h-1.9zM422.6 126.0h1.9v1.6h-1.9zM412.5 101.8h1.9v1.6h-1.9zM458.5 115.4h1.9v1.6h-1.9zM448.5 114.3h1.9v1.6h-1.9zM431.9 106.2h1.9v1.6h-1.9zM442.2 109.9h1.9v1.6h-1.9zM416.2 124.3h1.9v1.6h-1.9zM438.0 106.7h1.9v1.6h-1.9zM395.1 121.6h1.9v1.6h-1.9zM431.9 114.8h1.9v1.6h-1.9zM431.5 95.7h1.9v1.6h-1.9zM442.4 109.4h1.9v1.6h-1.9zM444.5 117.4h1.9v1.6h-1.9zM398.2 114.4h1.9v1.6h-1.9zM417.4 95.9h1.9v1.6h-1.9zM453.9 129.4h1.9v1.6h-1.9zM460.3 125.3h1.9v1.6h-1.9zM421.0 130.2h1.9v1.6h-1.9zM439.1 119.6h1.9v1.6h-1.9zM467.4 123.8h1.9v1.6h-1.9zM415.3 103.8h1.9v1.6h-1.9zM437.3 112.4h1.9v1.6h-1.9zM459.4 121.1h1.9v1.6h-1.9zM398.7 108.4h1.9v1.6h-1.9zM403.0 115.6h1.9v1.6h-1.9zM424.3 128.7h1.9v1.6h-1.9zM444.5 116.2h1.9v1.6h-1.9zM426.8 94.9h1.9v1.6h-1.9zM415.7 94.6h1.9v1.6h-1.9zM436.9 109.8h1.9v1.6h-1.9zM421.9 96.0h1.9v1.6h-1.9zM399.3 118.2h1.9v1.6h-1.9zM417.5 99.7h1.9v1.6h-1.9zM440.3 132.4h1.9v1.6h-1.9zM413.2 102.3h1.9v1.6h-1.9zM407.4 101.0h1.9v1.6h-1.9zM446.3 112.7h1.9v1.6h-1.9zM403.5 118.3h1.9v1.6h-1.9zM418.5 101.2h1.9v1.6h-1.9zM431.6 100.6h1.9v1.6h-1.9zM426.2 98.7h1.9v1.6h-1.9zM446.5 109.3h1.9v1.6h-1.9zM413.5 111.4h1.9v1.6h-1.9zM396.9 114.2h1.9v1.6h-1.9zM427.5 98.5h1.9v1.6h-1.9zM394.1 106.6h1.9v1.6h-1.9zM464.5 128.7h1.9v1.6h-1.9zM447.1 113.8h1.9v1.6h-1.9zM441.8 123.9h1.9v1.6h-1.9zM442.2 126.8h1.9v1.6h-1.9zM459.9 109.4h1.9v1.6h-1.9zM462.1 114.7h1.9v1.6h-1.9zM404.6 96.9h1.9v1.6h-1.9zM389.7 112.6h1.9v1.6h-1.9zM438.6 134.6h1.9v1.6h-1.9zM400.4 100.4h1.9v1.6h-1.9zM429.6 116.0h1.9v1.6h-1.9zM404.9 110.9h1.9v1.6h-1.9zM466.7 123.8h1.9v1.6h-1.9zM425.3 128.2h1.9v1.6h-1.9zM421.0 118.3h1.9v1.6h-1.9zM441.0 121.3h1.9v1.6h-1.9zM402.4 104.4h1.9v1.6h-1.9zM398.3 126.8h1.9v1.6h-1.9zM456.3 119.1h1.9v1.6h-1.9zM407.4 129.3h1.9v1.6h-1.9zM405.0 106.7h1.9v1.6h-1.9zM467.6 119.0h1.9v1.6h-1.9zM404.7 104.1h1.9v1.6h-1.9zM427.1 122.5h1.9v1.6h-1.9zM426.1 102.1h1.9v1.6h-1.9zM430.3 122.5h1.9v1.6h-1.9zM449.8 126.9h1.9v1.6h-1.9zM427.5 97.7h1.9v1.6h-1.9zM412.7 110.0h1.9v1.6h-1.9zM401.7 114.7h1.9v1.6h-1.9zM401.7 114.3h1.9v1.6h-1.9zM404.7 118.9h1.9v1.6h-1.9zM420.4 94.5h1.9v1.6h-1.9zM407.1 109.0h1.9v1.6h-1.9zM403.8 108.6h1.9v1.6h-1.9zM397.7 121.7h1.9v1.6h-1.9zM444.6 107.3h1.9v1.6h-1.9zM419.1 116.8h1.9v1.6h-1.9zM431.1 131.8h1.9v1.6h-1.9zM426.3 98.6h1.9v1.6h-1.9zM394.8 114.6h1.9v1.6h-1.9zM447.7 129.6h1.9v1.6h-1.9zM413.0 103.6h1.9v1.6h-1.9zM422.0 111.5h1.9v1.6h-1.9zM440.8 120.3h1.9v1.6h-1.9zM466.2 117.1h1.9v1.6h-1.9zM459.1 127.2h1.9v1.6h-1.9zM419.7 100.1h1.9v1.6h-1.9zM421.7 95.0h1.9v1.6h-1.9zM411.0 101.0h1.9v1.6h-1.9zM469.8 124.6h1.9v1.6h-1.9zM416.7 121.5h1.9v1.6h-1.9zM428.3 96.5h1.9v1.6h-1.9zM393.0 111.4h1.9v1.6h-1.9zM435.8 101.0h1.9v1.6h-1.9zM456.3 118.1h1.9v1.6h-1.9zM440.8 117.4h1.9v1.6h-1.9zM422.4 93.6h1.9v1.6h-1.9zM445.9 125.3h1.9v1.6h-1.9zM439.6 107.0h1.9v1.6h-1.9zM422.8 122.4h1.9v1.6h-1.9zM463.9 117.5h1.9v1.6h-1.9zM435.1 130.2h1.9v1.6h-1.9zM465.4 119.7h1.9v1.6h-1.9zM408.8 103.5h1.9v1.6h-1.9zM419.1 91.5h1.9v1.6h-1.9zM411.8 123.0h1.9v1.6h-1.9zM405.1 123.4h1.9v1.6h-1.9zM396.3 115.1h1.9v1.6h-1.9zM468.4 119.5h1.9v1.6h-1.9zM441.1 129.1h1.9v1.6h-1.9zM436.5 117.9h1.9v1.6h-1.9zM462.4 112.5h1.9v1.6h-1.9zM465.8 122.6h1.9v1.6h-1.9zM467.0 125.2h1.9v1.6h-1.9zM412.8 115.7h1.9v1.6h-1.9zM403.2 120.8h1.9v1.6h-1.9zM416.6 96.5h1.9v1.6h-1.9zM407.1 107.4h1.9v1.6h-1.9zM387.7 118.2h1.9v1.6h-1.9zM416.6 122.5h1.9v1.6h-1.9zM439.4 121.8h1.9v1.6h-1.9zM431.4 99.4h1.9v1.6h-1.9zM401.9 106.8h1.9v1.6h-1.9zM424.2 93.1h1.9v1.6h-1.9zM438.8 101.3h1.9v1.6h-1.9zM409.6 128.1h1.9v1.6h-1.9zM421.2 104.7h1.9v1.6h-1.9zM466.8 111.5h1.9v1.6h-1.9zM406.8 128.6h1.9v1.6h-1.9zM392.7 104.0h1.9v1.6h-1.9zM462.2 112.4h1.9v1.6h-1.9zM457.8 113.6h1.9v1.6h-1.9zM426.8 128.2h1.9v1.6h-1.9zM458.8 119.8h1.9v1.6h-1.9zM397.3 112.6h1.9v1.6h-1.9zM440.6 118.2h1.9v1.6h-1.9zM433.7 111.2h1.9v1.6h-1.9zM420.1 116.6h1.9v1.6h-1.9zM467.0 112.7h1.9v1.6h-1.9zM412.0 100.3h1.9v1.6h-1.9zM401.1 102.5h1.9v1.6h-1.9zM393.4 109.2h1.9v1.6h-1.9zM439.7 125.6h1.9v1.6h-1.9zM408.5 126.9h1.9v1.6h-1.9zM406.7 105.1h1.9v1.6h-1.9zM427.2 97.7h1.9v1.6h-1.9zM431.1 100.1h1.9v1.6h-1.9zM419.4 132.1h1.9v1.6h-1.9zM433.4 101.5h1.9v1.6h-1.9zM426.2 109.4h1.9v1.6h-1.9zM446.2 115.4h1.9v1.6h-1.9zM402.3 120.6h1.9v1.6h-1.9zM437.9 119.1h1.9v1.6h-1.9zM451.8 119.9h1.9v1.6h-1.9zM400.2 120.1h1.9v1.6h-1.9zM460.9 122.6h1.9v1.6h-1.9zM412.3 130.5h1.9v1.6h-1.9zM391.6 126.3h1.9v1.6h-1.9zM428.9 95.1h1.9v1.6h-1.9zM411.0 112.7h1.9v1.6h-1.9zM451.3 107.7h1.9v1.6h-1.9zM414.7 123.2h1.9v1.6h-1.9zM422.4 117.9h1.9v1.6h-1.9zM396.2 120.7h1.9v1.6h-1.9zM432.8 116.1h1.9v1.6h-1.9zM435.0 124.8h1.9v1.6h-1.9zM449.4 118.0h1.9v1.6h-1.9zM421.2 96.7h1.9v1.6h-1.9zM457.2 121.8h1.9v1.6h-1.9zM423.3 92.0h1.9v1.6h-1.9zM423.8 106.8h1.9v1.6h-1.9zM434.5 112.5h1.9v1.6h-1.9zM407.6 102.3h1.9v1.6h-1.9zM443.1 105.8h1.9v1.6h-1.9zM396.0 102.3h1.9v1.6h-1.9zM448.1 129.9h1.9v1.6h-1.9zM433.9 126.8h1.9v1.6h-1.9zM409.8 125.1h1.9v1.6h-1.9zM460.4 120.7h1.9v1.6h-1.9zM407.2 98.6h1.9v1.6h-1.9zM408.1 114.6h1.9v1.6h-1.9zM429.1 125.5h1.9v1.6h-1.9zM455.9 128.4h1.9v1.6h-1.9zM463.9 135.1h1.9v1.6h-1.9zM444.7 101.6h1.9v1.6h-1.9zM416.4 104.2h1.9v1.6h-1.9zM400.5 99.1h1.9v1.6h-1.9zM403.3 126.2h1.9v1.6h-1.9zM403.3 107.4h1.9v1.6h-1.9zM408.7 129.5h1.9v1.6h-1.9zM437.2 112.6h1.9v1.6h-1.9zM427.1 114.7h1.9v1.6h-1.9zM439.7 114.4h1.9v1.6h-1.9zM406.4 103.2h1.9v1.6h-1.9zM389.3 114.6h1.9v1.6h-1.9zM432.5 104.3h1.9v1.6h-1.9zM465.9 116.1h1.9v1.6h-1.9zM420.5 130.6h1.9v1.6h-1.9zM457.9 120.6h1.9v1.6h-1.9zM425.0 108.6h1.9v1.6h-1.9zM445.9 118.0h1.9v1.6h-1.9zM442.8 118.8h1.9v1.6h-1.9zM426.5 105.1h1.9v1.6h-1.9zM431.1 95.3h1.9v1.6h-1.9zM393.7 118.1h1.9v1.6h-1.9zM411.2 115.1h1.9v1.6h-1.9zM450.7 121.1h1.9v1.6h-1.9zM464.3 128.6h1.9v1.6h-1.9zM471.1 127.5h1.9v1.6h-1.9zM415.2 124.3h1.9v1.6h-1.9zM417.6 105.7h1.9v1.6h-1.9zM402.4 130.7h1.9v1.6h-1.9zM399.6 121.3h1.9v1.6h-1.9zM447.9 130.0h1.9v1.6h-1.9zM457.7 130.2h1.9v1.6h-1.9zM444.0 112.3h1.9v1.6h-1.9zM447.8 113.4h1.9v1.6h-1.9zM442.5 116.4h1.9v1.6h-1.9zM458.1 122.6h1.9v1.6h-1.9zM439.3 125.2h1.9v1.6h-1.9zM422.3 93.7h1.9v1.6h-1.9zM385.1 124.4h1.9v1.6h-1.9zM407.7 126.6h1.9v1.6h-1.9zM395.3 114.8h1.9v1.6h-1.9zM455.5 130.2h1.9v1.6h-1.9zM442.2 110.6h1.9v1.6h-1.9zM433.4 101.4h1.9v1.6h-1.9zM411.4 115.2h1.9v1.6h-1.9zM408.8 130.6h1.9v1.6h-1.9zM452.6 125.7h1.9v1.6h-1.9zM399.7 115.3h1.9v1.6h-1.9zM417.6 119.8h1.9v1.6h-1.9zM412.4 95.9h1.9v1.6h-1.9zM421.0 133.0h1.9v1.6h-1.9zM402.8 99.6h1.9v1.6h-1.9zM438.2 128.8h1.9v1.6h-1.9zM432.4 94.5h1.9v1.6h-1.9zM391.8 116.1h1.9v1.6h-1.9zM431.1 98.7h1.9v1.6h-1.9zM445.4 117.2h1.9v1.6h-1.9zM401.5 110.2h1.9v1.6h-1.9zM424.8 106.3h1.9v1.6h-1.9zM414.5 105.6h1.9v1.6h-1.9zM389.3 121.5h1.9v1.6h-1.9zM390.4 118.9h1.9v1.6h-1.9zM462.4 128.7h1.9v1.6h-1.9zM436.5 124.0h1.9v1.6h-1.9zM456.6 131.0h1.9v1.6h-1.9zM423.4 116.9h1.9v1.6h-1.9zM403.4 101.3h1.9v1.6h-1.9zM454.1 110.7h1.9v1.6h-1.9zM408.6 112.0h1.9v1.6h-1.9zM402.1 119.6h1.9v1.6h-1.9zM435.2 123.0h1.9v1.6h-1.9zM427.3 111.8h1.9v1.6h-1.9zM435.8 111.0h1.9v1.6h-1.9zM427.5 100.1h1.9v1.6h-1.9zM440.9 107.1h1.9v1.6h-1.9zM451.5 128.3h1.9v1.6h-1.9zM393.0 121.6h1.9v1.6h-1.9zM423.6 101.4h1.9v1.6h-1.9zM450.1 127.6h1.9v1.6h-1.9zM453.1 109.3h1.9v1.6h-1.9zM418.0 99.9h1.9v1.6h-1.9zM414.6 129.8h1.9v1.6h-1.9zM412.5 113.6h1.9v1.6h-1.9zM414.9 103.4h1.9v1.6h-1.9zM405.0 114.0h1.9v1.6h-1.9zM464.3 108.6h1.9v1.6h-1.9zM413.0 115.0h1.9v1.6h-1.9zM429.2 127.3h1.9v1.6h-1.9zM385.1 121.8h1.9v1.6h-1.9zM404.5 129.2h1.9v1.6h-1.9zM407.8 129.2h1.9v1.6h-1.9zM428.9 106.2h1.9v1.6h-1.9zM427.1 93.6h1.9v1.6h-1.9zM408.1 107.8h1.9v1.6h-1.9zM433.0 101.9h1.9v1.6h-1.9zM462.3 125.9h1.9v1.6h-1.9zM414.0 129.1h1.9v1.6h-1.9zM456.1 114.7h1.9v1.6h-1.9zM417.0 122.7h1.9v1.6h-1.9zM406.8 121.4h1.9v1.6h-1.9zM424.9 110.1h1.9v1.6h-1.9zM411.3 105.8h1.9v1.6h-1.9zM420.2 116.3h1.9v1.6h-1.9zM406.2 107.8h1.9v1.6h-1.9zM450.2 114.4h1.9v1.6h-1.9zM465.1 126.8h1.9v1.6h-1.9zM437.8 114.1h1.9v1.6h-1.9zM462.1 125.4h1.9v1.6h-1.9zM410.0 124.5h1.9v1.6h-1.9zM434.6 120.5h1.9v1.6h-1.9zM404.8 129.4h1.9v1.6h-1.9zM446.5 128.5h1.9v1.6h-1.9zM429.9 129.4h1.9v1.6h-1.9zM438.7 129.6h1.9v1.6h-1.9zM400.2 110.9h1.9v1.6h-1.9zM442.4 117.5h1.9v1.6h-1.9zM415.1 98.7h1.9v1.6h-1.9zM431.2 105.3h1.9v1.6h-1.9zM388.2 128.0h1.9v1.6h-1.9zM403.6 116.2h1.9v1.6h-1.9zM432.4 109.1h1.9v1.6h-1.9zM388.9 121.1h1.9v1.6h-1.9zM412.4 115.2h1.9v1.6h-1.9zM414.8 113.0h1.9v1.6h-1.9zM454.4 118.1h1.9v1.6h-1.9zM402.5 103.4h1.9v1.6h-1.9zM457.5 130.2h1.9v1.6h-1.9zM448.3 120.5h1.9v1.6h-1.9zM456.2 109.3h1.9v1.6h-1.9zM441.2 121.6h1.9v1.6h-1.9zM418.5 105.3h1.9v1.6h-1.9zM435.5 107.9h1.9v1.6h-1.9zM468.9 115.1h1.9v1.6h-1.9zM413.8 120.5h1.9v1.6h-1.9zM446.4 122.9h1.9v1.6h-1.9zM417.2 119.4h1.9v1.6h-1.9zM444.4 124.8h1.9v1.6h-1.9zM453.7 106.8h1.9v1.6h-1.9zM417.5 129.8h1.9v1.6h-1.9zM396.5 123.6h1.9v1.6h-1.9zM403.9 105.6h1.9v1.6h-1.9zM415.5 113.6h1.9v1.6h-1.9zM431.2 116.4h1.9v1.6h-1.9zM419.7 113.8h1.9v1.6h-1.9zM423.2 112.6h1.9v1.6h-1.9zM430.6 116.4h1.9v1.6h-1.9zM414.3 107.3h1.9v1.6h-1.9zM429.1 110.1h1.9v1.6h-1.9zM419.8 105.1h1.9v1.6h-1.9zM421.1 107.5h1.9v1.6h-1.9zM423.6 119.8h1.9v1.6h-1.9zM424.3 121.2h1.9v1.6h-1.9zM431.7 114.7h1.9v1.6h-1.9zM426.4 117.1h1.9v1.6h-1.9zM423.7 111.8h1.9v1.6h-1.9zM401.9 104.5h1.9v1.6h-1.9zM406.2 111.8h1.9v1.6h-1.9zM407.2 103.6h1.9v1.6h-1.9zM409.7 106.7h1.9v1.6h-1.9zM421.6 108.8h1.9v1.6h-1.9zM420.6 116.7h1.9v1.6h-1.9zM428.0 111.0h1.9v1.6h-1.9zM409.8 101.2h1.9v1.6h-1.9zM422.5 103.0h1.9v1.6h-1.9zM414.2 121.3h1.9v1.6h-1.9zM408.9 110.1h1.9v1.6h-1.9zM401.8 110.4h1.9v1.6h-1.9zM409.3 103.1h1.9v1.6h-1.9zM403.5 110.8h1.9v1.6h-1.9zM422.0 123.0h1.9v1.6h-1.9zM414.1 113.1h1.9v1.6h-1.9zM414.7 119.5h1.9v1.6h-1.9zM423.8 114.8h1.9v1.6h-1.9zM401.6 108.7h1.9v1.6h-1.9zM414.0 104.0h1.9v1.6h-1.9zM415.4 102.2h1.9v1.6h-1.9zM403.8 106.4h1.9v1.6h-1.9zM418.4 112.2h1.9v1.6h-1.9zM410.5 110.6h1.9v1.6h-1.9zM417.2 106.3h1.9v1.6h-1.9zM402.6 115.9h1.9v1.6h-1.9zM420.6 98.0h1.9v1.6h-1.9zM418.5 120.5h1.9v1.6h-1.9zM435.0 108.6h1.9v1.6h-1.9zM407.9 103.8h1.9v1.6h-1.9zM411.1 99.7h1.9v1.6h-1.9zM412.3 101.9h1.9v1.6h-1.9zM408.8 100.4h1.9v1.6h-1.9zM414.2 98.3h1.9v1.6h-1.9zM420.7 118.5h1.9v1.6h-1.9zM402.0 109.4h1.9v1.6h-1.9zM415.6 115.9h1.9v1.6h-1.9zM406.7 112.1h1.9v1.6h-1.9zM405.5 104.4h1.9v1.6h-1.9zM430.0 109.4h1.9v1.6h-1.9zM408.9 104.2h1.9v1.6h-1.9zM432.7 113.8h1.9v1.6h-1.9zM407.1 112.3h1.9v1.6h-1.9zM415.3 114.4h1.9v1.6h-1.9zM414.7 98.5h1.9v1.6h-1.9zM427.4 117.9h1.9v1.6h-1.9zM416.8 101.1h1.9v1.6h-1.9zM403.9 111.7h1.9v1.6h-1.9zM421.5 116.4h1.9v1.6h-1.9zM404.3 116.9h1.9v1.6h-1.9zM415.1 108.1h1.9v1.6h-1.9zM411.0 100.4h1.9v1.6h-1.9zM417.1 115.0h1.9v1.6h-1.9zM411.3 103.8h1.9v1.6h-1.9zM417.5 106.3h1.9v1.6h-1.9zM412.4 112.9h1.9v1.6h-1.9zM428.6 120.2h1.9v1.6h-1.9zM414.8 114.4h1.9v1.6h-1.9zM428.9 118.8h1.9v1.6h-1.9zM408.0 103.7h1.9v1.6h-1.9zM411.4 123.4h1.9v1.6h-1.9zM416.6 113.8h1.9v1.6h-1.9zM422.4 120.3h1.9v1.6h-1.9zM398.2 113.0h1.9v1.6h-1.9zM424.8 119.9h1.9v1.6h-1.9zM426.4 107.6h1.9v1.6h-1.9zM453.5 119.1h1.9v1.6h-1.9zM454.9 120.9h1.9v1.6h-1.9zM446.5 113.7h1.9v1.6h-1.9zM451.6 123.4h1.9v1.6h-1.9zM445.4 116.2h1.9v1.6h-1.9zM442.8 113.2h1.9v1.6h-1.9zM456.6 118.2h1.9v1.6h-1.9zM444.2 119.4h1.9v1.6h-1.9zM450.4 118.2h1.9v1.6h-1.9zM460.5 114.4h1.9v1.6h-1.9zM443.4 117.5h1.9v1.6h-1.9zM446.4 125.6h1.9v1.6h-1.9zM456.0 116.6h1.9v1.6h-1.9zM445.1 115.3h1.9v1.6h-1.9zM444.0 115.2h1.9v1.6h-1.9zM454.1 117.8h1.9v1.6h-1.9zM455.0 111.8h1.9v1.6h-1.9zM404.7 102.0h1.9v1.6h-1.9zM459.7 93.8h1.9v1.6h-1.9zM492.2 74.5h1.9v1.6h-1.9zM362.3 96.4h1.9v1.6h-1.9zM348.7 89.9h1.9v1.6h-1.9zM390.3 73.4h1.9v1.6h-1.9zM465.1 69.6h1.9v1.6h-1.9zM409.2 63.1h1.9v1.6h-1.9zM498.0 80.3h1.9v1.6h-1.9zM437.6 113.4h1.9v1.6h-1.9zM363.4 59.4h1.9v1.6h-1.9zM474.6 64.4h1.9v1.6h-1.9zM445.5 113.2h1.9v1.6h-1.9zM344.4 65.9h1.9v1.6h-1.9zM444.9 115.5h1.9v1.6h-1.9zM464.8 73.5h1.9v1.6h-1.9zM416.1 53.4h1.9v1.6h-1.9zM409.6 87.6h1.9v1.6h-1.9zM428.5 107.3h1.9v1.6h-1.9zM422.9 50.7h1.9v1.6h-1.9zM382.0 103.5h1.9v1.6h-1.9zM431.6 106.9h1.9v1.6h-1.9zM372.3 106.5h1.9v1.6h-1.9zM369.8 106.6h1.9v1.6h-1.9zM418.9 70.9h1.9v1.6h-1.9zM410.5 120.2h1.9v1.6h-1.9zM427.9 73.2h1.9v1.6h-1.9zM382.4 80.4h1.9v1.6h-1.9zM385.0 110.5h1.9v1.6h-1.9zM436.2 68.8h1.9v1.6h-1.9zM438.3 92.3h1.9v1.6h-1.9zM450.5 87.9h1.9v1.6h-1.9zM402.2 53.8h1.9v1.6h-1.9zM465.1 46.4h1.9v1.6h-1.9zM377.7 63.0h1.9v1.6h-1.9zM435.3 60.4h1.9v1.6h-1.9zM402.9 80.2h1.9v1.6h-1.9zM482.4 83.3h1.9v1.6h-1.9zM392.4 74.5h1.9v1.6h-1.9zM416.5 95.4h1.9v1.6h-1.9zM444.1 77.7h1.9v1.6h-1.9zM462.9 99.3h1.9v1.6h-1.9zM368.3 64.5h1.9v1.6h-1.9zM423.9 72.7h1.9v1.6h-1.9zM469.7 104.1h1.9v1.6h-1.9zM392.7 92.1h1.9v1.6h-1.9zM456.2 44.9h1.9v1.6h-1.9zM445.8 82.5h1.9v1.6h-1.9zM433.2 116.9h1.9v1.6h-1.9zM423.5 50.7h1.9v1.6h-1.9zM403.3 101.6h1.9v1.6h-1.9zM406.4 112.6h1.9v1.6h-1.9zM378.2 110.7h1.9v1.6h-1.9zM445.4 57.5h1.9v1.6h-1.9zM350.2 88.4h1.9v1.6h-1.9zM474.4 113.7h1.9v1.6h-1.9zM438.0 41.1h1.9v1.6h-1.9zM432.7 58.7h1.9v1.6h-1.9zM355.8 71.3h1.9v1.6h-1.9zM373.1 106.3h1.9v1.6h-1.9zM373.2 107.0h1.9v1.6h-1.9zM339.1 84.5h1.9v1.6h-1.9zM449.5 94.7h1.9v1.6h-1.9zM389.6 50.5h1.9v1.6h-1.9zM404.9 105.3h1.9v1.6h-1.9zM459.0 82.1h1.9v1.6h-1.9zM456.2 48.4h1.9v1.6h-1.9zM478.6 95.9h1.9v1.6h-1.9zM393.4 44.3h1.9v1.6h-1.9zM414.5 104.3h1.9v1.6h-1.9zM425.3 43.1h1.9v1.6h-1.9zM428.1 100.6h1.9v1.6h-1.9zM408.8 118.8h1.9v1.6h-1.9zM413.8 122.2h1.9v1.6h-1.9zM462.8 110.9h1.9v1.6h-1.9zM433.6 73.6h1.9v1.6h-1.9zM414.0 109.7h1.9v1.6h-1.9zM446.4 73.2h1.9v1.6h-1.9zM373.3 112.5h1.9v1.6h-1.9zM414.4 110.8h1.9v1.6h-1.9zM359.2 74.0h1.9v1.6h-1.9zM463.9 65.9h1.9v1.6h-1.9zM374.5 64.8h1.9v1.6h-1.9zM436.3 99.5h1.9v1.6h-1.9zM439.6 39.1h1.9v1.6h-1.9zM352.3 98.1h1.9v1.6h-1.9zM426.6 79.7h1.9v1.6h-1.9zM476.6 61.6h1.9v1.6h-1.9zM450.9 50.1h1.9v1.6h-1.9zM481.2 94.3h1.9v1.6h-1.9zM491.7 77.5h1.9v1.6h-1.9zM419.4 102.2h1.9v1.6h-1.9zM453.8 95.3h1.9v1.6h-1.9zM402.5 117.7h1.9v1.6h-1.9zM417.8 80.8h1.9v1.6h-1.9zM397.6 59.7h1.9v1.6h-1.9zM415.9 119.0h1.9v1.6h-1.9zM388.9 49.4h1.9v1.6h-1.9zM360.1 96.5h1.9v1.6h-1.9zM466.4 109.5h1.9v1.6h-1.9zM361.0 69.9h1.9v1.6h-1.9zM468.3 103.6h1.9v1.6h-1.9zM431.9 43.0h1.9v1.6h-1.9zM471.0 86.1h1.9v1.6h-1.9zM442.4 102.9h1.9v1.6h-1.9zM449.2 72.8h1.9v1.6h-1.9zM458.5 86.4h1.9v1.6h-1.9zM356.8 73.9h1.9v1.6h-1.9zM478.4 55.1h1.9v1.6h-1.9zM495.0 73.7h1.9v1.6h-1.9zM356.6 54.0h1.9v1.6h-1.9zM490.7 82.6h1.9v1.6h-1.9zM467.2 69.5h1.9v1.6h-1.9zM365.2 49.3h1.9v1.6h-1.9zM376.1 60.7h1.9v1.6h-1.9zM452.4 46.9h1.9v1.6h-1.9zM379.2 112.9h1.9v1.6h-1.9zM480.4 61.5h1.9v1.6h-1.9zM391.2 112.3h1.9v1.6h-1.9zM402.1 120.5h1.9v1.6h-1.9zM379.4 67.9h1.9v1.6h-1.9zM454.2 67.4h1.9v1.6h-1.9zM427.6 42.4h1.9v1.6h-1.9zM366.5 111.4h1.9v1.6h-1.9zM387.4 107.9h1.9v1.6h-1.9zM430.2 63.7h1.9v1.6h-1.9zM467.3 70.3h1.9v1.6h-1.9zM432.9 68.4h1.9v1.6h-1.9zM449.9 104.4h1.9v1.6h-1.9zM403.5 94.8h1.9v1.6h-1.9zM462.3 51.1h1.9v1.6h-1.9zM367.1 77.4h1.9v1.6h-1.9zM429.9 114.1h1.9v1.6h-1.9zM494.4 69.6h1.9v1.6h-1.9zM365.6 85.6h1.9v1.6h-1.9zM457.0 92.2h1.9v1.6h-1.9zM467.3 100.7h1.9v1.6h-1.9zM426.7 43.0h1.9v1.6h-1.9zM388.6 47.5h1.9v1.6h-1.9zM367.9 67.0h1.9v1.6h-1.9zM413.6 98.1h1.9v1.6h-1.9zM353.2 71.0h1.9v1.6h-1.9zM383.4 73.0h1.9v1.6h-1.9zM443.7 98.6h1.9v1.6h-1.9zM451.2 88.2h1.9v1.6h-1.9zM406.0 94.1h1.9v1.6h-1.9zM384.1 98.1h1.9v1.6h-1.9zM445.1 113.5h1.9v1.6h-1.9zM447.3 89.0h1.9v1.6h-1.9zM488.0 96.7h1.9v1.6h-1.9zM383.9 112.8h1.9v1.6h-1.9zM436.8 105.7h1.9v1.6h-1.9zM407.1 69.8h1.9v1.6h-1.9zM425.6 86.6h1.9v1.6h-1.9zM413.3 46.8h1.9v1.6h-1.9zM446.0 74.5h1.9v1.6h-1.9zM403.4 115.6h1.9v1.6h-1.9zM425.2 36.8h1.9v1.6h-1.9zM416.3 54.8h1.9v1.6h-1.9zM428.7 97.2h1.9v1.6h-1.9zM473.3 101.9h1.9v1.6h-1.9zM390.2 61.2h1.9v1.6h-1.9zM442.1 42.9h1.9v1.6h-1.9zM371.2 61.3h1.9v1.6h-1.9zM372.2 46.6h1.9v1.6h-1.9zM402.8 115.3h1.9v1.6h-1.9zM379.1 65.3h1.9v1.6h-1.9zM378.1 74.1h1.9v1.6h-1.9zM348.0 74.9h1.9v1.6h-1.9zM375.2 102.0h1.9v1.6h-1.9zM352.6 57.5h1.9v1.6h-1.9zM370.4 49.8h1.9v1.6h-1.9zM427.6 70.0h1.9v1.6h-1.9zM445.1 50.3h1.9v1.6h-1.9zM398.0 50.9h1.9v1.6h-1.9zM453.8 49.5h1.9v1.6h-1.9zM381.2 69.6h1.9v1.6h-1.9zM377.5 88.0h1.9v1.6h-1.9zM396.7 97.1h1.9v1.6h-1.9zM472.1 79.4h1.9v1.6h-1.9zM440.2 51.3h1.9v1.6h-1.9zM439.5 106.8h1.9v1.6h-1.9zM439.0 79.5h1.9v1.6h-1.9zM462.3 70.0h1.9v1.6h-1.9zM458.4 97.8h1.9v1.6h-1.9zM368.6 111.9h1.9v1.6h-1.9zM444.7 71.2h1.9v1.6h-1.9zM464.2 87.6h1.9v1.6h-1.9zM466.1 44.7h1.9v1.6h-1.9zM396.4 76.3h1.9v1.6h-1.9zM434.6 73.0h1.9v1.6h-1.9zM384.6 48.7h1.9v1.6h-1.9zM417.0 48.3h1.9v1.6h-1.9zM381.0 90.4h1.9v1.6h-1.9zM384.5 68.1h1.9v1.6h-1.9zM407.3 85.6h1.9v1.6h-1.9zM371.7 74.8h1.9v1.6h-1.9zM379.5 75.7h1.9v1.6h-1.9zM487.0 73.2h1.9v1.6h-1.9zM453.3 96.8h1.9v1.6h-1.9zM410.6 63.8h1.9v1.6h-1.9zM330.7 53.9h1.9v1.6h-1.9zM420.1 129.0h1.9v1.6h-1.9zM490.5 29.1h1.9v1.6h-1.9zM433.4 97.7h1.9v1.6h-1.9zM409.7 133.0h1.9v1.6h-1.9zM471.1 89.4h1.9v1.6h-1.9zM428.0 124.1h1.9v1.6h-1.9zM425.8 31.5h1.9v1.6h-1.9zM455.3 102.8h1.9v1.6h-1.9zM394.3 51.6h1.9v1.6h-1.9zM476.6 132.8h1.9v1.6h-1.9zM338.4 119.9h1.9v1.6h-1.9zM443.6 44.9h1.9v1.6h-1.9zM329.3 75.5h1.9v1.6h-1.9zM417.9 58.2h1.9v1.6h-1.9zM477.6 117.7h1.9v1.6h-1.9zM330.8 99.5h1.9v1.6h-1.9zM396.5 57.9h1.9v1.6h-1.9zM365.0 102.7h1.9v1.6h-1.9zM378.2 42.3h1.9v1.6h-1.9zM453.3 32.6h1.9v1.6h-1.9zM361.8 102.2h1.9v1.6h-1.9zM396.2 68.7h1.9v1.6h-1.9zM346.2 131.9h1.9v1.6h-1.9zM377.1 88.1h1.9v1.6h-1.9zM374.4 92.6h1.9v1.6h-1.9zM460.8 114.8h1.9v1.6h-1.9zM346.1 119.0h1.9v1.6h-1.9zM489.5 117.8h1.9v1.6h-1.9zM356.2 43.9h1.9v1.6h-1.9zM490.8 49.6h1.9v1.6h-1.9zM489.3 100.3h1.9v1.6h-1.9zM445.4 47.2h1.9v1.6h-1.9zM474.2 54.5h1.9v1.6h-1.9zM387.8 67.2h1.9v1.6h-1.9zM455.5 92.1h1.9v1.6h-1.9zM494.9 85.0h1.9v1.6h-1.9zM477.7 75.3h1.9v1.6h-1.9zM356.2 58.1h1.9v1.6h-1.9zM454.1 144.1h1.9v1.6h-1.9zM356.1 56.0h1.9v1.6h-1.9zM414.9 58.5h1.9v1.6h-1.9zM362.9 46.3h1.9v1.6h-1.9zM362.7 126.5h1.9v1.6h-1.9zM444.9 123.8h1.9v1.6h-1.9zM471.4 106.8h1.9v1.6h-1.9zM495.4 50.5h1.9v1.6h-1.9zM429.4 110.3h1.9v1.6h-1.9zM352.3 110.0h1.9v1.6h-1.9zM497.0 36.7h1.9v1.6h-1.9zM352.0 102.7h1.9v1.6h-1.9zM385.4 74.4h1.9v1.6h-1.9zM504.2 99.6h1.9v1.6h-1.9zM469.3 95.6h1.9v1.6h-1.9zM358.1 56.9h1.9v1.6h-1.9zM426.7 75.8h1.9v1.6h-1.9zM330.5 118.2h1.9v1.6h-1.9zM468.8 99.0h1.9v1.6h-1.9zM428.8 88.0h1.9v1.6h-1.9zM364.7 138.2h1.9v1.6h-1.9zM501.2 25.4h1.9v1.6h-1.9zM385.3 25.7h1.9v1.6h-1.9zM412.1 25.1h1.9v1.6h-1.9zM462.0 25.3h1.9v1.6h-1.9zM427.0 26.2h1.9v1.6h-1.9zM495.4 25.1h1.9v1.6h-1.9zM402.0 25.7h1.9v1.6h-1.9zM440.3 26.0h1.9v1.6h-1.9zM452.6 25.4h1.9v1.6h-1.9zM448.1 25.9h1.9v1.6h-1.9zM447.0 25.6h1.9v1.6h-1.9zM419.4 26.1h1.9v1.6h-1.9zM340.0 26.2h1.9v1.6h-1.9zM437.7 26.1h1.9v1.6h-1.9zM442.1 26.1h1.9v1.6h-1.9zM493.6 25.6h1.9v1.6h-1.9zM486.5 26.3h1.9v1.6h-1.9zM379.1 25.1h1.9v1.6h-1.9zM382.4 25.7h1.9v1.6h-1.9zM395.4 26.0h1.9v1.6h-1.9zM462.2 25.1h1.9v1.6h-1.9zM365.3 25.9h1.9v1.6h-1.9zM468.0 25.4h1.9v1.6h-1.9zM345.8 26.3h1.9v1.6h-1.9zM378.7 25.5h1.9v1.6h-1.9zM489.1 25.6h1.9v1.6h-1.9zM373.8 25.4h1.9v1.6h-1.9zM498.3 26.3h1.9v1.6h-1.9zM425.3 25.5h1.9v1.6h-1.9zM427.1 26.3h1.9v1.6h-1.9zM406.9 25.9h1.9v1.6h-1.9zM329.6 25.7h1.9v1.6h-1.9zM386.5 26.1h1.9v1.6h-1.9zM483.4 25.8h1.9v1.6h-1.9zM485.9 25.2h1.9v1.6h-1.9zM369.9 25.3h1.9v1.6h-1.9zM379.8 25.2h1.9v1.6h-1.9zM427.9 26.2h1.9v1.6h-1.9zM479.9 25.9h1.9v1.6h-1.9zM495.5 25.4h1.9v1.6h-1.9zM496.5 25.4h1.9v1.6h-1.9zM473.8 25.6h1.9v1.6h-1.9zM467.3 25.4h1.9v1.6h-1.9zM342.2 26.2h1.9v1.6h-1.9zM377.9 25.4h1.9v1.6h-1.9zM505.5 43.3h1.9v1.6h-1.9zM505.9 53.3h1.9v1.6h-1.9zM505.9 79.3h1.9v1.6h-1.9zM505.4 118.8h1.9v1.6h-1.9zM506.0 38.3h1.9v1.6h-1.9zM506.4 54.4h1.9v1.6h-1.9zM505.6 91.9h1.9v1.6h-1.9zM506.2 124.7h1.9v1.6h-1.9zM506.1 134.8h1.9v1.6h-1.9zM506.0 78.1h1.9v1.6h-1.9zM505.4 50.8h1.9v1.6h-1.9zM506.1 97.8h1.9v1.6h-1.9zM505.8 90.9h1.9v1.6h-1.9zM505.7 116.3h1.9v1.6h-1.9zM506.3 116.1h1.9v1.6h-1.9zM506.3 87.5h1.9v1.6h-1.9zM505.6 121.1h1.9v1.6h-1.9zM505.6 87.5h1.9v1.6h-1.9zM505.6 111.9h1.9v1.6h-1.9zM505.6 132.3h1.9v1.6h-1.9zM506.4 124.0h1.9v1.6h-1.9zM506.0 89.3h1.9v1.6h-1.9zM506.0 110.3h1.9v1.6h-1.9zM506.4 125.6h1.9v1.6h-1.9zM505.6 63.0h1.9v1.6h-1.9zM505.7 73.2h1.9v1.6h-1.9zM506.1 66.3h1.9v1.6h-1.9zM505.6 62.5h1.9v1.6h-1.9zM505.5 99.0h1.9v1.6h-1.9zM505.4 132.5h1.9v1.6h-1.9zM505.6 82.4h1.9v1.6h-1.9zM505.7 137.0h1.9v1.6h-1.9zM505.8 130.3h1.9v1.6h-1.9zM506.0 47.1h1.9v1.6h-1.9zM505.3 103.3h1.9v1.6h-1.9zM505.3 76.1h1.9v1.6h-1.9zM505.4 30.0h1.9v1.6h-1.9zM506.1 68.1h1.9v1.6h-1.9zM505.9 138.0h1.9v1.6h-1.9zM505.9 127.7h1.9v1.6h-1.9zM506.4 62.8h1.9v1.6h-1.9zM505.7 88.3h1.9v1.6h-1.9zM506.0 125.7h1.9v1.6h-1.9zM506.0 124.6h1.9v1.6h-1.9zM506.0 70.7h1.9v1.6h-1.9zM505.3 90.7h1.9v1.6h-1.9zM506.0 112.8h1.9v1.6h-1.9zM505.3 125.7h1.9v1.6h-1.9zM506.1 107.7h1.9v1.6h-1.9zM505.8 90.7h1.9v1.6h-1.9zM506.1 121.5h1.9v1.6h-1.9zM506.4 107.6h1.9v1.6h-1.9zM506.2 99.0h1.9v1.6h-1.9zM505.4 59.5h1.9v1.6h-1.9zM505.6 29.8h1.9v1.6h-1.9zM505.5 58.6h1.9v1.6h-1.9zM506.0 27.8h1.9v1.6h-1.9zM505.5 55.1h1.9v1.6h-1.9zM506.0 114.6h1.9v1.6h-1.9zM506.3 59.7h1.9v1.6h-1.9zM465.5 56.6h1.9v1.6h-1.9zM493.3 98.0h1.9v1.6h-1.9zM480.3 59.6h1.9v1.6h-1.9zM454.7 28.5h1.9v1.6h-1.9zM477.5 94.9h1.9v1.6h-1.9zM456.0 32.2h1.9v1.6h-1.9zM462.5 48.3h1.9v1.6h-1.9zM437.1 69.4h1.9v1.6h-1.9zM432.6 45.8h1.9v1.6h-1.9zM490.6 86.8h1.9v1.6h-1.9zM483.7 82.3h1.9v1.6h-1.9zM460.1 64.8h1.9v1.6h-1.9zM458.3 71.1h1.9v1.6h-1.9zM481.6 78.8h1.9v1.6h-1.9zM478.0 54.6h1.9v1.6h-1.9zM502.6 36.7h1.9v1.6h-1.9zM483.0 78.2h1.9v1.6h-1.9zM440.5 69.9h1.9v1.6h-1.9zM470.9 69.9h1.9v1.6h-1.9zM497.2 54.3h1.9v1.6h-1.9zM436.9 31.5h1.9v1.6h-1.9zM478.7 94.6h1.9v1.6h-1.9zM478.5 30.5h1.9v1.6h-1.9zM504.2 78.2h1.9v1.6h-1.9zM441.7 76.8h1.9v1.6h-1.9zM480.6 45.7h1.9v1.6h-1.9zM459.1 33.9h1.9v1.6h-1.9zM502.8 85.5h1.9v1.6h-1.9zM492.3 93.1h1.9v1.6h-1.9zM445.7 37.2h1.9v1.6h-1.9zM463.2 56.2h1.9v1.6h-1.9zM477.4 65.9h1.9v1.6h-1.9zM437.0 64.7h1.9v1.6h-1.9zM502.7 47.5h1.9v1.6h-1.9zM496.8 35.5h1.9v1.6h-1.9zM460.9 58.4h1.9v1.6h-1.9zM474.5 44.5h1.9v1.6h-1.9zM460.1 65.9h1.9v1.6h-1.9zM458.6 75.1h1.9v1.6h-1.9zM448.1 56.2h1.9v1.6h-1.9zM452.2 82.6h1.9v1.6h-1.9zM451.3 56.0h1.9v1.6h-1.9zM499.0 56.3h1.9v1.6h-1.9zM475.7 82.3h1.9v1.6h-1.9zM443.7 53.3h1.9v1.6h-1.9zM486.3 69.2h1.9v1.6h-1.9zM485.4 40.1h1.9v1.6h-1.9zM502.5 41.5h1.9v1.6h-1.9zM458.4 69.9h1.9v1.6h-1.9zM447.8 85.9h1.9v1.6h-1.9zM491.1 48.5h1.9v1.6h-1.9zM474.5 94.1h1.9v1.6h-1.9zM499.0 37.5h1.9v1.6h-1.9zM468.8 50.6h1.9v1.6h-1.9zM472.4 36.3h1.9v1.6h-1.9zM494.3 41.3h1.9v1.6h-1.9zM469.8 58.5h1.9v1.6h-1.9zM440.7 41.2h1.9v1.6h-1.9zM67.0 342.7h1.9v1.6h-1.9zM94.4 322.8h1.9v1.6h-1.9zM78.5 335.0h1.9v1.6h-1.9zM82.1 332.9h1.9v1.6h-1.9zM79.1 327.8h1.9v1.6h-1.9zM87.2 323.2h1.9v1.6h-1.9zM74.5 319.6h1.9v1.6h-1.9zM87.5 334.6h1.9v1.6h-1.9zM68.4 337.8h1.9v1.6h-1.9zM93.7 329.7h1.9v1.6h-1.9zM91.7 330.2h1.9v1.6h-1.9zM65.9 338.9h1.9v1.6h-1.9zM71.2 334.3h1.9v1.6h-1.9zM74.8 332.7h1.9v1.6h-1.9zM85.1 322.6h1.9v1.6h-1.9zM74.0 327.7h1.9v1.6h-1.9zM66.6 340.2h1.9v1.6h-1.9zM83.0 318.7h1.9v1.6h-1.9zM78.7 325.5h1.9v1.6h-1.9zM79.4 333.0h1.9v1.6h-1.9zM75.4 326.7h1.9v1.6h-1.9zM80.7 321.6h1.9v1.6h-1.9zM80.5 333.5h1.9v1.6h-1.9zM69.4 339.4h1.9v1.6h-1.9zM75.1 337.4h1.9v1.6h-1.9zM91.0 317.1h1.9v1.6h-1.9zM74.6 332.7h1.9v1.6h-1.9zM75.5 326.0h1.9v1.6h-1.9zM66.3 332.5h1.9v1.6h-1.9zM94.5 317.6h1.9v1.6h-1.9zM92.3 321.4h1.9v1.6h-1.9zM88.3 336.2h1.9v1.6h-1.9zM86.8 334.7h1.9v1.6h-1.9zM82.9 335.2h1.9v1.6h-1.9zM93.7 325.4h1.9v1.6h-1.9zM83.0 326.6h1.9v1.6h-1.9zM89.5 319.0h1.9v1.6h-1.9zM81.6 319.6h1.9v1.6h-1.9zM91.7 329.4h1.9v1.6h-1.9zM89.9 321.0h1.9v1.6h-1.9zM79.5 330.4h1.9v1.6h-1.9zM67.9 327.4h1.9v1.6h-1.9zM66.0 334.0h1.9v1.6h-1.9zM88.4 317.6h1.9v1.6h-1.9zM67.4 328.5h1.9v1.6h-1.9zM93.8 322.4h1.9v1.6h-1.9zM91.3 320.2h1.9v1.6h-1.9zM90.1 332.7h1.9v1.6h-1.9zM84.3 321.9h1.9v1.6h-1.9zM81.0 337.3h1.9v1.6h-1.9zM93.4 330.7h1.9v1.6h-1.9zM73.3 331.7h1.9v1.6h-1.9zM84.2 327.1h1.9v1.6h-1.9zM89.7 319.8h1.9v1.6h-1.9zM72.3 322.5h1.9v1.6h-1.9zM86.8 325.2h1.9v1.6h-1.9zM93.7 323.3h1.9v1.6h-1.9zM76.8 320.9h1.9v1.6h-1.9zM73.3 333.8h1.9v1.6h-1.9zM74.5 340.3h1.9v1.6h-1.9zM77.2 329.8h1.9v1.6h-1.9zM72.5 335.6h1.9v1.6h-1.9zM93.2 327.3h1.9v1.6h-1.9zM64.2 327.6h1.9v1.6h-1.9zM76.9 329.8h1.9v1.6h-1.9zM72.1 322.8h1.9v1.6h-1.9zM78.0 337.1h1.9v1.6h-1.9zM76.7 338.3h1.9v1.6h-1.9zM80.3 318.5h1.9v1.6h-1.9zM74.6 327.1h1.9v1.6h-1.9zM66.4 328.6h1.9v1.6h-1.9zM83.7 329.5h1.9v1.6h-1.9zM71.6 329.9h1.9v1.6h-1.9zM85.4 329.2h1.9v1.6h-1.9zM75.6 323.9h1.9v1.6h-1.9zM68.2 323.5h1.9v1.6h-1.9zM76.5 321.5h1.9v1.6h-1.9zM80.4 338.8h1.9v1.6h-1.9zM82.1 322.1h1.9v1.6h-1.9zM86.4 333.0h1.9v1.6h-1.9zM74.8 338.4h1.9v1.6h-1.9zM93.4 326.4h1.9v1.6h-1.9zM88.1 331.0h1.9v1.6h-1.9zM92.1 319.1h1.9v1.6h-1.9zM71.6 341.1h1.9v1.6h-1.9zM85.3 326.8h1.9v1.6h-1.9zM74.3 323.9h1.9v1.6h-1.9zM67.7 324.5h1.9v1.6h-1.9zM68.4 335.2h1.9v1.6h-1.9zM90.6 333.0h1.9v1.6h-1.9zM77.2 336.0h1.9v1.6h-1.9zM72.0 331.0h1.9v1.6h-1.9zM81.2 328.7h1.9v1.6h-1.9zM83.6 321.3h1.9v1.6h-1.9zM90.7 319.5h1.9v1.6h-1.9zM74.6 322.0h1.9v1.6h-1.9zM81.6 322.2h1.9v1.6h-1.9zM85.7 324.3h1.9v1.6h-1.9zM78.2 326.9h1.9v1.6h-1.9zM80.4 322.9h1.9v1.6h-1.9zM80.5 329.9h1.9v1.6h-1.9zM91.4 326.8h1.9v1.6h-1.9zM81.7 323.5h1.9v1.6h-1.9zM78.1 332.5h1.9v1.6h-1.9zM71.0 337.9h1.9v1.6h-1.9zM87.4 334.5h1.9v1.6h-1.9zM93.8 321.4h1.9v1.6h-1.9zM78.6 328.7h1.9v1.6h-1.9zM74.8 330.5h1.9v1.6h-1.9zM90.6 325.3h1.9v1.6h-1.9zM77.8 332.4h1.9v1.6h-1.9zM68.3 340.9h1.9v1.6h-1.9zM85.4 324.3h1.9v1.6h-1.9zM73.4 327.3h1.9v1.6h-1.9zM87.5 321.5h1.9v1.6h-1.9zM70.6 323.2h1.9v1.6h-1.9zM86.6 320.3h1.9v1.6h-1.9zM68.3 334.7h1.9v1.6h-1.9zM89.2 322.8h1.9v1.6h-1.9zM85.7 328.2h1.9v1.6h-1.9zM95.5 320.5h1.9v1.6h-1.9zM92.1 330.6h1.9v1.6h-1.9zM78.5 330.5h1.9v1.6h-1.9zM70.9 325.9h1.9v1.6h-1.9zM70.5 337.8h1.9v1.6h-1.9zM83.5 320.9h1.9v1.6h-1.9zM67.5 325.2h1.9v1.6h-1.9zM85.8 327.5h1.9v1.6h-1.9zM81.8 335.1h1.9v1.6h-1.9zM78.9 327.4h1.9v1.6h-1.9zM82.5 327.6h1.9v1.6h-1.9zM86.1 335.5h1.9v1.6h-1.9zM67.9 328.5h1.9v1.6h-1.9zM92.6 331.1h1.9v1.6h-1.9zM90.6 318.2h1.9v1.6h-1.9zM66.1 340.5h1.9v1.6h-1.9zM70.8 342.6h1.9v1.6h-1.9zM91.3 327.7h1.9v1.6h-1.9zM95.5 325.5h1.9v1.6h-1.9zM66.1 328.0h1.9v1.6h-1.9zM80.3 318.3h1.9v1.6h-1.9zM70.4 333.8h1.9v1.6h-1.9zM86.6 325.9h1.9v1.6h-1.9zM67.6 324.0h1.9v1.6h-1.9zM69.0 340.0h1.9v1.6h-1.9zM79.5 328.1h1.9v1.6h-1.9zM69.2 332.5h1.9v1.6h-1.9zM69.1 336.1h1.9v1.6h-1.9zM92.4 322.3h1.9v1.6h-1.9zM67.5 329.8h1.9v1.6h-1.9zM77.7 318.9h1.9v1.6h-1.9zM88.3 331.0h1.9v1.6h-1.9zM70.6 331.6h1.9v1.6h-1.9zM74.4 327.9h1.9v1.6h-1.9zM88.4 315.4h1.9v1.6h-1.9zM70.5 337.1h1.9v1.6h-1.9zM65.6 327.9h1.9v1.6h-1.9zM86.7 325.9h1.9v1.6h-1.9zM90.2 324.7h1.9v1.6h-1.9zM89.1 330.6h1.9v1.6h-1.9zM71.2 339.8h1.9v1.6h-1.9zM78.1 324.7h1.9v1.6h-1.9zM75.5 322.9h1.9v1.6h-1.9zM66.9 333.3h1.9v1.6h-1.9zM86.8 323.7h1.9v1.6h-1.9zM86.6 331.4h1.9v1.6h-1.9zM85.0 336.4h1.9v1.6h-1.9zM68.9 331.5h1.9v1.6h-1.9zM93.2 328.7h1.9v1.6h-1.9zM79.6 323.3h1.9v1.6h-1.9zM67.7 337.1h1.9v1.6h-1.9zM82.3 319.5h1.9v1.6h-1.9zM76.8 332.2h1.9v1.6h-1.9zM91.5 318.2h1.9v1.6h-1.9zM78.8 323.1h1.9v1.6h-1.9zM80.7 329.9h1.9v1.6h-1.9zM85.4 335.7h1.9v1.6h-1.9zM76.4 322.3h1.9v1.6h-1.9zM69.3 338.2h1.9v1.6h-1.9zM80.2 327.1h1.9v1.6h-1.9zM90.0 319.0h1.9v1.6h-1.9zM85.7 320.4h1.9v1.6h-1.9zM84.7 328.7h1.9v1.6h-1.9zM84.8 335.9h1.9v1.6h-1.9zM73.2 324.0h1.9v1.6h-1.9zM75.8 323.8h1.9v1.6h-1.9zM67.0 338.1h1.9v1.6h-1.9zM65.5 336.8h1.9v1.6h-1.9zM68.1 330.5h1.9v1.6h-1.9zM91.9 322.0h1.9v1.6h-1.9zM92.8 317.9h1.9v1.6h-1.9zM85.7 317.7h1.9v1.6h-1.9zM68.4 325.7h1.9v1.6h-1.9zM73.5 339.7h1.9v1.6h-1.9zM70.9 337.4h1.9v1.6h-1.9zM76.9 335.7h1.9v1.6h-1.9zM68.9 324.8h1.9v1.6h-1.9zM73.4 329.6h1.9v1.6h-1.9zM83.5 327.6h1.9v1.6h-1.9zM75.4 333.6h1.9v1.6h-1.9zM75.7 340.0h1.9v1.6h-1.9zM88.6 330.5h1.9v1.6h-1.9zM72.3 328.6h1.9v1.6h-1.9zM75.4 321.3h1.9v1.6h-1.9zM92.2 332.6h1.9v1.6h-1.9zM69.2 337.8h1.9v1.6h-1.9zM90.1 328.6h1.9v1.6h-1.9zM82.3 337.3h1.9v1.6h-1.9zM82.3 330.8h1.9v1.6h-1.9zM80.0 327.3h1.9v1.6h-1.9zM67.4 332.2h1.9v1.6h-1.9zM93.7 328.7h1.9v1.6h-1.9zM93.4 323.8h1.9v1.6h-1.9zM84.9 319.5h1.9v1.6h-1.9zM88.9 330.4h1.9v1.6h-1.9zM72.6 333.1h1.9v1.6h-1.9zM71.0 329.5h1.9v1.6h-1.9zM82.6 320.4h1.9v1.6h-1.9zM76.9 333.8h1.9v1.6h-1.9zM67.7 328.3h1.9v1.6h-1.9zM66.7 328.2h1.9v1.6h-1.9zM84.1 328.5h1.9v1.6h-1.9zM90.6 332.8h1.9v1.6h-1.9zM86.8 329.3h1.9v1.6h-1.9zM81.6 330.9h1.9v1.6h-1.9zM79.4 334.5h1.9v1.6h-1.9zM90.2 322.0h1.9v1.6h-1.9zM93.8 329.6h1.9v1.6h-1.9zM89.8 324.3h1.9v1.6h-1.9zM71.4 323.6h1.9v1.6h-1.9zM84.7 334.4h1.9v1.6h-1.9zM90.9 324.6h1.9v1.6h-1.9zM91.1 320.9h1.9v1.6h-1.9zM94.5 328.9h1.9v1.6h-1.9zM67.0 326.3h1.9v1.6h-1.9zM88.8 321.1h1.9v1.6h-1.9zM83.2 319.4h1.9v1.6h-1.9zM93.1 317.9h1.9v1.6h-1.9zM87.5 323.9h1.9v1.6h-1.9zM75.9 330.0h1.9v1.6h-1.9zM84.1 318.7h1.9v1.6h-1.9zM71.0 322.3h1.9v1.6h-1.9zM65.8 334.2h1.9v1.6h-1.9zM88.1 318.1h1.9v1.6h-1.9zM78.8 326.1h1.9v1.6h-1.9zM70.1 329.9h1.9v1.6h-1.9zM88.3 326.7h1.9v1.6h-1.9zM73.4 335.7h1.9v1.6h-1.9zM76.2 338.6h1.9v1.6h-1.9zM75.0 319.3h1.9v1.6h-1.9zM70.9 340.4h1.9v1.6h-1.9zM91.6 330.6h1.9v1.6h-1.9zM73.5 337.2h1.9v1.6h-1.9zM79.2 323.9h1.9v1.6h-1.9zM77.6 335.0h1.9v1.6h-1.9zM79.4 328.6h1.9v1.6h-1.9zM75.4 321.8h1.9v1.6h-1.9zM79.9 330.8h1.9v1.6h-1.9zM86.7 334.6h1.9v1.6h-1.9zM95.7 329.2h1.9v1.6h-1.9zM89.9 325.1h1.9v1.6h-1.9zM70.0 335.1h1.9v1.6h-1.9zM77.2 331.3h1.9v1.6h-1.9zM74.8 340.2h1.9v1.6h-1.9zM72.8 319.9h1.9v1.6h-1.9zM66.2 331.6h1.9v1.6h-1.9zM77.4 332.9h1.9v1.6h-1.9zM66.8 322.5h1.9v1.6h-1.9zM87.2 318.8h1.9v1.6h-1.9zM65.2 328.0h1.9v1.6h-1.9zM73.8 322.4h1.9v1.6h-1.9zM72.6 331.3h1.9v1.6h-1.9zM76.9 338.8h1.9v1.6h-1.9zM84.9 336.0h1.9v1.6h-1.9zM89.7 326.3h1.9v1.6h-1.9zM93.2 321.7h1.9v1.6h-1.9zM77.8 324.3h1.9v1.6h-1.9zM69.4 323.9h1.9v1.6h-1.9zM95.4 325.3h1.9v1.6h-1.9zM91.2 326.3h1.9v1.6h-1.9zM90.3 330.8h1.9v1.6h-1.9zM94.3 319.4h1.9v1.6h-1.9zM90.0 326.6h1.9v1.6h-1.9zM78.5 330.0h1.9v1.6h-1.9zM69.5 325.7h1.9v1.6h-1.9zM86.9 332.3h1.9v1.6h-1.9zM86.4 327.8h1.9v1.6h-1.9zM65.2 335.6h1.9v1.6h-1.9zM75.6 328.4h1.9v1.6h-1.9zM77.6 332.1h1.9v1.6h-1.9zM79.2 339.8h1.9v1.6h-1.9zM77.0 325.4h1.9v1.6h-1.9zM72.6 324.9h1.9v1.6h-1.9zM68.9 330.5h1.9v1.6h-1.9zM77.9 328.4h1.9v1.6h-1.9zM81.2 335.8h1.9v1.6h-1.9zM79.3 331.2h1.9v1.6h-1.9zM86.0 336.2h1.9v1.6h-1.9zM78.4 332.9h1.9v1.6h-1.9zM67.0 331.9h1.9v1.6h-1.9zM87.1 329.9h1.9v1.6h-1.9zM68.4 333.5h1.9v1.6h-1.9zM87.8 320.3h1.9v1.6h-1.9zM77.5 329.0h1.9v1.6h-1.9zM90.6 329.1h1.9v1.6h-1.9zM81.0 334.8h1.9v1.6h-1.9zM73.4 338.5h1.9v1.6h-1.9zM88.4 320.5h1.9v1.6h-1.9zM75.7 324.9h1.9v1.6h-1.9zM73.4 333.1h1.9v1.6h-1.9zM85.1 332.4h1.9v1.6h-1.9zM85.0 329.4h1.9v1.6h-1.9zM78.4 333.3h1.9v1.6h-1.9zM74.3 338.3h1.9v1.6h-1.9zM78.7 333.0h1.9v1.6h-1.9zM89.5 331.1h1.9v1.6h-1.9zM77.7 337.2h1.9v1.6h-1.9zM84.6 318.5h1.9v1.6h-1.9zM84.9 326.7h1.9v1.6h-1.9zM71.4 341.1h1.9v1.6h-1.9zM78.3 326.1h1.9v1.6h-1.9zM89.0 320.2h1.9v1.6h-1.9zM78.9 339.4h1.9v1.6h-1.9zM92.1 327.6h1.9v1.6h-1.9zM95.1 323.6h1.9v1.6h-1.9zM64.6 329.5h1.9v1.6h-1.9zM72.2 320.2h1.9v1.6h-1.9zM82.6 333.0h1.9v1.6h-1.9zM76.2 318.6h1.9v1.6h-1.9zM74.2 326.8h1.9v1.6h-1.9zM69.3 340.0h1.9v1.6h-1.9zM77.7 325.3h1.9v1.6h-1.9zM68.0 327.4h1.9v1.6h-1.9zM79.6 318.5h1.9v1.6h-1.9zM78.1 325.6h1.9v1.6h-1.9zM77.9 330.1h1.9v1.6h-1.9zM72.2 325.3h1.9v1.6h-1.9zM86.2 324.2h1.9v1.6h-1.9zM96.8 319.7h1.9v1.6h-1.9zM83.6 323.5h1.9v1.6h-1.9zM90.4 319.1h1.9v1.6h-1.9zM76.4 330.9h1.9v1.6h-1.9zM94.9 323.3h1.9v1.6h-1.9zM88.6 335.1h1.9v1.6h-1.9zM95.4 322.3h1.9v1.6h-1.9zM68.8 334.2h1.9v1.6h-1.9zM75.6 328.0h1.9v1.6h-1.9zM82.2 322.5h1.9v1.6h-1.9zM67.9 323.0h1.9v1.6h-1.9zM76.1 321.9h1.9v1.6h-1.9zM79.0 334.6h1.9v1.6h-1.9zM71.2 329.5h1.9v1.6h-1.9zM73.6 332.8h1.9v1.6h-1.9zM67.2 335.7h1.9v1.6h-1.9zM72.5 326.3h1.9v1.6h-1.9zM72.3 328.3h1.9v1.6h-1.9zM77.1 332.4h1.9v1.6h-1.9zM89.0 320.6h1.9v1.6h-1.9zM86.2 331.2h1.9v1.6h-1.9zM81.7 334.6h1.9v1.6h-1.9zM88.4 322.9h1.9v1.6h-1.9zM81.0 323.9h1.9v1.6h-1.9zM77.3 320.7h1.9v1.6h-1.9zM89.7 332.3h1.9v1.6h-1.9zM72.2 325.8h1.9v1.6h-1.9zM67.6 327.2h1.9v1.6h-1.9zM94.7 320.0h1.9v1.6h-1.9zM84.7 324.2h1.9v1.6h-1.9zM75.3 324.2h1.9v1.6h-1.9zM80.7 329.2h1.9v1.6h-1.9zM81.9 331.8h1.9v1.6h-1.9zM87.6 323.5h1.9v1.6h-1.9zM69.5 339.5h1.9v1.6h-1.9zM75.2 327.1h1.9v1.6h-1.9zM76.1 334.6h1.9v1.6h-1.9zM85.6 330.4h1.9v1.6h-1.9zM89.7 318.0h1.9v1.6h-1.9zM78.3 335.8h1.9v1.6h-1.9zM78.3 319.1h1.9v1.6h-1.9zM87.0 336.4h1.9v1.6h-1.9zM82.5 332.5h1.9v1.6h-1.9zM92.8 319.6h1.9v1.6h-1.9zM88.1 327.5h1.9v1.6h-1.9zM81.0 322.5h1.9v1.6h-1.9zM69.5 324.8h1.9v1.6h-1.9zM83.8 321.8h1.9v1.6h-1.9zM89.0 332.8h1.9v1.6h-1.9zM89.9 329.1h1.9v1.6h-1.9zM92.5 318.1h1.9v1.6h-1.9zM80.2 323.4h1.9v1.6h-1.9zM72.5 338.3h1.9v1.6h-1.9zM85.6 318.8h1.9v1.6h-1.9zM81.5 327.8h1.9v1.6h-1.9zM77.9 337.0h1.9v1.6h-1.9zM74.5 323.0h1.9v1.6h-1.9zM96.6 321.3h1.9v1.6h-1.9zM69.4 332.5h1.9v1.6h-1.9zM91.5 324.2h1.9v1.6h-1.9zM75.5 338.6h1.9v1.6h-1.9zM89.7 318.3h1.9v1.6h-1.9zM73.9 333.2h1.9v1.6h-1.9zM70.8 334.5h1.9v1.6h-1.9zM70.4 328.7h1.9v1.6h-1.9zM87.9 328.3h1.9v1.6h-1.9zM90.0 329.5h1.9v1.6h-1.9zM67.6 324.0h1.9v1.6h-1.9zM65.8 337.6h1.9v1.6h-1.9zM76.7 338.3h1.9v1.6h-1.9zM76.6 331.9h1.9v1.6h-1.9zM86.2 318.0h1.9v1.6h-1.9zM91.1 330.9h1.9v1.6h-1.9zM83.5 318.3h1.9v1.6h-1.9zM83.8 330.1h1.9v1.6h-1.9zM70.8 341.5h1.9v1.6h-1.9zM89.7 328.9h1.9v1.6h-1.9zM85.1 328.1h1.9v1.6h-1.9zM82.9 331.8h1.9v1.6h-1.9zM70.8 333.4h1.9v1.6h-1.9zM71.4 320.9h1.9v1.6h-1.9zM85.1 337.4h1.9v1.6h-1.9zM66.0 337.5h1.9v1.6h-1.9zM70.7 337.0h1.9v1.6h-1.9zM79.7 321.2h1.9v1.6h-1.9zM75.4 331.6h1.9v1.6h-1.9zM85.8 336.2h1.9v1.6h-1.9zM81.0 335.4h1.9v1.6h-1.9zM71.0 338.5h1.9v1.6h-1.9zM87.4 335.5h1.9v1.6h-1.9zM88.4 318.0h1.9v1.6h-1.9zM86.5 328.1h1.9v1.6h-1.9zM67.4 338.2h1.9v1.6h-1.9zM79.3 327.8h1.9v1.6h-1.9zM77.3 324.2h1.9v1.6h-1.9zM66.4 339.7h1.9v1.6h-1.9zM72.5 323.6h1.9v1.6h-1.9zM66.5 337.6h1.9v1.6h-1.9zM67.5 336.2h1.9v1.6h-1.9zM81.0 332.2h1.9v1.6h-1.9zM72.6 338.0h1.9v1.6h-1.9zM64.6 340.0h1.9v1.6h-1.9zM94.6 327.5h1.9v1.6h-1.9zM88.6 318.6h1.9v1.6h-1.9zM93.7 329.0h1.9v1.6h-1.9zM76.2 333.9h1.9v1.6h-1.9zM79.1 337.1h1.9v1.6h-1.9zM94.5 328.2h1.9v1.6h-1.9zM92.9 328.4h1.9v1.6h-1.9zM83.6 330.9h1.9v1.6h-1.9zM80.2 320.5h1.9v1.6h-1.9zM87.7 331.4h1.9v1.6h-1.9zM73.0 322.2h1.9v1.6h-1.9zM96.4 319.7h1.9v1.6h-1.9zM82.5 323.4h1.9v1.6h-1.9zM78.6 336.3h1.9v1.6h-1.9zM72.8 327.3h1.9v1.6h-1.9zM80.5 336.9h1.9v1.6h-1.9zM96.4 317.9h1.9v1.6h-1.9zM94.3 324.6h1.9v1.6h-1.9zM91.9 317.0h1.9v1.6h-1.9zM77.9 320.2h1.9v1.6h-1.9zM80.5 321.1h1.9v1.6h-1.9zM66.0 333.7h1.9v1.6h-1.9zM77.8 337.5h1.9v1.6h-1.9zM66.3 328.7h1.9v1.6h-1.9zM82.0 324.4h1.9v1.6h-1.9zM70.1 323.1h1.9v1.6h-1.9zM82.5 329.5h1.9v1.6h-1.9zM71.7 328.9h1.9v1.6h-1.9zM69.0 337.7h1.9v1.6h-1.9zM65.7 327.5h1.9v1.6h-1.9zM93.8 324.2h1.9v1.6h-1.9zM81.8 335.1h1.9v1.6h-1.9zM67.1 323.5h1.9v1.6h-1.9zM77.8 320.7h1.9v1.6h-1.9zM73.9 339.2h1.9v1.6h-1.9zM65.7 332.5h1.9v1.6h-1.9zM94.4 326.1h1.9v1.6h-1.9zM93.5 319.8h1.9v1.6h-1.9zM86.6 324.4h1.9v1.6h-1.9zM73.7 324.0h1.9v1.6h-1.9zM76.9 319.8h1.9v1.6h-1.9zM70.4 331.0h1.9v1.6h-1.9zM67.1 324.9h1.9v1.6h-1.9zM86.2 332.6h1.9v1.6h-1.9zM75.9 333.4h1.9v1.6h-1.9zM83.4 318.2h1.9v1.6h-1.9zM74.2 333.4h1.9v1.6h-1.9zM69.4 341.0h1.9v1.6h-1.9zM92.0 331.5h1.9v1.6h-1.9zM76.6 325.8h1.9v1.6h-1.9zM75.5 326.7h1.9v1.6h-1.9zM67.8 340.1h1.9v1.6h-1.9zM72.3 332.9h1.9v1.6h-1.9zM69.3 323.6h1.9v1.6h-1.9zM69.3 336.1h1.9v1.6h-1.9zM66.6 326.0h1.9v1.6h-1.9zM95.9 327.9h1.9v1.6h-1.9zM90.7 332.0h1.9v1.6h-1.9zM86.4 325.0h1.9v1.6h-1.9zM88.9 321.6h1.9v1.6h-1.9zM78.6 322.5h1.9v1.6h-1.9zM64.3 339.1h1.9v1.6h-1.9zM69.1 323.9h1.9v1.6h-1.9zM82.9 320.1h1.9v1.6h-1.9zM65.6 324.9h1.9v1.6h-1.9zM67.3 340.4h1.9v1.6h-1.9zM83.3 336.1h1.9v1.6h-1.9zM85.3 333.2h1.9v1.6h-1.9zM70.0 335.0h1.9v1.6h-1.9zM83.6 333.9h1.9v1.6h-1.9zM82.7 334.2h1.9v1.6h-1.9zM81.5 326.6h1.9v1.6h-1.9zM69.4 338.3h1.9v1.6h-1.9zM85.8 323.6h1.9v1.6h-1.9zM77.8 332.9h1.9v1.6h-1.9zM69.7 335.7h1.9v1.6h-1.9zM89.4 332.8h1.9v1.6h-1.9zM95.8 329.8h1.9v1.6h-1.9zM74.7 327.9h1.9v1.6h-1.9zM65.0 336.3h1.9v1.6h-1.9zM88.8 327.5h1.9v1.6h-1.9zM77.2 332.9h1.9v1.6h-1.9zM77.8 327.0h1.9v1.6h-1.9zM83.2 332.6h1.9v1.6h-1.9zM81.5 326.5h1.9v1.6h-1.9zM70.5 323.4h1.9v1.6h-1.9zM79.0 335.2h1.9v1.6h-1.9zM75.9 328.4h1.9v1.6h-1.9zM73.5 329.2h1.9v1.6h-1.9zM94.7 324.5h1.9v1.6h-1.9zM95.5 326.1h1.9v1.6h-1.9zM84.8 325.6h1.9v1.6h-1.9zM71.1 334.9h1.9v1.6h-1.9zM81.8 336.3h1.9v1.6h-1.9zM65.1 337.7h1.9v1.6h-1.9zM67.9 330.6h1.9v1.6h-1.9zM91.4 317.7h1.9v1.6h-1.9zM95.7 327.9h1.9v1.6h-1.9zM80.1 333.6h1.9v1.6h-1.9zM80.3 326.7h1.9v1.6h-1.9zM92.5 327.6h1.9v1.6h-1.9zM70.1 342.8h1.9v1.6h-1.9zM83.4 331.1h1.9v1.6h-1.9zM68.0 334.4h1.9v1.6h-1.9zM71.2 325.4h1.9v1.6h-1.9zM90.5 327.1h1.9v1.6h-1.9zM66.9 337.8h1.9v1.6h-1.9zM83.9 318.9h1.9v1.6h-1.9zM71.1 324.6h1.9v1.6h-1.9zM93.3 329.4h1.9v1.6h-1.9zM67.1 328.7h1.9v1.6h-1.9zM83.3 325.7h1.9v1.6h-1.9zM88.1 330.7h1.9v1.6h-1.9zM74.8 327.6h1.9v1.6h-1.9zM89.2 323.5h1.9v1.6h-1.9zM87.3 329.9h1.9v1.6h-1.9zM88.0 329.2h1.9v1.6h-1.9zM73.6 331.6h1.9v1.6h-1.9zM65.9 335.0h1.9v1.6h-1.9zM74.9 336.8h1.9v1.6h-1.9zM84.1 320.2h1.9v1.6h-1.9zM71.2 338.5h1.9v1.6h-1.9zM72.0 340.9h1.9v1.6h-1.9zM91.8 329.2h1.9v1.6h-1.9zM90.6 332.3h1.9v1.6h-1.9zM69.1 324.3h1.9v1.6h-1.9zM82.2 334.0h1.9v1.6h-1.9zM72.1 321.1h1.9v1.6h-1.9zM83.0 334.8h1.9v1.6h-1.9zM94.3 319.8h1.9v1.6h-1.9zM86.4 332.9h1.9v1.6h-1.9zM86.5 332.2h1.9v1.6h-1.9zM77.0 330.1h1.9v1.6h-1.9zM78.7 324.8h1.9v1.6h-1.9zM69.8 323.1h1.9v1.6h-1.9zM68.3 329.3h1.9v1.6h-1.9zM93.2 318.8h1.9v1.6h-1.9zM80.3 319.3h1.9v1.6h-1.9zM70.2 329.4h1.9v1.6h-1.9zM73.4 340.3h1.9v1.6h-1.9zM84.3 335.6h1.9v1.6h-1.9zM89.7 322.7h1.9v1.6h-1.9zM82.7 326.6h1.9v1.6h-1.9zM94.3 326.9h1.9v1.6h-1.9zM81.5 319.3h1.9v1.6h-1.9zM71.2 335.2h1.9v1.6h-1.9zM86.0 319.4h1.9v1.6h-1.9zM74.3 339.5h1.9v1.6h-1.9zM88.8 324.2h1.9v1.6h-1.9zM92.9 324.3h1.9v1.6h-1.9zM74.1 335.7h1.9v1.6h-1.9zM89.7 333.5h1.9v1.6h-1.9zM93.7 328.1h1.9v1.6h-1.9zM76.4 331.4h1.9v1.6h-1.9zM78.5 318.6h1.9v1.6h-1.9zM92.6 328.1h1.9v1.6h-1.9zM79.0 335.0h1.9v1.6h-1.9zM95.3 319.8h1.9v1.6h-1.9zM88.0 333.5h1.9v1.6h-1.9zM82.1 322.5h1.9v1.6h-1.9zM77.3 328.1h1.9v1.6h-1.9zM86.0 319.0h1.9v1.6h-1.9zM84.3 331.5h1.9v1.6h-1.9zM90.3 319.1h1.9v1.6h-1.9zM91.6 327.3h1.9v1.6h-1.9zM75.9 334.2h1.9v1.6h-1.9zM91.3 316.2h1.9v1.6h-1.9zM88.6 328.2h1.9v1.6h-1.9zM65.6 332.4h1.9v1.6h-1.9zM75.5 337.5h1.9v1.6h-1.9zM74.3 325.8h1.9v1.6h-1.9zM64.6 337.7h1.9v1.6h-1.9zM91.7 321.8h1.9v1.6h-1.9zM84.8 316.9h1.9v1.6h-1.9zM81.0 332.3h1.9v1.6h-1.9zM81.6 324.2h1.9v1.6h-1.9zM91.5 329.5h1.9v1.6h-1.9zM82.8 317.3h1.9v1.6h-1.9zM70.6 338.7h1.9v1.6h-1.9zM65.5 333.2h1.9v1.6h-1.9zM69.2 334.0h1.9v1.6h-1.9zM93.8 320.0h1.9v1.6h-1.9zM90.8 320.5h1.9v1.6h-1.9zM72.1 333.6h1.9v1.6h-1.9zM67.3 327.4h1.9v1.6h-1.9zM72.6 329.2h1.9v1.6h-1.9zM84.5 329.4h1.9v1.6h-1.9zM81.2 333.7h1.9v1.6h-1.9zM81.1 318.1h1.9v1.6h-1.9zM89.2 322.9h1.9v1.6h-1.9zM70.3 338.5h1.9v1.6h-1.9zM92.2 322.4h1.9v1.6h-1.9zM80.8 335.7h1.9v1.6h-1.9zM74.3 326.5h1.9v1.6h-1.9zM90.3 328.2h1.9v1.6h-1.9zM86.6 323.7h1.9v1.6h-1.9zM78.2 336.5h1.9v1.6h-1.9zM72.0 330.6h1.9v1.6h-1.9zM75.4 324.4h1.9v1.6h-1.9zM91.1 326.3h1.9v1.6h-1.9zM65.4 332.0h1.9v1.6h-1.9zM77.1 333.3h1.9v1.6h-1.9zM86.9 320.5h1.9v1.6h-1.9zM75.0 326.9h1.9v1.6h-1.9zM67.3 337.8h1.9v1.6h-1.9zM72.4 322.0h1.9v1.6h-1.9zM69.6 324.2h1.9v1.6h-1.9zM74.7 339.0h1.9v1.6h-1.9zM95.2 326.7h1.9v1.6h-1.9zM68.1 328.8h1.9v1.6h-1.9zM71.2 323.7h1.9v1.6h-1.9zM76.6 320.5h1.9v1.6h-1.9zM67.1 338.4h1.9v1.6h-1.9zM73.1 341.0h1.9v1.6h-1.9zM94.2 323.1h1.9v1.6h-1.9zM81.0 334.1h1.9v1.6h-1.9zM70.5 333.1h1.9v1.6h-1.9zM84.2 317.8h1.9v1.6h-1.9zM86.4 327.9h1.9v1.6h-1.9zM82.0 336.5h1.9v1.6h-1.9zM87.1 320.9h1.9v1.6h-1.9zM83.8 332.6h1.9v1.6h-1.9zM82.0 319.5h1.9v1.6h-1.9zM78.5 323.3h1.9v1.6h-1.9zM72.6 339.8h1.9v1.6h-1.9zM87.2 324.8h1.9v1.6h-1.9zM84.3 320.6h1.9v1.6h-1.9zM93.7 321.2h1.9v1.6h-1.9zM82.6 323.6h1.9v1.6h-1.9zM93.5 322.3h1.9v1.6h-1.9zM74.5 333.8h1.9v1.6h-1.9zM71.4 339.2h1.9v1.6h-1.9zM90.5 323.2h1.9v1.6h-1.9zM79.0 339.6h1.9v1.6h-1.9zM78.7 335.7h1.9v1.6h-1.9zM80.8 332.0h1.9v1.6h-1.9zM68.7 329.1h1.9v1.6h-1.9zM73.1 322.9h1.9v1.6h-1.9zM83.1 329.5h1.9v1.6h-1.9zM88.9 329.7h1.9v1.6h-1.9zM78.7 320.2h1.9v1.6h-1.9zM73.5 337.7h1.9v1.6h-1.9zM72.2 340.3h1.9v1.6h-1.9zM85.6 331.7h1.9v1.6h-1.9zM76.4 336.8h1.9v1.6h-1.9zM84.5 326.5h1.9v1.6h-1.9zM71.2 336.8h1.9v1.6h-1.9zM65.9 338.7h1.9v1.6h-1.9zM68.3 336.9h1.9v1.6h-1.9zM89.4 324.2h1.9v1.6h-1.9zM94.6 328.1h1.9v1.6h-1.9zM75.8 336.3h1.9v1.6h-1.9zM84.1 321.0h1.9v1.6h-1.9zM70.8 336.9h1.9v1.6h-1.9zM84.1 321.3h1.9v1.6h-1.9zM83.4 330.3h1.9v1.6h-1.9zM86.0 325.0h1.9v1.6h-1.9zM76.8 326.6h1.9v1.6h-1.9zM65.1 334.2h1.9v1.6h-1.9zM67.4 327.3h1.9v1.6h-1.9zM67.2 327.7h1.9v1.6h-1.9zM74.7 332.7h1.9v1.6h-1.9zM92.6 327.5h1.9v1.6h-1.9zM85.7 334.0h1.9v1.6h-1.9zM71.9 340.6h1.9v1.6h-1.9zM67.4 329.6h1.9v1.6h-1.9zM88.2 327.8h1.9v1.6h-1.9zM69.2 326.3h1.9v1.6h-1.9zM83.3 325.7h1.9v1.6h-1.9zM67.2 327.9h1.9v1.6h-1.9zM93.1 318.2h1.9v1.6h-1.9zM86.5 331.2h1.9v1.6h-1.9zM84.2 332.3h1.9v1.6h-1.9zM84.4 329.0h1.9v1.6h-1.9zM85.7 336.4h1.9v1.6h-1.9zM79.4 319.7h1.9v1.6h-1.9zM73.9 321.7h1.9v1.6h-1.9zM71.9 331.4h1.9v1.6h-1.9zM70.7 330.6h1.9v1.6h-1.9zM71.1 328.1h1.9v1.6h-1.9zM93.4 316.9h1.9v1.6h-1.9zM102.6 305.9h1.9v1.6h-1.9zM104.8 314.8h1.9v1.6h-1.9zM100.1 313.7h1.9v1.6h-1.9zM101.2 313.6h1.9v1.6h-1.9zM105.1 315.4h1.9v1.6h-1.9zM104.3 312.2h1.9v1.6h-1.9zM100.1 318.1h1.9v1.6h-1.9zM100.1 318.2h1.9v1.6h-1.9zM97.0 317.6h1.9v1.6h-1.9zM102.1 313.2h1.9v1.6h-1.9zM102.5 308.5h1.9v1.6h-1.9zM100.7 313.2h1.9v1.6h-1.9zM102.3 317.7h1.9v1.6h-1.9zM100.0 317.3h1.9v1.6h-1.9zM94.2 313.1h1.9v1.6h-1.9zM99.5 322.5h1.9v1.6h-1.9zM96.6 313.0h1.9v1.6h-1.9zM100.9 313.8h1.9v1.6h-1.9zM96.3 311.6h1.9v1.6h-1.9zM96.2 314.4h1.9v1.6h-1.9zM97.8 312.4h1.9v1.6h-1.9zM95.9 320.4h1.9v1.6h-1.9zM102.5 316.9h1.9v1.6h-1.9zM104.7 309.9h1.9v1.6h-1.9zM87.2 306.2h1.9v1.6h-1.9zM93.9 308.6h1.9v1.6h-1.9zM85.3 313.5h1.9v1.6h-1.9zM97.4 312.6h1.9v1.6h-1.9zM84.4 312.4h1.9v1.6h-1.9zM94.9 312.5h1.9v1.6h-1.9zM94.8 316.0h1.9v1.6h-1.9zM82.3 309.5h1.9v1.6h-1.9zM78.3 311.1h1.9v1.6h-1.9zM76.0 311.7h1.9v1.6h-1.9zM78.5 315.3h1.9v1.6h-1.9zM80.6 317.5h1.9v1.6h-1.9zM76.3 312.7h1.9v1.6h-1.9zM88.8 314.6h1.9v1.6h-1.9zM73.6 317.3h1.9v1.6h-1.9zM84.9 309.6h1.9v1.6h-1.9zM92.3 309.3h1.9v1.6h-1.9zM125.6 270.3h1.9v1.6h-1.9zM120.1 270.1h1.9v1.6h-1.9zM108.6 275.3h1.9v1.6h-1.9zM114.9 275.1h1.9v1.6h-1.9zM70.4 291.0h1.9v1.6h-1.9zM74.5 289.2h1.9v1.6h-1.9zM125.3 273.2h1.9v1.6h-1.9zM118.7 272.9h1.9v1.6h-1.9zM87.4 284.1h1.9v1.6h-1.9zM124.8 272.2h1.9v1.6h-1.9zM128.5 270.7h1.9v1.6h-1.9zM131.2 265.0h1.9v1.6h-1.9zM123.0 273.9h1.9v1.6h-1.9zM91.7 287.9h1.9v1.6h-1.9zM127.4 276.1h1.9v1.6h-1.9zM117.7 282.5h1.9v1.6h-1.9zM113.1 269.8h1.9v1.6h-1.9zM121.5 280.7h1.9v1.6h-1.9zM81.6 286.8h1.9v1.6h-1.9zM93.1 279.2h1.9v1.6h-1.9zM125.7 265.4h1.9v1.6h-1.9zM102.5 281.7h1.9v1.6h-1.9zM111.9 268.9h1.9v1.6h-1.9zM105.2 283.4h1.9v1.6h-1.9zM122.6 270.9h1.9v1.6h-1.9zM114.9 282.6h1.9v1.6h-1.9zM125.8 271.6h1.9v1.6h-1.9zM118.2 277.9h1.9v1.6h-1.9zM93.0 286.9h1.9v1.6h-1.9zM88.8 296.2h1.9v1.6h-1.9zM132.6 270.2h1.9v1.6h-1.9zM93.6 289.0h1.9v1.6h-1.9zM134.7 273.0h1.9v1.6h-1.9zM80.6 290.1h1.9v1.6h-1.9zM101.5 282.0h1.9v1.6h-1.9zM76.1 299.2h1.9v1.6h-1.9zM110.1 283.8h1.9v1.6h-1.9zM104.7 283.4h1.9v1.6h-1.9zM79.4 297.2h1.9v1.6h-1.9zM109.0 274.4h1.9v1.6h-1.9zM113.4 284.2h1.9v1.6h-1.9zM82.9 289.1h1.9v1.6h-1.9zM80.8 289.4h1.9v1.6h-1.9zM91.3 275.5h1.9v1.6h-1.9zM85.0 286.2h1.9v1.6h-1.9zM120.3 273.9h1.9v1.6h-1.9zM91.7 291.3h1.9v1.6h-1.9zM136.4 282.1h1.9v1.6h-1.9zM88.9 280.8h1.9v1.6h-1.9zM93.0 280.1h1.9v1.6h-1.9zM78.6 293.4h1.9v1.6h-1.9zM126.7 269.9h1.9v1.6h-1.9zM122.0 264.0h1.9v1.6h-1.9zM126.3 276.0h1.9v1.6h-1.9zM81.2 284.0h1.9v1.6h-1.9zM135.5 270.7h1.9v1.6h-1.9zM72.3 289.6h1.9v1.6h-1.9zM97.4 273.1h1.9v1.6h-1.9zM95.7 298.4h1.9v1.6h-1.9zM90.8 293.9h1.9v1.6h-1.9zM88.3 283.9h1.9v1.6h-1.9zM124.8 257.5h1.9v1.6h-1.9zM115.2 278.3h1.9v1.6h-1.9zM103.6 283.5h1.9v1.6h-1.9zM73.5 288.0h1.9v1.6h-1.9zM119.0 269.0h1.9v1.6h-1.9zM90.0 282.8h1.9v1.6h-1.9zM120.3 270.9h1.9v1.6h-1.9zM114.0 269.1h1.9v1.6h-1.9zM107.0 284.3h1.9v1.6h-1.9zM64.5 289.4h1.9v1.6h-1.9zM76.3 293.3h1.9v1.6h-1.9zM115.9 281.7h1.9v1.6h-1.9zM134.4 272.9h1.9v1.6h-1.9zM100.8 286.7h1.9v1.6h-1.9zM118.5 273.6h1.9v1.6h-1.9zM134.1 283.4h1.9v1.6h-1.9zM125.5 277.5h1.9v1.6h-1.9zM94.2 281.2h1.9v1.6h-1.9zM111.6 269.3h1.9v1.6h-1.9zM121.6 261.8h1.9v1.6h-1.9zM114.3 275.4h1.9v1.6h-1.9zM92.7 281.4h1.9v1.6h-1.9zM82.6 294.1h1.9v1.6h-1.9zM96.6 282.0h1.9v1.6h-1.9zM99.9 281.9h1.9v1.6h-1.9zM102.0 276.1h1.9v1.6h-1.9zM105.0 282.6h1.9v1.6h-1.9zM81.4 292.0h1.9v1.6h-1.9zM98.6 283.7h1.9v1.6h-1.9zM106.2 289.3h1.9v1.6h-1.9zM118.2 275.6h1.9v1.6h-1.9zM98.9 274.8h1.9v1.6h-1.9zM100.9 282.0h1.9v1.6h-1.9zM109.6 276.4h1.9v1.6h-1.9zM128.2 276.8h1.9v1.6h-1.9zM107.5 278.6h1.9v1.6h-1.9zM89.5 287.4h1.9v1.6h-1.9zM118.9 270.9h1.9v1.6h-1.9zM87.0 284.2h1.9v1.6h-1.9zM118.9 279.8h1.9v1.6h-1.9zM74.3 288.6h1.9v1.6h-1.9zM87.1 292.0h1.9v1.6h-1.9zM102.0 279.2h1.9v1.6h-1.9zM130.9 264.9h1.9v1.6h-1.9zM130.8 261.8h1.9v1.6h-1.9zM101.1 290.9h1.9v1.6h-1.9zM122.6 268.3h1.9v1.6h-1.9zM130.3 263.5h1.9v1.6h-1.9zM101.7 281.3h1.9v1.6h-1.9zM113.3 272.6h1.9v1.6h-1.9zM75.2 301.3h1.9v1.6h-1.9zM101.0 275.1h1.9v1.6h-1.9zM79.8 286.8h1.9v1.6h-1.9zM65.9 289.8h1.9v1.6h-1.9zM127.9 261.3h1.9v1.6h-1.9zM75.7 292.2h1.9v1.6h-1.9zM112.2 277.5h1.9v1.6h-1.9zM106.5 277.4h1.9v1.6h-1.9zM97.3 277.5h1.9v1.6h-1.9zM105.1 279.9h1.9v1.6h-1.9zM93.6 292.9h1.9v1.6h-1.9zM115.5 277.8h1.9v1.6h-1.9zM116.6 273.3h1.9v1.6h-1.9zM115.5 285.1h1.9v1.6h-1.9zM68.1 294.8h1.9v1.6h-1.9zM91.8 275.7h1.9v1.6h-1.9zM126.4 283.3h1.9v1.6h-1.9zM125.1 275.9h1.9v1.6h-1.9zM77.3 291.9h1.9v1.6h-1.9zM105.3 276.6h1.9v1.6h-1.9zM84.9 285.6h1.9v1.6h-1.9zM69.6 298.6h1.9v1.6h-1.9zM85.2 281.4h1.9v1.6h-1.9zM103.9 282.3h1.9v1.6h-1.9zM122.6 268.8h1.9v1.6h-1.9zM115.7 273.3h1.9v1.6h-1.9zM131.9 263.4h1.9v1.6h-1.9zM84.0 289.6h1.9v1.6h-1.9zM134.3 278.5h1.9v1.6h-1.9zM129.0 277.9h1.9v1.6h-1.9zM99.4 282.6h1.9v1.6h-1.9zM116.8 278.6h1.9v1.6h-1.9zM127.7 273.1h1.9v1.6h-1.9zM124.7 265.0h1.9v1.6h-1.9zM124.5 272.0h1.9v1.6h-1.9zM122.9 273.3h1.9v1.6h-1.9zM92.5 286.7h1.9v1.6h-1.9zM73.5 292.0h1.9v1.6h-1.9zM132.3 273.7h1.9v1.6h-1.9zM116.5 274.7h1.9v1.6h-1.9zM85.9 284.2h1.9v1.6h-1.9zM76.6 300.0h1.9v1.6h-1.9zM93.0 282.4h1.9v1.6h-1.9zM130.4 267.6h1.9v1.6h-1.9zM86.0 283.5h1.9v1.6h-1.9zM93.8 282.2h1.9v1.6h-1.9zM119.4 273.6h1.9v1.6h-1.9zM124.6 281.4h1.9v1.6h-1.9zM120.1 272.5h1.9v1.6h-1.9zM105.4 276.6h1.9v1.6h-1.9zM92.5 296.5h1.9v1.6h-1.9zM93.2 282.7h1.9v1.6h-1.9zM109.8 277.7h1.9v1.6h-1.9zM85.8 291.8h1.9v1.6h-1.9zM96.2 276.5h1.9v1.6h-1.9zM130.3 273.8h1.9v1.6h-1.9zM105.0 277.3h1.9v1.6h-1.9zM96.3 279.5h1.9v1.6h-1.9zM109.8 280.9h1.9v1.6h-1.9zM101.2 282.8h1.9v1.6h-1.9zM130.2 263.9h1.9v1.6h-1.9zM100.5 273.4h1.9v1.6h-1.9zM132.3 274.2h1.9v1.6h-1.9zM112.8 274.4h1.9v1.6h-1.9zM101.1 283.0h1.9v1.6h-1.9zM106.0 292.7h1.9v1.6h-1.9zM122.3 265.3h1.9v1.6h-1.9zM128.3 277.4h1.9v1.6h-1.9zM98.6 284.2h1.9v1.6h-1.9zM95.0 287.9h1.9v1.6h-1.9zM116.2 273.2h1.9v1.6h-1.9zM66.9 290.5h1.9v1.6h-1.9zM111.0 280.1h1.9v1.6h-1.9zM117.2 274.2h1.9v1.6h-1.9zM126.6 270.3h1.9v1.6h-1.9zM91.7 294.3h1.9v1.6h-1.9zM94.1 283.2h1.9v1.6h-1.9zM93.3 278.2h1.9v1.6h-1.9zM106.9 279.6h1.9v1.6h-1.9zM127.3 258.9h1.9v1.6h-1.9zM78.6 292.1h1.9v1.6h-1.9zM112.7 269.1h1.9v1.6h-1.9zM123.0 272.5h1.9v1.6h-1.9zM134.6 271.0h1.9v1.6h-1.9zM109.0 270.6h1.9v1.6h-1.9zM130.5 267.8h1.9v1.6h-1.9zM130.6 267.4h1.9v1.6h-1.9zM107.5 278.3h1.9v1.6h-1.9zM119.4 288.0h1.9v1.6h-1.9zM87.7 287.9h1.9v1.6h-1.9zM106.5 276.1h1.9v1.6h-1.9zM113.3 275.6h1.9v1.6h-1.9zM109.2 277.2h1.9v1.6h-1.9zM104.2 276.0h1.9v1.6h-1.9zM98.0 274.4h1.9v1.6h-1.9zM118.0 272.5h1.9v1.6h-1.9zM124.9 278.9h1.9v1.6h-1.9zM103.2 279.0h1.9v1.6h-1.9zM98.6 298.4h1.9v1.6h-1.9zM125.4 269.5h1.9v1.6h-1.9zM106.2 281.3h1.9v1.6h-1.9zM135.9 272.6h1.9v1.6h-1.9zM106.3 283.3h1.9v1.6h-1.9zM131.4 278.1h1.9v1.6h-1.9zM114.6 274.9h1.9v1.6h-1.9zM106.0 280.3h1.9v1.6h-1.9zM98.3 282.7h1.9v1.6h-1.9zM99.0 275.7h1.9v1.6h-1.9zM96.1 274.6h1.9v1.6h-1.9zM97.9 276.8h1.9v1.6h-1.9zM128.7 264.5h1.9v1.6h-1.9zM104.0 271.4h1.9v1.6h-1.9zM134.4 271.5h1.9v1.6h-1.9zM91.3 290.2h1.9v1.6h-1.9zM112.3 273.0h1.9v1.6h-1.9zM75.0 295.7h1.9v1.6h-1.9zM80.3 282.6h1.9v1.6h-1.9zM123.1 263.9h1.9v1.6h-1.9zM106.6 285.5h1.9v1.6h-1.9zM116.0 277.1h1.9v1.6h-1.9zM109.0 275.9h1.9v1.6h-1.9zM73.5 295.1h1.9v1.6h-1.9zM84.6 289.2h1.9v1.6h-1.9zM102.3 276.7h1.9v1.6h-1.9zM84.2 289.3h1.9v1.6h-1.9zM104.8 281.3h1.9v1.6h-1.9zM85.7 287.0h1.9v1.6h-1.9zM124.0 278.7h1.9v1.6h-1.9zM80.7 293.7h1.9v1.6h-1.9zM104.4 287.5h1.9v1.6h-1.9zM78.9 292.2h1.9v1.6h-1.9zM89.2 302.7h1.9v1.6h-1.9zM88.8 291.8h1.9v1.6h-1.9zM76.7 297.6h1.9v1.6h-1.9zM74.4 300.4h1.9v1.6h-1.9zM88.1 294.7h1.9v1.6h-1.9zM66.6 300.3h1.9v1.6h-1.9zM86.5 293.9h1.9v1.6h-1.9zM88.5 290.6h1.9v1.6h-1.9zM72.1 298.3h1.9v1.6h-1.9zM70.2 297.8h1.9v1.6h-1.9zM85.9 287.8h1.9v1.6h-1.9zM81.4 292.8h1.9v1.6h-1.9zM79.3 295.3h1.9v1.6h-1.9zM82.6 297.5h1.9v1.6h-1.9zM153.8 263.4h1.9v1.6h-1.9zM131.0 265.5h1.9v1.6h-1.9zM155.3 266.6h1.9v1.6h-1.9zM159.7 260.5h1.9v1.6h-1.9zM153.7 266.6h1.9v1.6h-1.9zM164.5 265.1h1.9v1.6h-1.9zM164.4 259.9h1.9v1.6h-1.9zM139.7 265.4h1.9v1.6h-1.9zM164.8 262.6h1.9v1.6h-1.9zM139.4 262.9h1.9v1.6h-1.9zM157.8 261.1h1.9v1.6h-1.9zM153.8 268.1h1.9v1.6h-1.9zM134.0 261.2h1.9v1.6h-1.9zM129.2 257.5h1.9v1.6h-1.9zM145.2 263.2h1.9v1.6h-1.9zM158.9 267.5h1.9v1.6h-1.9zM62.7 338.8h1.9v1.6h-1.9zM143.2 269.6h1.9v1.6h-1.9zM124.2 329.9h1.9v1.6h-1.9zM144.8 335.1h1.9v1.6h-1.9zM155.3 263.7h1.9v1.6h-1.9zM333.6 326.2h1.9v1.6h-1.9zM345.6 325.3h1.9v1.6h-1.9zM352.0 330.5h1.9v1.6h-1.9zM335.5 328.5h1.9v1.6h-1.9zM335.2 328.5h1.9v1.6h-1.9zM339.0 332.6h1.9v1.6h-1.9zM346.4 328.1h1.9v1.6h-1.9zM350.1 334.4h1.9v1.6h-1.9zM339.1 330.9h1.9v1.6h-1.9zM336.4 323.8h1.9v1.6h-1.9zM332.0 325.4h1.9v1.6h-1.9zM344.4 333.3h1.9v1.6h-1.9zM353.6 330.1h1.9v1.6h-1.9zM336.7 335.0h1.9v1.6h-1.9zM344.2 335.7h1.9v1.6h-1.9zM341.4 336.3h1.9v1.6h-1.9zM347.8 323.8h1.9v1.6h-1.9zM334.5 324.6h1.9v1.6h-1.9zM355.1 327.3h1.9v1.6h-1.9zM349.3 326.2h1.9v1.6h-1.9zM343.3 335.0h1.9v1.6h-1.9zM343.9 334.9h1.9v1.6h-1.9zM342.9 326.2h1.9v1.6h-1.9zM345.4 325.5h1.9v1.6h-1.9zM354.4 331.0h1.9v1.6h-1.9zM348.4 333.7h1.9v1.6h-1.9zM344.7 320.8h1.9v1.6h-1.9zM347.5 325.8h1.9v1.6h-1.9zM349.3 323.6h1.9v1.6h-1.9zM343.3 319.3h1.9v1.6h-1.9zM342.3 321.7h1.9v1.6h-1.9zM343.7 333.0h1.9v1.6h-1.9zM347.3 327.9h1.9v1.6h-1.9zM341.4 334.3h1.9v1.6h-1.9zM340.0 326.7h1.9v1.6h-1.9zM346.8 331.3h1.9v1.6h-1.9zM348.3 329.5h1.9v1.6h-1.9zM355.6 329.5h1.9v1.6h-1.9zM343.5 322.4h1.9v1.6h-1.9zM336.2 329.9h1.9v1.6h-1.9zM336.4 327.4h1.9v1.6h-1.9zM334.0 329.2h1.9v1.6h-1.9zM347.3 324.5h1.9v1.6h-1.9zM347.3 326.9h1.9v1.6h-1.9zM347.9 328.2h1.9v1.6h-1.9zM337.0 321.7h1.9v1.6h-1.9zM351.6 327.9h1.9v1.6h-1.9zM347.1 332.5h1.9v1.6h-1.9zM349.8 328.6h1.9v1.6h-1.9zM352.7 328.4h1.9v1.6h-1.9zM345.0 329.4h1.9v1.6h-1.9zM349.3 324.5h1.9v1.6h-1.9zM347.9 331.6h1.9v1.6h-1.9zM352.8 330.9h1.9v1.6h-1.9zM350.4 325.6h1.9v1.6h-1.9zM351.2 331.1h1.9v1.6h-1.9zM352.3 329.6h1.9v1.6h-1.9zM337.5 323.8h1.9v1.6h-1.9zM337.4 322.3h1.9v1.6h-1.9zM344.2 334.4h1.9v1.6h-1.9zM351.5 329.6h1.9v1.6h-1.9zM350.0 328.3h1.9v1.6h-1.9zM337.2 331.7h1.9v1.6h-1.9zM343.5 329.4h1.9v1.6h-1.9zM347.3 326.5h1.9v1.6h-1.9zM338.5 333.1h1.9v1.6h-1.9zM335.2 322.9h1.9v1.6h-1.9zM341.8 333.3h1.9v1.6h-1.9zM334.2 328.9h1.9v1.6h-1.9zM345.5 331.2h1.9v1.6h-1.9zM346.9 329.9h1.9v1.6h-1.9zM330.8 327.7h1.9v1.6h-1.9zM343.6 328.2h1.9v1.6h-1.9zM339.0 323.0h1.9v1.6h-1.9zM339.5 320.7h1.9v1.6h-1.9zM343.3 333.7h1.9v1.6h-1.9zM354.0 330.6h1.9v1.6h-1.9zM343.0 329.9h1.9v1.6h-1.9zM338.1 322.4h1.9v1.6h-1.9zM341.4 328.2h1.9v1.6h-1.9zM356.1 329.2h1.9v1.6h-1.9zM354.4 323.0h1.9v1.6h-1.9zM351.0 323.6h1.9v1.6h-1.9zM335.1 323.5h1.9v1.6h-1.9zM341.1 333.2h1.9v1.6h-1.9zM336.5 331.5h1.9v1.6h-1.9zM346.9 322.5h1.9v1.6h-1.9zM353.2 325.1h1.9v1.6h-1.9zM353.6 328.6h1.9v1.6h-1.9zM348.7 330.1h1.9v1.6h-1.9zM336.7 332.0h1.9v1.6h-1.9zM341.6 324.9h1.9v1.6h-1.9zM337.9 326.7h1.9v1.6h-1.9zM339.7 321.0h1.9v1.6h-1.9zM336.7 325.9h1.9v1.6h-1.9zM351.3 327.2h1.9v1.6h-1.9zM344.8 335.2h1.9v1.6h-1.9zM337.7 328.4h1.9v1.6h-1.9zM339.1 336.1h1.9v1.6h-1.9zM339.6 332.2h1.9v1.6h-1.9zM351.2 324.3h1.9v1.6h-1.9zM353.5 329.1h1.9v1.6h-1.9zM333.0 328.8h1.9v1.6h-1.9zM337.9 326.5h1.9v1.6h-1.9zM346.8 327.8h1.9v1.6h-1.9zM348.4 329.7h1.9v1.6h-1.9zM335.6 322.1h1.9v1.6h-1.9zM352.1 324.7h1.9v1.6h-1.9zM348.4 335.5h1.9v1.6h-1.9zM349.9 325.7h1.9v1.6h-1.9zM348.8 320.9h1.9v1.6h-1.9zM343.7 327.9h1.9v1.6h-1.9zM348.3 325.9h1.9v1.6h-1.9zM352.4 331.4h1.9v1.6h-1.9zM348.5 332.4h1.9v1.6h-1.9zM339.9 333.5h1.9v1.6h-1.9zM335.8 325.6h1.9v1.6h-1.9zM343.7 333.7h1.9v1.6h-1.9zM347.8 336.3h1.9v1.6h-1.9zM338.7 335.4h1.9v1.6h-1.9zM349.4 322.8h1.9v1.6h-1.9zM343.8 330.5h1.9v1.6h-1.9zM352.6 331.3h1.9v1.6h-1.9zM344.4 328.8h1.9v1.6h-1.9zM353.8 331.2h1.9v1.6h-1.9zM334.3 332.1h1.9v1.6h-1.9zM355.8 329.0h1.9v1.6h-1.9zM343.6 325.9h1.9v1.6h-1.9zM351.5 322.6h1.9v1.6h-1.9zM331.5 327.3h1.9v1.6h-1.9zM340.1 332.8h1.9v1.6h-1.9zM338.1 321.8h1.9v1.6h-1.9zM348.3 335.5h1.9v1.6h-1.9zM337.5 333.1h1.9v1.6h-1.9zM339.7 330.6h1.9v1.6h-1.9zM353.7 329.1h1.9v1.6h-1.9zM346.4 323.6h1.9v1.6h-1.9zM350.4 324.5h1.9v1.6h-1.9zM349.9 327.3h1.9v1.6h-1.9zM354.0 331.1h1.9v1.6h-1.9zM336.5 333.7h1.9v1.6h-1.9zM344.1 321.2h1.9v1.6h-1.9zM339.1 325.3h1.9v1.6h-1.9zM345.0 323.1h1.9v1.6h-1.9zM347.3 327.3h1.9v1.6h-1.9zM336.3 328.8h1.9v1.6h-1.9zM347.9 326.8h1.9v1.6h-1.9zM349.4 322.0h1.9v1.6h-1.9zM341.2 326.0h1.9v1.6h-1.9zM345.1 335.0h1.9v1.6h-1.9zM345.3 329.9h1.9v1.6h-1.9zM339.4 327.6h1.9v1.6h-1.9zM350.5 323.2h1.9v1.6h-1.9zM342.7 330.0h1.9v1.6h-1.9zM340.5 335.1h1.9v1.6h-1.9zM351.3 329.3h1.9v1.6h-1.9zM333.1 328.8h1.9v1.6h-1.9zM350.9 332.7h1.9v1.6h-1.9zM340.8 329.5h1.9v1.6h-1.9zM348.4 324.9h1.9v1.6h-1.9zM347.3 331.8h1.9v1.6h-1.9zM342.9 321.3h1.9v1.6h-1.9zM349.9 323.8h1.9v1.6h-1.9zM345.7 320.1h1.9v1.6h-1.9zM345.1 330.6h1.9v1.6h-1.9zM348.4 326.3h1.9v1.6h-1.9zM344.7 330.4h1.9v1.6h-1.9zM351.5 333.3h1.9v1.6h-1.9zM343.9 321.6h1.9v1.6h-1.9zM345.9 333.4h1.9v1.6h-1.9zM334.2 329.2h1.9v1.6h-1.9zM342.5 324.1h1.9v1.6h-1.9zM342.4 328.3h1.9v1.6h-1.9zM334.1 327.3h1.9v1.6h-1.9zM332.6 328.9h1.9v1.6h-1.9zM348.4 328.7h1.9v1.6h-1.9zM334.1 330.7h1.9v1.6h-1.9zM337.5 322.9h1.9v1.6h-1.9zM349.7 335.1h1.9v1.6h-1.9zM345.2 332.2h1.9v1.6h-1.9zM338.3 335.9h1.9v1.6h-1.9zM351.3 332.0h1.9v1.6h-1.9zM353.2 333.5h1.9v1.6h-1.9zM344.1 334.7h1.9v1.6h-1.9zM350.4 322.3h1.9v1.6h-1.9zM345.7 320.6h1.9v1.6h-1.9zM342.5 321.2h1.9v1.6h-1.9zM344.8 323.7h1.9v1.6h-1.9zM349.3 333.1h1.9v1.6h-1.9zM342.4 324.6h1.9v1.6h-1.9zM351.6 330.7h1.9v1.6h-1.9zM332.1 325.5h1.9v1.6h-1.9zM348.0 326.0h1.9v1.6h-1.9zM347.5 322.8h1.9v1.6h-1.9zM347.6 330.3h1.9v1.6h-1.9zM349.4 328.0h1.9v1.6h-1.9zM352.1 328.1h1.9v1.6h-1.9zM331.7 327.0h1.9v1.6h-1.9zM349.2 330.1h1.9v1.6h-1.9zM347.5 321.9h1.9v1.6h-1.9zM342.8 332.3h1.9v1.6h-1.9zM345.5 333.0h1.9v1.6h-1.9zM339.3 326.8h1.9v1.6h-1.9zM336.6 322.6h1.9v1.6h-1.9zM346.7 323.6h1.9v1.6h-1.9zM352.9 323.8h1.9v1.6h-1.9zM352.3 330.7h1.9v1.6h-1.9zM343.6 325.5h1.9v1.6h-1.9zM342.1 334.3h1.9v1.6h-1.9zM334.6 328.9h1.9v1.6h-1.9zM353.4 325.5h1.9v1.6h-1.9zM335.8 331.5h1.9v1.6h-1.9zM334.3 328.4h1.9v1.6h-1.9zM342.0 322.5h1.9v1.6h-1.9zM351.0 327.7h1.9v1.6h-1.9zM347.6 321.6h1.9v1.6h-1.9zM343.9 326.3h1.9v1.6h-1.9zM350.5 330.9h1.9v1.6h-1.9zM347.1 329.4h1.9v1.6h-1.9zM348.1 330.2h1.9v1.6h-1.9zM341.1 334.1h1.9v1.6h-1.9zM345.8 331.8h1.9v1.6h-1.9zM352.5 326.6h1.9v1.6h-1.9zM341.4 334.3h1.9v1.6h-1.9zM347.2 332.2h1.9v1.6h-1.9zM344.9 327.2h1.9v1.6h-1.9zM343.7 323.2h1.9v1.6h-1.9zM354.0 328.1h1.9v1.6h-1.9zM336.9 320.6h1.9v1.6h-1.9zM337.7 325.4h1.9v1.6h-1.9zM337.5 322.8h1.9v1.6h-1.9zM332.5 329.1h1.9v1.6h-1.9zM351.0 332.0h1.9v1.6h-1.9zM339.3 322.0h1.9v1.6h-1.9zM353.5 332.0h1.9v1.6h-1.9zM335.8 323.5h1.9v1.6h-1.9zM342.4 323.4h1.9v1.6h-1.9zM343.7 330.1h1.9v1.6h-1.9zM351.8 325.0h1.9v1.6h-1.9zM333.0 327.9h1.9v1.6h-1.9zM355.2 324.6h1.9v1.6h-1.9zM346.5 323.7h1.9v1.6h-1.9zM347.8 332.2h1.9v1.6h-1.9zM342.3 331.3h1.9v1.6h-1.9zM346.1 323.1h1.9v1.6h-1.9zM335.4 325.5h1.9v1.6h-1.9zM336.4 330.5h1.9v1.6h-1.9zM335.4 324.7h1.9v1.6h-1.9zM340.1 323.8h1.9v1.6h-1.9zM341.3 331.1h1.9v1.6h-1.9zM342.9 333.8h1.9v1.6h-1.9zM353.7 325.5h1.9v1.6h-1.9zM340.9 336.0h1.9v1.6h-1.9zM350.8 330.0h1.9v1.6h-1.9zM333.6 329.9h1.9v1.6h-1.9zM347.4 330.3h1.9v1.6h-1.9zM336.1 336.1h1.9v1.6h-1.9zM342.1 323.9h1.9v1.6h-1.9zM349.3 326.9h1.9v1.6h-1.9zM332.9 331.0h1.9v1.6h-1.9zM343.3 324.9h1.9v1.6h-1.9zM345.6 322.0h1.9v1.6h-1.9zM353.3 333.6h1.9v1.6h-1.9zM340.4 334.2h1.9v1.6h-1.9zM347.4 322.5h1.9v1.6h-1.9zM334.8 331.2h1.9v1.6h-1.9zM338.1 329.8h1.9v1.6h-1.9zM348.7 328.2h1.9v1.6h-1.9zM355.0 325.7h1.9v1.6h-1.9zM340.0 326.8h1.9v1.6h-1.9zM347.1 334.8h1.9v1.6h-1.9zM350.9 323.6h1.9v1.6h-1.9zM335.2 330.3h1.9v1.6h-1.9zM341.1 320.0h1.9v1.6h-1.9zM337.3 328.3h1.9v1.6h-1.9zM343.6 327.3h1.9v1.6h-1.9zM341.5 321.1h1.9v1.6h-1.9zM338.4 326.4h1.9v1.6h-1.9zM346.2 326.7h1.9v1.6h-1.9zM344.9 328.0h1.9v1.6h-1.9zM339.3 334.2h1.9v1.6h-1.9zM350.3 331.9h1.9v1.6h-1.9zM331.9 330.7h1.9v1.6h-1.9zM342.4 324.0h1.9v1.6h-1.9zM348.0 323.0h1.9v1.6h-1.9zM351.3 325.5h1.9v1.6h-1.9zM343.3 328.6h1.9v1.6h-1.9zM350.7 325.2h1.9v1.6h-1.9zM340.0 332.7h1.9v1.6h-1.9zM352.6 322.5h1.9v1.6h-1.9zM350.9 327.0h1.9v1.6h-1.9zM351.7 326.6h1.9v1.6h-1.9zM334.3 325.9h1.9v1.6h-1.9zM345.9 326.0h1.9v1.6h-1.9zM342.8 330.9h1.9v1.6h-1.9zM339.5 320.5h1.9v1.6h-1.9zM347.8 331.8h1.9v1.6h-1.9zM331.8 325.9h1.9v1.6h-1.9zM346.5 326.4h1.9v1.6h-1.9zM340.9 328.9h1.9v1.6h-1.9zM340.7 329.1h1.9v1.6h-1.9zM341.0 327.0h1.9v1.6h-1.9zM334.9 332.3h1.9v1.6h-1.9zM341.3 322.9h1.9v1.6h-1.9zM337.9 328.0h1.9v1.6h-1.9zM330.9 324.8h1.9v1.6h-1.9zM340.4 324.5h1.9v1.6h-1.9zM347.9 327.2h1.9v1.6h-1.9zM340.7 331.4h1.9v1.6h-1.9zM329.7 327.1h1.9v1.6h-1.9zM341.9 321.1h1.9v1.6h-1.9zM335.2 330.4h1.9v1.6h-1.9zM346.3 334.8h1.9v1.6h-1.9zM343.6 321.9h1.9v1.6h-1.9zM345.1 321.5h1.9v1.6h-1.9zM337.2 325.0h1.9v1.6h-1.9zM338.0 332.3h1.9v1.6h-1.9zM356.4 328.1h1.9v1.6h-1.9zM347.2 323.2h1.9v1.6h-1.9zM344.8 327.4h1.9v1.6h-1.9zM349.1 332.5h1.9v1.6h-1.9zM338.6 329.8h1.9v1.6h-1.9zM341.9 332.4h1.9v1.6h-1.9zM355.1 325.5h1.9v1.6h-1.9zM341.8 328.7h1.9v1.6h-1.9zM333.0 325.1h1.9v1.6h-1.9zM341.4 329.2h1.9v1.6h-1.9zM349.0 331.1h1.9v1.6h-1.9zM338.8 333.6h1.9v1.6h-1.9zM349.4 332.1h1.9v1.6h-1.9zM345.1 326.4h1.9v1.6h-1.9zM349.5 320.7h1.9v1.6h-1.9zM341.4 328.2h1.9v1.6h-1.9zM340.3 324.7h1.9v1.6h-1.9zM350.1 328.0h1.9v1.6h-1.9zM332.4 329.5h1.9v1.6h-1.9zM336.2 329.6h1.9v1.6h-1.9zM336.1 329.6h1.9v1.6h-1.9zM345.2 324.6h1.9v1.6h-1.9zM348.6 332.0h1.9v1.6h-1.9zM348.5 325.5h1.9v1.6h-1.9zM333.2 323.0h1.9v1.6h-1.9zM347.0 320.5h1.9v1.6h-1.9zM356.8 328.2h1.9v1.6h-1.9zM345.8 334.1h1.9v1.6h-1.9zM345.3 332.1h1.9v1.6h-1.9zM352.5 326.8h1.9v1.6h-1.9zM351.4 327.9h1.9v1.6h-1.9zM346.5 320.1h1.9v1.6h-1.9zM345.6 331.8h1.9v1.6h-1.9zM337.9 334.7h1.9v1.6h-1.9zM342.2 325.9h1.9v1.6h-1.9zM346.7 320.4h1.9v1.6h-1.9zM333.7 324.7h1.9v1.6h-1.9zM354.6 326.8h1.9v1.6h-1.9zM351.7 327.1h1.9v1.6h-1.9zM355.8 325.8h1.9v1.6h-1.9zM354.6 307.1h1.9v1.6h-1.9zM337.4 309.5h1.9v1.6h-1.9zM354.8 319.5h1.9v1.6h-1.9zM358.6 315.4h1.9v1.6h-1.9zM348.0 306.7h1.9v1.6h-1.9zM360.1 309.0h1.9v1.6h-1.9zM358.8 312.2h1.9v1.6h-1.9zM345.0 313.5h1.9v1.6h-1.9zM364.4 307.9h1.9v1.6h-1.9zM355.5 310.2h1.9v1.6h-1.9zM350.9 316.4h1.9v1.6h-1.9zM351.2 305.1h1.9v1.6h-1.9zM339.9 314.7h1.9v1.6h-1.9zM346.3 313.6h1.9v1.6h-1.9zM338.3 313.8h1.9v1.6h-1.9zM336.7 313.6h1.9v1.6h-1.9zM357.4 307.6h1.9v1.6h-1.9zM349.8 305.7h1.9v1.6h-1.9zM361.3 313.6h1.9v1.6h-1.9zM355.0 310.9h1.9v1.6h-1.9zM347.3 310.4h1.9v1.6h-1.9zM340.3 315.5h1.9v1.6h-1.9zM340.8 306.0h1.9v1.6h-1.9zM343.7 318.8h1.9v1.6h-1.9zM361.1 314.3h1.9v1.6h-1.9zM366.9 309.2h1.9v1.6h-1.9zM347.0 313.9h1.9v1.6h-1.9zM341.8 308.1h1.9v1.6h-1.9zM355.5 308.0h1.9v1.6h-1.9zM342.2 317.1h1.9v1.6h-1.9zM351.1 306.3h1.9v1.6h-1.9zM345.9 310.3h1.9v1.6h-1.9zM354.0 313.1h1.9v1.6h-1.9zM344.4 305.7h1.9v1.6h-1.9zM341.3 310.2h1.9v1.6h-1.9zM366.3 314.2h1.9v1.6h-1.9zM353.1 306.7h1.9v1.6h-1.9zM339.6 317.0h1.9v1.6h-1.9zM347.3 308.0h1.9v1.6h-1.9zM359.5 305.4h1.9v1.6h-1.9zM362.5 313.0h1.9v1.6h-1.9zM353.1 312.8h1.9v1.6h-1.9zM356.1 307.4h1.9v1.6h-1.9zM342.4 314.2h1.9v1.6h-1.9zM361.2 311.1h1.9v1.6h-1.9zM359.3 309.9h1.9v1.6h-1.9zM345.9 308.1h1.9v1.6h-1.9zM350.2 305.9h1.9v1.6h-1.9zM346.9 309.9h1.9v1.6h-1.9zM342.9 314.0h1.9v1.6h-1.9zM348.0 321.3h1.9v1.6h-1.9zM338.7 309.4h1.9v1.6h-1.9zM346.7 311.8h1.9v1.6h-1.9zM360.9 311.8h1.9v1.6h-1.9zM341.9 314.3h1.9v1.6h-1.9zM346.4 307.0h1.9v1.6h-1.9zM353.0 304.2h1.9v1.6h-1.9zM347.5 312.8h1.9v1.6h-1.9zM341.1 307.9h1.9v1.6h-1.9zM362.5 305.8h1.9v1.6h-1.9zM340.4 311.7h1.9v1.6h-1.9zM353.5 314.9h1.9v1.6h-1.9zM358.4 315.7h1.9v1.6h-1.9zM351.0 318.2h1.9v1.6h-1.9zM364.4 315.4h1.9v1.6h-1.9zM361.2 316.3h1.9v1.6h-1.9zM360.6 314.0h1.9v1.6h-1.9zM345.8 313.8h1.9v1.6h-1.9zM342.1 308.9h1.9v1.6h-1.9zM344.0 308.3h1.9v1.6h-1.9zM353.4 312.2h1.9v1.6h-1.9zM356.7 316.9h1.9v1.6h-1.9zM351.4 316.3h1.9v1.6h-1.9zM351.3 314.2h1.9v1.6h-1.9zM365.0 310.4h1.9v1.6h-1.9zM348.5 305.5h1.9v1.6h-1.9zM344.0 315.3h1.9v1.6h-1.9zM362.8 316.9h1.9v1.6h-1.9zM336.0 314.5h1.9v1.6h-1.9zM353.5 314.8h1.9v1.6h-1.9zM342.6 311.2h1.9v1.6h-1.9zM364.0 308.7h1.9v1.6h-1.9zM354.7 309.7h1.9v1.6h-1.9zM360.0 312.6h1.9v1.6h-1.9zM343.4 315.5h1.9v1.6h-1.9zM344.5 308.2h1.9v1.6h-1.9zM366.8 310.1h1.9v1.6h-1.9zM341.6 305.6h1.9v1.6h-1.9zM341.7 309.3h1.9v1.6h-1.9zM361.5 310.4h1.9v1.6h-1.9zM352.6 310.5h1.9v1.6h-1.9zM353.8 311.3h1.9v1.6h-1.9zM340.4 315.5h1.9v1.6h-1.9zM345.2 318.0h1.9v1.6h-1.9zM338.4 307.4h1.9v1.6h-1.9zM343.8 308.0h1.9v1.6h-1.9zM353.6 313.3h1.9v1.6h-1.9zM356.6 306.6h1.9v1.6h-1.9zM354.9 310.3h1.9v1.6h-1.9zM364.3 306.6h1.9v1.6h-1.9zM344.8 313.1h1.9v1.6h-1.9zM353.8 317.1h1.9v1.6h-1.9zM343.8 305.1h1.9v1.6h-1.9zM356.7 307.9h1.9v1.6h-1.9zM357.4 310.6h1.9v1.6h-1.9zM358.7 307.9h1.9v1.6h-1.9zM345.0 310.6h1.9v1.6h-1.9zM341.8 310.8h1.9v1.6h-1.9zM350.1 304.4h1.9v1.6h-1.9zM341.9 313.8h1.9v1.6h-1.9zM354.1 311.6h1.9v1.6h-1.9zM349.4 307.8h1.9v1.6h-1.9zM357.6 310.2h1.9v1.6h-1.9zM339.9 314.3h1.9v1.6h-1.9zM344.9 305.7h1.9v1.6h-1.9zM341.7 309.7h1.9v1.6h-1.9zM342.7 304.5h1.9v1.6h-1.9zM354.6 309.9h1.9v1.6h-1.9zM353.8 313.1h1.9v1.6h-1.9zM351.1 315.3h1.9v1.6h-1.9zM355.4 311.2h1.9v1.6h-1.9zM356.0 312.0h1.9v1.6h-1.9zM358.1 311.9h1.9v1.6h-1.9zM353.3 306.3h1.9v1.6h-1.9zM349.0 311.2h1.9v1.6h-1.9zM351.8 302.8h1.9v1.6h-1.9zM336.9 308.3h1.9v1.6h-1.9zM356.8 306.7h1.9v1.6h-1.9zM353.2 317.9h1.9v1.6h-1.9zM356.0 313.6h1.9v1.6h-1.9zM350.0 305.2h1.9v1.6h-1.9zM339.5 309.6h1.9v1.6h-1.9zM345.2 314.0h1.9v1.6h-1.9zM345.9 315.9h1.9v1.6h-1.9zM338.6 312.7h1.9v1.6h-1.9zM361.0 317.9h1.9v1.6h-1.9zM350.9 314.2h1.9v1.6h-1.9zM365.9 316.9h1.9v1.6h-1.9zM364.7 313.7h1.9v1.6h-1.9zM364.6 315.4h1.9v1.6h-1.9zM350.4 319.8h1.9v1.6h-1.9zM363.2 311.5h1.9v1.6h-1.9zM359.6 309.6h1.9v1.6h-1.9zM354.6 307.8h1.9v1.6h-1.9zM346.1 305.8h1.9v1.6h-1.9zM355.3 316.5h1.9v1.6h-1.9zM342.8 313.7h1.9v1.6h-1.9zM341.4 312.1h1.9v1.6h-1.9zM341.5 308.8h1.9v1.6h-1.9zM358.2 306.2h1.9v1.6h-1.9zM354.4 319.3h1.9v1.6h-1.9zM358.3 314.6h1.9v1.6h-1.9zM344.6 311.0h1.9v1.6h-1.9zM344.2 309.5h1.9v1.6h-1.9zM366.1 308.5h1.9v1.6h-1.9zM345.9 310.7h1.9v1.6h-1.9zM357.1 305.2h1.9v1.6h-1.9zM336.5 308.9h1.9v1.6h-1.9zM347.4 316.1h1.9v1.6h-1.9zM350.2 309.0h1.9v1.6h-1.9zM352.6 310.6h1.9v1.6h-1.9zM356.7 307.8h1.9v1.6h-1.9zM357.3 309.1h1.9v1.6h-1.9zM345.9 315.5h1.9v1.6h-1.9zM349.8 316.5h1.9v1.6h-1.9zM354.9 318.3h1.9v1.6h-1.9zM347.0 310.9h1.9v1.6h-1.9zM364.0 307.0h1.9v1.6h-1.9zM343.8 312.2h1.9v1.6h-1.9zM350.4 308.3h1.9v1.6h-1.9zM359.6 315.8h1.9v1.6h-1.9zM349.2 310.2h1.9v1.6h-1.9zM348.0 315.8h1.9v1.6h-1.9zM363.7 307.5h1.9v1.6h-1.9zM350.1 315.1h1.9v1.6h-1.9zM352.1 306.3h1.9v1.6h-1.9zM358.6 308.0h1.9v1.6h-1.9zM357.4 312.2h1.9v1.6h-1.9zM343.6 307.3h1.9v1.6h-1.9zM356.7 320.6h1.9v1.6h-1.9zM340.8 314.7h1.9v1.6h-1.9zM357.9 313.6h1.9v1.6h-1.9zM353.8 304.3h1.9v1.6h-1.9zM365.2 312.5h1.9v1.6h-1.9zM354.0 312.0h1.9v1.6h-1.9zM352.8 310.0h1.9v1.6h-1.9zM337.6 312.5h1.9v1.6h-1.9zM355.2 314.8h1.9v1.6h-1.9zM338.8 317.9h1.9v1.6h-1.9zM350.6 308.7h1.9v1.6h-1.9zM354.9 314.7h1.9v1.6h-1.9zM349.7 305.8h1.9v1.6h-1.9zM347.5 308.8h1.9v1.6h-1.9zM367.0 313.1h1.9v1.6h-1.9zM364.8 310.9h1.9v1.6h-1.9zM343.7 319.7h1.9v1.6h-1.9zM343.5 307.3h1.9v1.6h-1.9zM356.7 318.0h1.9v1.6h-1.9zM344.5 309.2h1.9v1.6h-1.9zM358.7 310.5h1.9v1.6h-1.9zM338.2 314.9h1.9v1.6h-1.9zM365.9 308.1h1.9v1.6h-1.9zM348.0 309.1h1.9v1.6h-1.9zM358.0 316.3h1.9v1.6h-1.9zM340.3 314.1h1.9v1.6h-1.9zM337.0 315.6h1.9v1.6h-1.9zM367.9 310.5h1.9v1.6h-1.9zM351.5 308.7h1.9v1.6h-1.9zM337.8 311.9h1.9v1.6h-1.9zM348.8 309.5h1.9v1.6h-1.9zM343.2 314.9h1.9v1.6h-1.9zM353.4 310.0h1.9v1.6h-1.9zM352.3 303.0h1.9v1.6h-1.9zM340.6 314.2h1.9v1.6h-1.9zM357.4 306.6h1.9v1.6h-1.9zM350.9 308.1h1.9v1.6h-1.9zM344.4 310.0h1.9v1.6h-1.9zM345.9 309.2h1.9v1.6h-1.9zM359.2 307.6h1.9v1.6h-1.9zM346.7 313.8h1.9v1.6h-1.9zM337.5 315.3h1.9v1.6h-1.9zM351.1 307.6h1.9v1.6h-1.9zM342.5 317.1h1.9v1.6h-1.9zM356.4 319.1h1.9v1.6h-1.9zM355.7 310.2h1.9v1.6h-1.9zM342.1 311.0h1.9v1.6h-1.9zM345.9 319.0h1.9v1.6h-1.9zM345.6 309.4h1.9v1.6h-1.9zM349.2 307.0h1.9v1.6h-1.9zM337.9 311.6h1.9v1.6h-1.9zM355.3 316.5h1.9v1.6h-1.9zM357.6 310.3h1.9v1.6h-1.9zM347.9 316.3h1.9v1.6h-1.9zM352.4 314.3h1.9v1.6h-1.9zM343.8 317.4h1.9v1.6h-1.9zM349.3 310.9h1.9v1.6h-1.9zM363.0 310.3h1.9v1.6h-1.9zM354.5 308.6h1.9v1.6h-1.9zM365.8 311.8h1.9v1.6h-1.9zM345.8 312.1h1.9v1.6h-1.9zM363.4 309.3h1.9v1.6h-1.9zM363.4 316.7h1.9v1.6h-1.9zM350.6 317.7h1.9v1.6h-1.9zM348.1 317.5h1.9v1.6h-1.9zM357.1 312.5h1.9v1.6h-1.9zM349.1 304.7h1.9v1.6h-1.9zM351.6 304.8h1.9v1.6h-1.9zM338.7 316.8h1.9v1.6h-1.9zM357.3 312.1h1.9v1.6h-1.9zM346.7 307.0h1.9v1.6h-1.9zM340.7 307.2h1.9v1.6h-1.9zM340.0 318.0h1.9v1.6h-1.9zM357.8 307.2h1.9v1.6h-1.9zM346.1 313.9h1.9v1.6h-1.9zM343.2 309.5h1.9v1.6h-1.9zM347.4 315.3h1.9v1.6h-1.9zM367.3 311.3h1.9v1.6h-1.9zM349.2 305.7h1.9v1.6h-1.9zM364.4 310.1h1.9v1.6h-1.9zM356.0 309.6h1.9v1.6h-1.9zM334.2 313.6h1.9v1.6h-1.9zM348.4 318.0h1.9v1.6h-1.9zM353.1 313.0h1.9v1.6h-1.9zM335.1 308.8h1.9v1.6h-1.9zM359.4 311.5h1.9v1.6h-1.9zM363.2 311.3h1.9v1.6h-1.9zM343.4 308.6h1.9v1.6h-1.9zM342.2 304.6h1.9v1.6h-1.9zM346.7 317.9h1.9v1.6h-1.9zM363.4 310.2h1.9v1.6h-1.9zM344.6 316.1h1.9v1.6h-1.9zM357.9 310.8h1.9v1.6h-1.9zM353.8 303.7h1.9v1.6h-1.9zM361.5 314.6h1.9v1.6h-1.9zM344.8 315.8h1.9v1.6h-1.9zM343.3 313.6h1.9v1.6h-1.9zM337.5 316.3h1.9v1.6h-1.9zM345.5 307.3h1.9v1.6h-1.9zM346.3 306.6h1.9v1.6h-1.9zM353.2 310.2h1.9v1.6h-1.9zM355.0 305.5h1.9v1.6h-1.9zM348.1 318.9h1.9v1.6h-1.9zM352.2 319.7h1.9v1.6h-1.9zM367.7 314.3h1.9v1.6h-1.9zM348.8 312.5h1.9v1.6h-1.9zM338.4 315.5h1.9v1.6h-1.9zM362.5 309.2h1.9v1.6h-1.9zM353.2 309.9h1.9v1.6h-1.9zM361.1 307.0h1.9v1.6h-1.9zM346.8 318.4h1.9v1.6h-1.9zM346.4 317.0h1.9v1.6h-1.9zM357.3 313.0h1.9v1.6h-1.9zM346.6 315.9h1.9v1.6h-1.9zM347.4 316.5h1.9v1.6h-1.9zM351.9 309.7h1.9v1.6h-1.9zM341.8 314.8h1.9v1.6h-1.9zM340.2 309.1h1.9v1.6h-1.9zM338.2 316.2h1.9v1.6h-1.9zM352.1 317.5h1.9v1.6h-1.9zM352.1 315.1h1.9v1.6h-1.9zM340.4 309.2h1.9v1.6h-1.9zM348.7 315.9h1.9v1.6h-1.9zM362.2 307.2h1.9v1.6h-1.9zM340.1 316.7h1.9v1.6h-1.9zM355.0 314.3h1.9v1.6h-1.9zM341.7 308.3h1.9v1.6h-1.9zM364.8 312.3h1.9v1.6h-1.9zM364.7 313.4h1.9v1.6h-1.9zM354.1 316.9h1.9v1.6h-1.9zM351.1 313.5h1.9v1.6h-1.9zM336.6 311.5h1.9v1.6h-1.9zM354.0 312.0h1.9v1.6h-1.9zM356.6 317.1h1.9v1.6h-1.9zM353.5 315.4h1.9v1.6h-1.9zM355.4 306.7h1.9v1.6h-1.9zM348.6 317.8h1.9v1.6h-1.9zM368.0 312.0h1.9v1.6h-1.9zM351.4 311.9h1.9v1.6h-1.9zM340.6 314.6h1.9v1.6h-1.9zM358.1 317.5h1.9v1.6h-1.9zM349.5 313.4h1.9v1.6h-1.9zM358.3 306.4h1.9v1.6h-1.9zM340.2 311.3h1.9v1.6h-1.9zM352.9 306.0h1.9v1.6h-1.9zM352.2 316.4h1.9v1.6h-1.9zM343.8 320.4h1.9v1.6h-1.9zM354.1 306.8h1.9v1.6h-1.9zM354.5 316.5h1.9v1.6h-1.9zM337.1 311.1h1.9v1.6h-1.9zM356.0 310.4h1.9v1.6h-1.9zM352.0 314.1h1.9v1.6h-1.9zM353.2 315.7h1.9v1.6h-1.9zM343.6 313.5h1.9v1.6h-1.9zM333.9 313.0h1.9v1.6h-1.9zM348.1 311.7h1.9v1.6h-1.9zM360.2 315.6h1.9v1.6h-1.9zM338.4 307.6h1.9v1.6h-1.9zM349.1 315.3h1.9v1.6h-1.9zM352.1 312.0h1.9v1.6h-1.9zM360.8 310.0h1.9v1.6h-1.9zM349.1 305.7h1.9v1.6h-1.9zM364.0 308.3h1.9v1.6h-1.9zM360.1 308.7h1.9v1.6h-1.9zM359.4 311.7h1.9v1.6h-1.9zM342.4 308.3h1.9v1.6h-1.9zM350.3 318.4h1.9v1.6h-1.9zM363.8 311.8h1.9v1.6h-1.9zM336.9 311.7h1.9v1.6h-1.9zM341.0 310.1h1.9v1.6h-1.9zM355.8 315.4h1.9v1.6h-1.9zM354.4 305.5h1.9v1.6h-1.9zM341.1 316.6h1.9v1.6h-1.9zM344.2 315.6h1.9v1.6h-1.9zM351.2 319.2h1.9v1.6h-1.9zM357.4 313.2h1.9v1.6h-1.9zM345.4 310.2h1.9v1.6h-1.9zM359.2 312.7h1.9v1.6h-1.9zM344.5 307.7h1.9v1.6h-1.9zM363.3 316.9h1.9v1.6h-1.9zM357.1 308.4h1.9v1.6h-1.9zM358.7 313.0h1.9v1.6h-1.9zM349.5 314.0h1.9v1.6h-1.9zM338.5 315.6h1.9v1.6h-1.9zM350.0 310.7h1.9v1.6h-1.9zM344.0 308.9h1.9v1.6h-1.9zM345.9 308.7h1.9v1.6h-1.9zM360.1 308.2h1.9v1.6h-1.9zM357.9 310.1h1.9v1.6h-1.9zM336.4 310.0h1.9v1.6h-1.9zM357.1 308.3h1.9v1.6h-1.9zM355.7 316.9h1.9v1.6h-1.9zM356.2 311.1h1.9v1.6h-1.9zM352.0 311.6h1.9v1.6h-1.9zM352.7 316.2h1.9v1.6h-1.9zM346.1 312.9h1.9v1.6h-1.9zM347.2 318.7h1.9v1.6h-1.9zM347.1 295.8h1.9v1.6h-1.9zM351.0 290.5h1.9v1.6h-1.9zM382.6 270.0h1.9v1.6h-1.9zM386.3 268.0h1.9v1.6h-1.9zM354.2 300.6h1.9v1.6h-1.9zM338.9 297.0h1.9v1.6h-1.9zM372.7 281.8h1.9v1.6h-1.9zM377.2 267.7h1.9v1.6h-1.9zM374.7 267.3h1.9v1.6h-1.9zM343.3 292.0h1.9v1.6h-1.9zM355.9 293.1h1.9v1.6h-1.9zM367.2 270.8h1.9v1.6h-1.9zM343.6 296.2h1.9v1.6h-1.9zM390.2 267.2h1.9v1.6h-1.9zM346.9 282.3h1.9v1.6h-1.9zM342.8 292.6h1.9v1.6h-1.9zM382.8 273.9h1.9v1.6h-1.9zM342.7 289.7h1.9v1.6h-1.9zM341.2 301.3h1.9v1.6h-1.9zM340.6 293.0h1.9v1.6h-1.9zM368.7 268.6h1.9v1.6h-1.9zM375.6 276.0h1.9v1.6h-1.9zM385.9 273.6h1.9v1.6h-1.9zM340.4 301.5h1.9v1.6h-1.9zM378.9 285.9h1.9v1.6h-1.9zM386.6 274.6h1.9v1.6h-1.9zM337.9 296.3h1.9v1.6h-1.9zM386.1 267.6h1.9v1.6h-1.9zM359.5 287.6h1.9v1.6h-1.9zM377.2 267.9h1.9v1.6h-1.9zM354.5 277.2h1.9v1.6h-1.9zM377.2 284.3h1.9v1.6h-1.9zM369.9 288.1h1.9v1.6h-1.9zM342.7 284.9h1.9v1.6h-1.9zM375.0 270.6h1.9v1.6h-1.9zM373.4 285.2h1.9v1.6h-1.9zM367.0 283.6h1.9v1.6h-1.9zM355.7 293.1h1.9v1.6h-1.9zM371.2 284.5h1.9v1.6h-1.9zM342.9 285.8h1.9v1.6h-1.9zM368.3 279.4h1.9v1.6h-1.9zM358.1 275.3h1.9v1.6h-1.9zM359.3 296.5h1.9v1.6h-1.9zM349.2 287.1h1.9v1.6h-1.9zM371.2 290.1h1.9v1.6h-1.9zM381.0 262.8h1.9v1.6h-1.9zM388.5 276.4h1.9v1.6h-1.9zM342.9 298.9h1.9v1.6h-1.9zM368.9 273.6h1.9v1.6h-1.9zM342.2 288.9h1.9v1.6h-1.9zM387.4 267.1h1.9v1.6h-1.9zM382.1 270.1h1.9v1.6h-1.9zM350.4 304.0h1.9v1.6h-1.9zM341.9 304.5h1.9v1.6h-1.9zM377.1 278.7h1.9v1.6h-1.9zM344.2 285.7h1.9v1.6h-1.9zM368.0 284.5h1.9v1.6h-1.9zM380.1 275.2h1.9v1.6h-1.9zM353.1 295.6h1.9v1.6h-1.9zM353.1 295.9h1.9v1.6h-1.9zM382.9 266.1h1.9v1.6h-1.9zM369.7 288.4h1.9v1.6h-1.9zM356.6 288.8h1.9v1.6h-1.9zM359.4 285.0h1.9v1.6h-1.9zM369.6 276.9h1.9v1.6h-1.9zM385.2 275.2h1.9v1.6h-1.9zM380.8 275.4h1.9v1.6h-1.9zM358.1 288.9h1.9v1.6h-1.9zM379.3 271.4h1.9v1.6h-1.9zM355.9 282.2h1.9v1.6h-1.9zM346.0 284.1h1.9v1.6h-1.9zM350.6 296.5h1.9v1.6h-1.9zM386.3 271.1h1.9v1.6h-1.9zM344.1 281.6h1.9v1.6h-1.9zM344.3 297.1h1.9v1.6h-1.9zM364.1 278.3h1.9v1.6h-1.9zM370.7 287.8h1.9v1.6h-1.9zM352.1 284.3h1.9v1.6h-1.9zM351.8 284.4h1.9v1.6h-1.9zM350.7 299.4h1.9v1.6h-1.9zM376.2 285.8h1.9v1.6h-1.9zM376.1 269.3h1.9v1.6h-1.9zM362.8 290.0h1.9v1.6h-1.9zM355.4 286.0h1.9v1.6h-1.9zM373.7 287.4h1.9v1.6h-1.9zM374.0 267.3h1.9v1.6h-1.9zM346.2 287.0h1.9v1.6h-1.9zM369.0 276.1h1.9v1.6h-1.9zM353.3 297.3h1.9v1.6h-1.9zM378.9 271.7h1.9v1.6h-1.9zM344.8 284.6h1.9v1.6h-1.9zM344.9 285.5h1.9v1.6h-1.9zM356.1 295.3h1.9v1.6h-1.9zM350.6 287.2h1.9v1.6h-1.9zM390.2 273.4h1.9v1.6h-1.9zM369.6 269.3h1.9v1.6h-1.9zM344.6 285.1h1.9v1.6h-1.9zM367.5 281.1h1.9v1.6h-1.9zM375.0 267.3h1.9v1.6h-1.9zM349.3 279.9h1.9v1.6h-1.9zM364.7 273.9h1.9v1.6h-1.9zM349.9 304.2h1.9v1.6h-1.9zM359.1 275.9h1.9v1.6h-1.9zM354.0 295.8h1.9v1.6h-1.9zM345.5 303.0h1.9v1.6h-1.9zM372.7 269.7h1.9v1.6h-1.9zM384.8 278.8h1.9v1.6h-1.9zM350.7 283.0h1.9v1.6h-1.9zM358.7 275.3h1.9v1.6h-1.9zM354.0 295.4h1.9v1.6h-1.9zM360.9 273.9h1.9v1.6h-1.9zM360.8 270.2h1.9v1.6h-1.9zM358.6 283.0h1.9v1.6h-1.9zM380.1 269.8h1.9v1.6h-1.9zM388.2 274.6h1.9v1.6h-1.9zM379.1 269.7h1.9v1.6h-1.9zM377.8 270.9h1.9v1.6h-1.9zM368.9 271.4h1.9v1.6h-1.9zM350.4 294.8h1.9v1.6h-1.9zM360.5 293.6h1.9v1.6h-1.9zM346.6 286.8h1.9v1.6h-1.9zM346.6 295.8h1.9v1.6h-1.9zM370.6 283.8h1.9v1.6h-1.9zM379.2 283.4h1.9v1.6h-1.9zM348.0 280.6h1.9v1.6h-1.9zM383.2 266.6h1.9v1.6h-1.9zM344.3 285.9h1.9v1.6h-1.9zM370.6 285.5h1.9v1.6h-1.9zM369.1 271.3h1.9v1.6h-1.9zM348.2 282.4h1.9v1.6h-1.9zM354.6 282.2h1.9v1.6h-1.9zM375.7 286.2h1.9v1.6h-1.9zM356.9 275.4h1.9v1.6h-1.9zM385.4 275.3h1.9v1.6h-1.9zM354.2 285.0h1.9v1.6h-1.9zM384.8 278.2h1.9v1.6h-1.9zM352.2 305.0h1.9v1.6h-1.9zM364.2 294.0h1.9v1.6h-1.9zM344.1 304.8h1.9v1.6h-1.9zM351.2 291.1h1.9v1.6h-1.9zM364.4 285.0h1.9v1.6h-1.9zM347.0 287.6h1.9v1.6h-1.9zM350.2 277.6h1.9v1.6h-1.9zM352.0 293.4h1.9v1.6h-1.9zM372.7 287.4h1.9v1.6h-1.9zM344.3 284.6h1.9v1.6h-1.9zM374.1 272.8h1.9v1.6h-1.9zM357.9 288.1h1.9v1.6h-1.9zM362.8 283.9h1.9v1.6h-1.9zM347.4 280.7h1.9v1.6h-1.9zM363.8 277.8h1.9v1.6h-1.9zM352.4 288.4h1.9v1.6h-1.9zM344.4 282.6h1.9v1.6h-1.9zM371.7 269.8h1.9v1.6h-1.9zM347.2 287.1h1.9v1.6h-1.9zM341.1 296.8h1.9v1.6h-1.9zM348.9 278.2h1.9v1.6h-1.9zM359.2 289.0h1.9v1.6h-1.9zM361.3 284.6h1.9v1.6h-1.9zM379.8 278.6h1.9v1.6h-1.9zM355.7 294.3h1.9v1.6h-1.9zM345.8 287.6h1.9v1.6h-1.9zM343.5 300.1h1.9v1.6h-1.9zM343.7 291.1h1.9v1.6h-1.9zM377.8 270.9h1.9v1.6h-1.9zM349.3 280.0h1.9v1.6h-1.9zM382.9 269.2h1.9v1.6h-1.9zM369.4 277.6h1.9v1.6h-1.9zM373.4 280.5h1.9v1.6h-1.9zM355.5 300.5h1.9v1.6h-1.9zM372.5 271.7h1.9v1.6h-1.9zM375.4 271.2h1.9v1.6h-1.9zM373.1 286.5h1.9v1.6h-1.9zM342.5 297.5h1.9v1.6h-1.9zM364.5 294.9h1.9v1.6h-1.9zM368.7 293.2h1.9v1.6h-1.9zM353.1 286.7h1.9v1.6h-1.9zM356.0 298.7h1.9v1.6h-1.9zM386.7 266.6h1.9v1.6h-1.9zM377.7 273.9h1.9v1.6h-1.9zM365.3 276.0h1.9v1.6h-1.9zM382.2 277.4h1.9v1.6h-1.9zM375.4 287.6h1.9v1.6h-1.9zM362.7 292.6h1.9v1.6h-1.9zM353.6 275.0h1.9v1.6h-1.9zM366.0 284.6h1.9v1.6h-1.9zM371.8 272.3h1.9v1.6h-1.9zM357.9 294.2h1.9v1.6h-1.9zM351.8 287.4h1.9v1.6h-1.9zM359.2 276.8h1.9v1.6h-1.9zM374.7 286.6h1.9v1.6h-1.9zM357.2 286.6h1.9v1.6h-1.9zM379.9 271.9h1.9v1.6h-1.9zM341.5 291.0h1.9v1.6h-1.9zM386.9 262.8h1.9v1.6h-1.9zM370.8 284.9h1.9v1.6h-1.9zM369.3 267.9h1.9v1.6h-1.9zM383.8 270.6h1.9v1.6h-1.9zM373.4 272.2h1.9v1.6h-1.9zM359.0 295.6h1.9v1.6h-1.9zM366.6 286.6h1.9v1.6h-1.9zM364.8 278.7h1.9v1.6h-1.9zM356.5 281.3h1.9v1.6h-1.9zM367.8 293.4h1.9v1.6h-1.9zM367.5 275.1h1.9v1.6h-1.9zM353.3 281.5h1.9v1.6h-1.9zM381.8 268.2h1.9v1.6h-1.9zM366.4 293.4h1.9v1.6h-1.9zM359.3 280.6h1.9v1.6h-1.9zM376.0 267.1h1.9v1.6h-1.9zM373.0 281.2h1.9v1.6h-1.9zM375.2 282.2h1.9v1.6h-1.9zM346.1 283.9h1.9v1.6h-1.9zM352.0 272.8h1.9v1.6h-1.9zM369.7 279.4h1.9v1.6h-1.9zM356.8 286.6h1.9v1.6h-1.9zM376.3 286.0h1.9v1.6h-1.9zM360.9 271.9h1.9v1.6h-1.9zM347.8 292.7h1.9v1.6h-1.9zM350.2 278.0h1.9v1.6h-1.9zM383.8 277.3h1.9v1.6h-1.9zM351.1 276.8h1.9v1.6h-1.9zM382.0 271.7h1.9v1.6h-1.9zM359.9 282.5h1.9v1.6h-1.9zM360.9 276.3h1.9v1.6h-1.9zM348.9 293.5h1.9v1.6h-1.9zM360.9 279.4h1.9v1.6h-1.9zM357.3 277.5h1.9v1.6h-1.9zM361.9 270.5h1.9v1.6h-1.9zM361.1 275.8h1.9v1.6h-1.9zM346.7 303.7h1.9v1.6h-1.9zM384.2 262.5h1.9v1.6h-1.9zM352.9 296.9h1.9v1.6h-1.9zM349.1 285.4h1.9v1.6h-1.9zM351.9 285.6h1.9v1.6h-1.9zM361.4 286.3h1.9v1.6h-1.9zM358.8 294.3h1.9v1.6h-1.9zM378.4 272.8h1.9v1.6h-1.9zM338.8 300.9h1.9v1.6h-1.9zM348.3 287.5h1.9v1.6h-1.9zM374.5 275.6h1.9v1.6h-1.9zM374.9 286.6h1.9v1.6h-1.9zM347.1 290.5h1.9v1.6h-1.9zM361.0 271.5h1.9v1.6h-1.9zM353.2 278.2h1.9v1.6h-1.9zM358.4 286.8h1.9v1.6h-1.9zM363.2 293.8h1.9v1.6h-1.9zM360.0 287.1h1.9v1.6h-1.9zM367.3 276.5h1.9v1.6h-1.9zM370.2 265.7h1.9v1.6h-1.9zM371.2 281.4h1.9v1.6h-1.9zM350.0 295.6h1.9v1.6h-1.9zM386.0 275.8h1.9v1.6h-1.9zM362.4 269.4h1.9v1.6h-1.9zM340.3 299.9h1.9v1.6h-1.9zM361.9 290.8h1.9v1.6h-1.9zM356.2 294.6h1.9v1.6h-1.9zM360.4 286.5h1.9v1.6h-1.9zM342.0 296.3h1.9v1.6h-1.9zM365.5 279.2h1.9v1.6h-1.9zM380.4 264.9h1.9v1.6h-1.9zM354.4 295.9h1.9v1.6h-1.9zM381.4 262.0h1.9v1.6h-1.9zM345.5 302.7h1.9v1.6h-1.9zM351.3 288.4h1.9v1.6h-1.9zM365.0 289.0h1.9v1.6h-1.9zM350.3 288.5h1.9v1.6h-1.9zM365.3 282.6h1.9v1.6h-1.9zM367.6 276.3h1.9v1.6h-1.9zM372.6 276.1h1.9v1.6h-1.9zM339.3 297.8h1.9v1.6h-1.9zM345.4 304.4h1.9v1.6h-1.9zM374.5 284.1h1.9v1.6h-1.9zM358.8 276.4h1.9v1.6h-1.9zM379.7 274.3h1.9v1.6h-1.9zM377.5 285.9h1.9v1.6h-1.9zM365.7 278.2h1.9v1.6h-1.9zM370.2 273.9h1.9v1.6h-1.9zM389.2 265.4h1.9v1.6h-1.9zM359.3 287.9h1.9v1.6h-1.9zM375.3 284.1h1.9v1.6h-1.9zM384.2 276.9h1.9v1.6h-1.9zM342.6 294.0h1.9v1.6h-1.9zM345.6 295.4h1.9v1.6h-1.9zM351.2 280.6h1.9v1.6h-1.9zM375.8 280.0h1.9v1.6h-1.9zM385.8 267.4h1.9v1.6h-1.9zM374.7 285.6h1.9v1.6h-1.9zM345.1 304.4h1.9v1.6h-1.9zM365.1 283.7h1.9v1.6h-1.9zM365.2 293.1h1.9v1.6h-1.9zM351.1 283.8h1.9v1.6h-1.9zM377.8 283.8h1.9v1.6h-1.9zM363.5 291.6h1.9v1.6h-1.9zM345.5 287.9h1.9v1.6h-1.9zM379.6 270.3h1.9v1.6h-1.9zM364.3 295.5h1.9v1.6h-1.9zM351.2 284.5h1.9v1.6h-1.9zM353.3 284.9h1.9v1.6h-1.9zM365.1 296.6h1.9v1.6h-1.9zM359.8 280.3h1.9v1.6h-1.9zM347.8 284.9h1.9v1.6h-1.9zM372.1 288.3h1.9v1.6h-1.9zM371.1 274.6h1.9v1.6h-1.9zM374.5 270.4h1.9v1.6h-1.9zM362.0 289.3h1.9v1.6h-1.9zM357.0 289.2h1.9v1.6h-1.9zM355.8 300.1h1.9v1.6h-1.9zM345.6 293.4h1.9v1.6h-1.9zM370.2 285.7h1.9v1.6h-1.9zM351.2 277.2h1.9v1.6h-1.9zM359.9 283.5h1.9v1.6h-1.9zM359.3 274.3h1.9v1.6h-1.9zM383.3 273.6h1.9v1.6h-1.9zM347.6 286.0h1.9v1.6h-1.9zM373.3 282.7h1.9v1.6h-1.9zM380.9 271.5h1.9v1.6h-1.9zM354.5 288.8h1.9v1.6h-1.9zM356.3 274.7h1.9v1.6h-1.9zM375.6 281.5h1.9v1.6h-1.9zM371.4 279.1h1.9v1.6h-1.9zM339.1 298.7h1.9v1.6h-1.9zM377.2 283.5h1.9v1.6h-1.9zM356.3 287.1h1.9v1.6h-1.9zM349.1 289.3h1.9v1.6h-1.9zM348.4 292.6h1.9v1.6h-1.9zM364.4 269.6h1.9v1.6h-1.9zM363.1 280.7h1.9v1.6h-1.9zM361.0 294.2h1.9v1.6h-1.9zM347.5 283.8h1.9v1.6h-1.9zM348.8 282.6h1.9v1.6h-1.9zM370.2 284.9h1.9v1.6h-1.9zM364.5 282.1h1.9v1.6h-1.9zM380.3 273.1h1.9v1.6h-1.9zM380.9 277.5h1.9v1.6h-1.9zM346.7 290.8h1.9v1.6h-1.9zM390.7 271.1h1.9v1.6h-1.9zM338.6 298.8h1.9v1.6h-1.9zM373.4 273.1h1.9v1.6h-1.9zM360.1 279.7h1.9v1.6h-1.9zM355.0 280.9h1.9v1.6h-1.9zM366.1 268.7h1.9v1.6h-1.9zM367.2 270.7h1.9v1.6h-1.9zM350.5 301.1h1.9v1.6h-1.9zM346.2 293.0h1.9v1.6h-1.9zM361.9 293.6h1.9v1.6h-1.9zM356.3 275.0h1.9v1.6h-1.9zM348.9 284.3h1.9v1.6h-1.9zM371.2 276.7h1.9v1.6h-1.9zM346.0 297.1h1.9v1.6h-1.9zM354.0 282.2h1.9v1.6h-1.9zM372.8 274.8h1.9v1.6h-1.9zM354.8 295.6h1.9v1.6h-1.9zM344.9 283.4h1.9v1.6h-1.9zM375.3 287.7h1.9v1.6h-1.9zM354.1 281.7h1.9v1.6h-1.9zM358.3 274.0h1.9v1.6h-1.9zM387.5 272.7h1.9v1.6h-1.9zM340.6 303.0h1.9v1.6h-1.9zM361.3 275.2h1.9v1.6h-1.9zM355.4 284.6h1.9v1.6h-1.9zM349.7 283.1h1.9v1.6h-1.9zM377.8 276.1h1.9v1.6h-1.9zM365.9 270.4h1.9v1.6h-1.9zM364.5 292.0h1.9v1.6h-1.9zM359.3 285.1h1.9v1.6h-1.9zM348.2 290.1h1.9v1.6h-1.9zM363.8 287.4h1.9v1.6h-1.9zM384.2 273.4h1.9v1.6h-1.9zM380.8 280.4h1.9v1.6h-1.9zM352.8 294.6h1.9v1.6h-1.9zM345.4 293.2h1.9v1.6h-1.9zM359.0 281.2h1.9v1.6h-1.9zM390.5 267.9h1.9v1.6h-1.9zM374.5 280.1h1.9v1.6h-1.9zM352.9 297.9h1.9v1.6h-1.9zM350.4 276.0h1.9v1.6h-1.9zM343.9 281.5h1.9v1.6h-1.9zM352.8 301.1h1.9v1.6h-1.9zM342.4 286.6h1.9v1.6h-1.9zM349.6 302.9h1.9v1.6h-1.9zM356.4 285.2h1.9v1.6h-1.9zM360.4 292.2h1.9v1.6h-1.9zM340.1 295.5h1.9v1.6h-1.9zM352.1 292.0h1.9v1.6h-1.9zM363.0 280.4h1.9v1.6h-1.9zM368.8 271.7h1.9v1.6h-1.9zM361.7 272.7h1.9v1.6h-1.9zM340.3 297.9h1.9v1.6h-1.9zM357.5 293.6h1.9v1.6h-1.9zM387.2 268.3h1.9v1.6h-1.9zM377.5 275.7h1.9v1.6h-1.9zM341.9 301.4h1.9v1.6h-1.9zM378.2 275.0h1.9v1.6h-1.9zM354.9 295.0h1.9v1.6h-1.9zM346.3 297.8h1.9v1.6h-1.9zM351.3 280.6h1.9v1.6h-1.9zM362.6 286.4h1.9v1.6h-1.9zM340.5 300.2h1.9v1.6h-1.9zM380.3 280.1h1.9v1.6h-1.9zM343.4 290.0h1.9v1.6h-1.9zM376.2 273.1h1.9v1.6h-1.9zM376.6 279.3h1.9v1.6h-1.9zM354.1 299.0h1.9v1.6h-1.9zM342.9 298.6h1.9v1.6h-1.9zM381.5 270.8h1.9v1.6h-1.9zM348.2 286.2h1.9v1.6h-1.9zM362.1 291.9h1.9v1.6h-1.9zM380.5 275.2h1.9v1.6h-1.9zM345.0 289.2h1.9v1.6h-1.9zM376.3 271.4h1.9v1.6h-1.9zM368.9 283.8h1.9v1.6h-1.9zM349.1 282.8h1.9v1.6h-1.9zM372.7 271.3h1.9v1.6h-1.9zM364.5 277.0h1.9v1.6h-1.9zM372.2 285.5h1.9v1.6h-1.9zM374.1 279.0h1.9v1.6h-1.9zM371.6 270.1h1.9v1.6h-1.9zM363.6 274.4h1.9v1.6h-1.9zM359.3 297.0h1.9v1.6h-1.9zM360.8 292.3h1.9v1.6h-1.9zM371.0 277.8h1.9v1.6h-1.9zM352.1 288.3h1.9v1.6h-1.9zM348.9 302.8h1.9v1.6h-1.9zM347.4 289.0h1.9v1.6h-1.9zM357.8 290.4h1.9v1.6h-1.9zM356.7 274.9h1.9v1.6h-1.9zM369.8 272.7h1.9v1.6h-1.9zM378.9 288.3h1.9v1.6h-1.9zM353.8 275.9h1.9v1.6h-1.9zM371.7 268.2h1.9v1.6h-1.9zM369.7 285.1h1.9v1.6h-1.9zM345.3 289.5h1.9v1.6h-1.9zM377.8 285.1h1.9v1.6h-1.9zM374.4 283.6h1.9v1.6h-1.9zM370.7 272.5h1.9v1.6h-1.9zM355.4 284.2h1.9v1.6h-1.9zM374.5 267.4h1.9v1.6h-1.9zM342.6 299.9h1.9v1.6h-1.9zM364.0 294.9h1.9v1.6h-1.9zM379.0 274.7h1.9v1.6h-1.9zM344.7 300.6h1.9v1.6h-1.9zM377.0 273.7h1.9v1.6h-1.9zM338.5 299.1h1.9v1.6h-1.9zM363.2 295.0h1.9v1.6h-1.9zM379.1 281.6h1.9v1.6h-1.9zM365.4 293.0h1.9v1.6h-1.9zM354.8 298.0h1.9v1.6h-1.9zM370.8 271.8h1.9v1.6h-1.9zM350.5 287.0h1.9v1.6h-1.9zM352.8 298.0h1.9v1.6h-1.9zM368.5 290.2h1.9v1.6h-1.9zM364.0 278.9h1.9v1.6h-1.9zM349.0 304.5h1.9v1.6h-1.9zM383.6 273.4h1.9v1.6h-1.9zM339.7 289.5h1.9v1.6h-1.9zM386.4 269.2h1.9v1.6h-1.9zM343.6 285.9h1.9v1.6h-1.9zM383.7 269.0h1.9v1.6h-1.9zM361.7 270.3h1.9v1.6h-1.9zM345.9 286.1h1.9v1.6h-1.9zM385.0 276.2h1.9v1.6h-1.9zM347.6 280.1h1.9v1.6h-1.9zM364.2 278.5h1.9v1.6h-1.9zM384.5 271.2h1.9v1.6h-1.9zM351.6 303.0h1.9v1.6h-1.9zM386.3 271.1h1.9v1.6h-1.9zM337.8 294.7h1.9v1.6h-1.9zM361.3 277.4h1.9v1.6h-1.9zM361.0 281.9h1.9v1.6h-1.9zM345.8 295.0h1.9v1.6h-1.9zM342.5 292.9h1.9v1.6h-1.9zM349.4 278.3h1.9v1.6h-1.9zM384.4 281.6h1.9v1.6h-1.9zM357.9 294.2h1.9v1.6h-1.9zM351.7 298.5h1.9v1.6h-1.9zM340.7 295.4h1.9v1.6h-1.9zM369.8 273.5h1.9v1.6h-1.9zM353.5 296.8h1.9v1.6h-1.9zM356.7 287.0h1.9v1.6h-1.9zM356.4 291.8h1.9v1.6h-1.9zM389.7 269.7h1.9v1.6h-1.9zM376.2 281.2h1.9v1.6h-1.9zM357.6 295.5h1.9v1.6h-1.9zM344.3 280.3h1.9v1.6h-1.9zM350.1 300.5h1.9v1.6h-1.9zM351.7 302.7h1.9v1.6h-1.9zM381.0 279.2h1.9v1.6h-1.9zM347.0 288.3h1.9v1.6h-1.9zM345.3 291.2h1.9v1.6h-1.9zM375.4 266.5h1.9v1.6h-1.9zM354.2 294.4h1.9v1.6h-1.9zM371.6 271.6h1.9v1.6h-1.9zM357.9 280.7h1.9v1.6h-1.9zM376.8 277.8h1.9v1.6h-1.9zM351.2 293.6h1.9v1.6h-1.9zM373.1 276.1h1.9v1.6h-1.9zM356.4 290.0h1.9v1.6h-1.9zM353.7 292.6h1.9v1.6h-1.9zM357.3 275.4h1.9v1.6h-1.9zM346.8 293.7h1.9v1.6h-1.9zM356.3 294.6h1.9v1.6h-1.9zM343.9 292.4h1.9v1.6h-1.9zM342.7 291.6h1.9v1.6h-1.9zM345.1 285.2h1.9v1.6h-1.9zM375.8 280.8h1.9v1.6h-1.9zM367.0 274.3h1.9v1.6h-1.9zM370.7 289.4h1.9v1.6h-1.9zM353.2 284.7h1.9v1.6h-1.9zM343.6 286.2h1.9v1.6h-1.9zM353.0 286.4h1.9v1.6h-1.9zM367.3 267.8h1.9v1.6h-1.9zM347.4 288.5h1.9v1.6h-1.9zM367.7 286.1h1.9v1.6h-1.9zM381.6 264.4h1.9v1.6h-1.9zM360.3 275.3h1.9v1.6h-1.9zM360.6 275.6h1.9v1.6h-1.9zM378.7 287.2h1.9v1.6h-1.9zM377.1 272.9h1.9v1.6h-1.9zM340.5 294.9h1.9v1.6h-1.9zM360.6 293.3h1.9v1.6h-1.9zM376.4 282.9h1.9v1.6h-1.9zM362.5 286.9h1.9v1.6h-1.9zM354.5 288.2h1.9v1.6h-1.9zM374.8 282.0h1.9v1.6h-1.9zM371.0 273.6h1.9v1.6h-1.9zM353.0 289.5h1.9v1.6h-1.9zM377.2 265.2h1.9v1.6h-1.9zM388.8 273.8h1.9v1.6h-1.9zM360.2 293.8h1.9v1.6h-1.9zM346.3 288.8h1.9v1.6h-1.9zM380.6 282.3h1.9v1.6h-1.9zM349.7 303.8h1.9v1.6h-1.9zM385.2 264.3h1.9v1.6h-1.9zM357.1 293.3h1.9v1.6h-1.9zM336.0 284.5h1.9v1.6h-1.9zM333.4 286.3h1.9v1.6h-1.9zM336.7 295.7h1.9v1.6h-1.9zM338.9 290.9h1.9v1.6h-1.9zM338.3 301.8h1.9v1.6h-1.9zM332.4 288.2h1.9v1.6h-1.9zM339.0 284.4h1.9v1.6h-1.9zM331.4 294.8h1.9v1.6h-1.9zM337.1 296.6h1.9v1.6h-1.9zM333.2 288.8h1.9v1.6h-1.9zM334.7 301.2h1.9v1.6h-1.9zM332.6 288.5h1.9v1.6h-1.9zM332.6 294.2h1.9v1.6h-1.9zM336.3 296.3h1.9v1.6h-1.9zM333.4 301.9h1.9v1.6h-1.9zM335.3 293.7h1.9v1.6h-1.9zM333.8 289.3h1.9v1.6h-1.9zM332.8 283.8h1.9v1.6h-1.9zM337.8 287.4h1.9v1.6h-1.9zM334.4 305.3h1.9v1.6h-1.9zM337.7 294.4h1.9v1.6h-1.9zM335.7 299.5h1.9v1.6h-1.9zM336.5 285.0h1.9v1.6h-1.9zM336.1 297.0h1.9v1.6h-1.9zM336.3 302.1h1.9v1.6h-1.9zM336.3 287.0h1.9v1.6h-1.9zM333.5 291.7h1.9v1.6h-1.9zM392.2 278.2h1.9v1.6h-1.9zM398.1 280.2h1.9v1.6h-1.9zM385.0 287.7h1.9v1.6h-1.9zM396.2 275.9h1.9v1.6h-1.9zM393.0 269.5h1.9v1.6h-1.9zM389.8 268.0h1.9v1.6h-1.9zM389.8 265.6h1.9v1.6h-1.9zM389.7 271.3h1.9v1.6h-1.9zM404.7 276.5h1.9v1.6h-1.9zM387.6 288.5h1.9v1.6h-1.9zM391.0 276.2h1.9v1.6h-1.9zM386.4 267.9h1.9v1.6h-1.9zM399.8 267.8h1.9v1.6h-1.9zM388.7 279.0h1.9v1.6h-1.9zM399.5 278.5h1.9v1.6h-1.9zM397.6 268.8h1.9v1.6h-1.9zM401.3 289.2h1.9v1.6h-1.9zM386.3 263.2h1.9v1.6h-1.9zM390.0 269.1h1.9v1.6h-1.9zM382.9 274.5h1.9v1.6h-1.9zM391.2 264.6h1.9v1.6h-1.9zM389.0 273.0h1.9v1.6h-1.9zM349.1 342.6h1.9v1.6h-1.9zM331.5 342.6h1.9v1.6h-1.9zM333.7 337.0h1.9v1.6h-1.9zM333.3 345.4h1.9v1.6h-1.9zM349.2 337.6h1.9v1.6h-1.9zM348.0 340.2h1.9v1.6h-1.9zM343.6 344.1h1.9v1.6h-1.9zM350.8 340.5h1.9v1.6h-1.9zM351.2 335.6h1.9v1.6h-1.9zM340.8 342.3h1.9v1.6h-1.9zM345.6 338.6h1.9v1.6h-1.9zM342.6 339.8h1.9v1.6h-1.9zM352.3 340.8h1.9v1.6h-1.9zM353.5 340.1h1.9v1.6h-1.9zM349.4 345.1h1.9v1.6h-1.9zM337.2 348.3h1.9v1.6h-1.9zM353.7 348.0h1.9v1.6h-1.9zM337.6 341.8h1.9v1.6h-1.9zM367.9 314.6h1.9v1.6h-1.9zM376.6 310.1h1.9v1.6h-1.9zM377.8 305.7h1.9v1.6h-1.9zM369.6 314.8h1.9v1.6h-1.9zM377.2 312.1h1.9v1.6h-1.9zM373.8 309.2h1.9v1.6h-1.9zM371.0 319.0h1.9v1.6h-1.9zM375.1 323.9h1.9v1.6h-1.9zM367.7 312.7h1.9v1.6h-1.9zM367.9 311.2h1.9v1.6h-1.9zM378.7 310.5h1.9v1.6h-1.9zM370.4 306.7h1.9v1.6h-1.9zM377.4 319.5h1.9v1.6h-1.9zM407.7 263.5h1.9v1.6h-1.9zM436.9 259.7h1.9v1.6h-1.9zM400.9 265.6h1.9v1.6h-1.9zM396.7 290.5h1.9v1.6h-1.9zM434.4 284.7h1.9v1.6h-1.9zM392.7 261.2h1.9v1.6h-1.9zM407.4 259.3h1.9v1.6h-1.9zM417.1 262.3h1.9v1.6h-1.9zM394.8 283.2h1.9v1.6h-1.9zM398.1 282.3h1.9v1.6h-1.9zM411.9 268.2h1.9v1.6h-1.9zM413.3 260.4h1.9v1.6h-1.9zM390.1 286.1h1.9v1.6h-1.9zM441.9 279.3h1.9v1.6h-1.9zM413.3 265.1h1.9v1.6h-1.9zM414.7 289.4h1.9v1.6h-1.9zM440.1 271.7h1.9v1.6h-1.9zM414.6 257.9h1.9v1.6h-1.9zM420.8 271.0h1.9v1.6h-1.9zM408.1 268.9h1.9v1.6h-1.9zM392.7 277.4h1.9v1.6h-1.9zM406.3 283.2h1.9v1.6h-1.9zM425.5 266.1h1.9v1.6h-1.9zM404.2 258.0h1.9v1.6h-1.9zM401.8 289.8h1.9v1.6h-1.9zM420.8 282.7h1.9v1.6h-1.9zM375.9 349.6h1.9v1.6h-1.9zM437.2 315.7h1.9v1.6h-1.9zM429.9 267.7h1.9v1.6h-1.9zM333.5 259.5h1.9v1.6h-1.9zM387.1 355.3h1.9v1.6h-1.9z"/>
</svg></body></html>
